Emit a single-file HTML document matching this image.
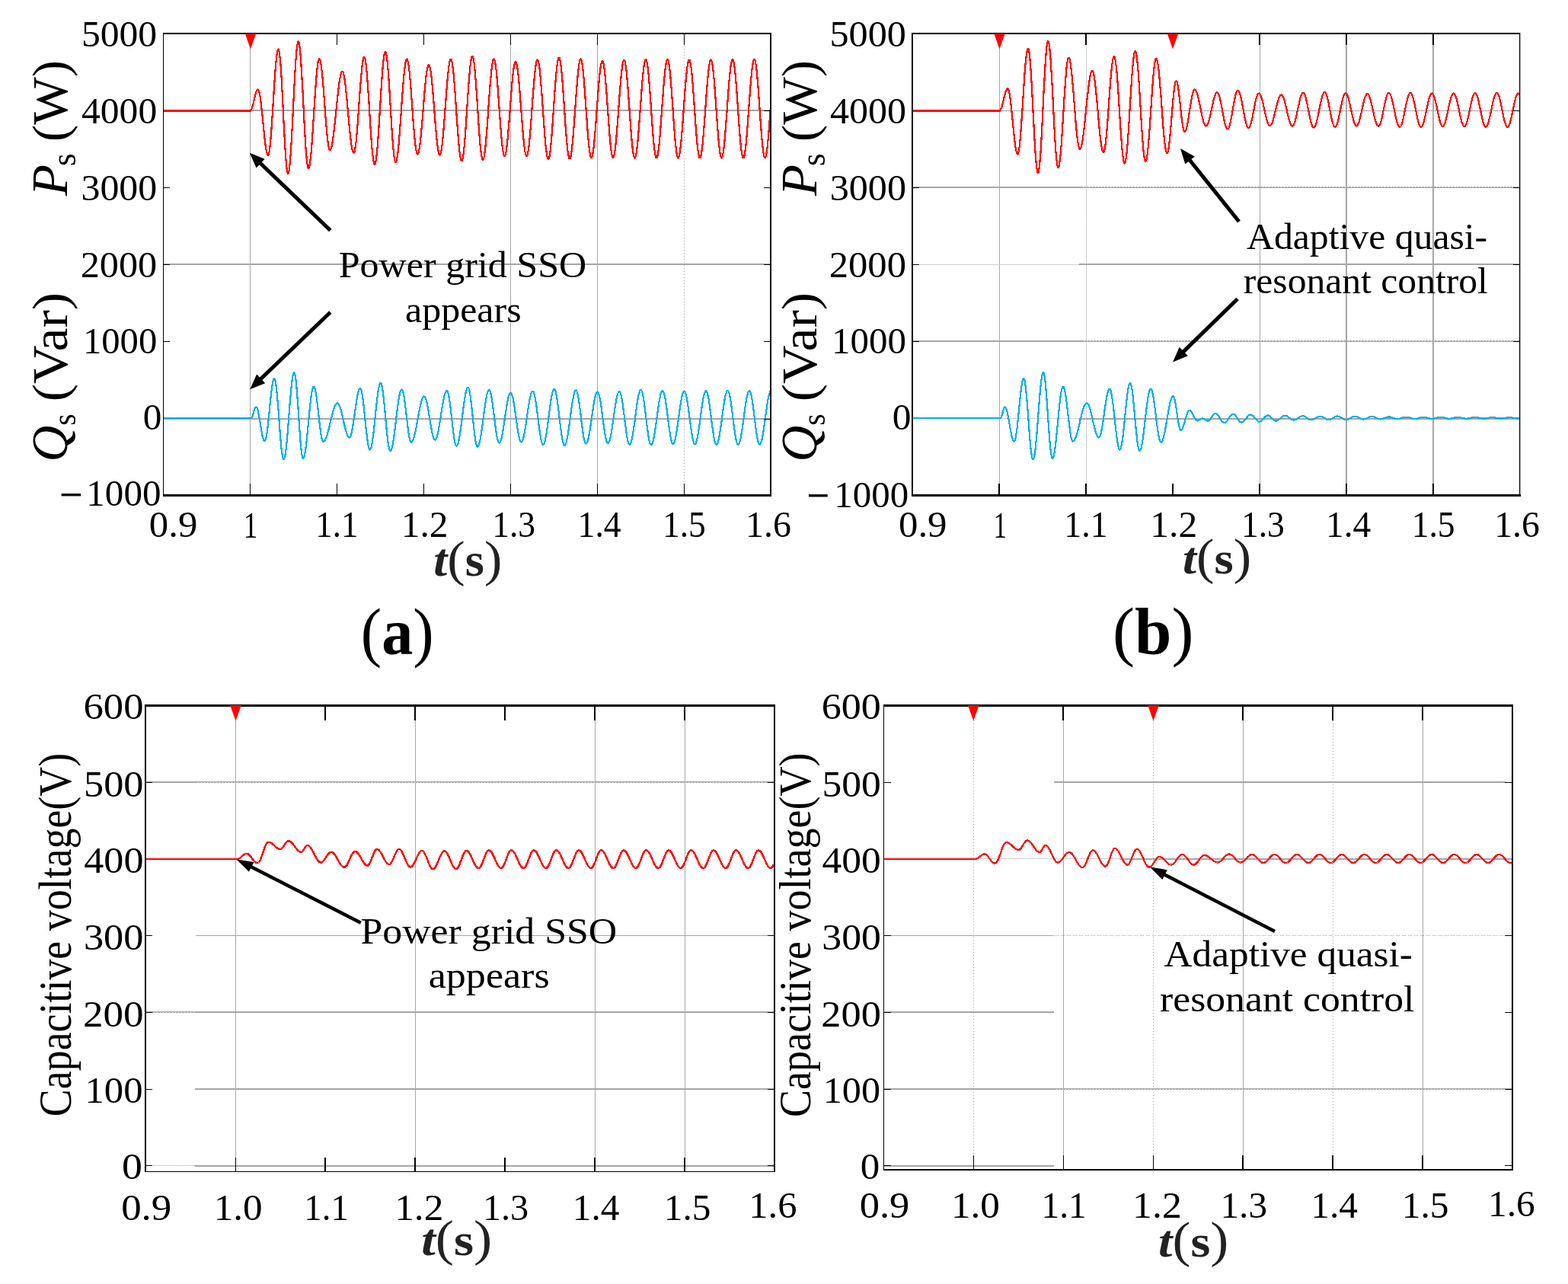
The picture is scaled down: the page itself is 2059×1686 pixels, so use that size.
<!DOCTYPE html>
<html lang="en"><head><meta charset="utf-8"><title>Simulation results</title>
<style>html,body{margin:0;padding:0;background:#fff}svg{display:block}text{font-family:"Liberation Serif","DejaVu Serif",serif;white-space:pre}</style>
</head><body>
<svg width="2059" height="1686" viewBox="0 0 2059 1686">
<rect width="2059" height="1686" fill="#fff"/>
<g id="plot-a">
<rect x="215" y="144" width="797" height="2" fill="#a6a6a6"/>
<rect x="215" y="346" width="797" height="2" fill="#a6a6a6"/>
<rect x="215" y="549" width="797" height="2" fill="#a6a6a6"/>
<rect x="328" y="44" width="1" height="606" fill="#a6a6a6"/>
<rect x="670" y="44" width="1" height="606" fill="#a6a6a6"/>
<rect x="784" y="44" width="1" height="606" fill="#a6a6a6"/>
<line x1="898.5" y1="44" x2="898.5" y2="650" stroke="#a0a0a0" stroke-width="1" stroke-dasharray="1 3"/>
<g shape-rendering="crispEdges">
<rect x="215" y="144" width="115" height="3" fill="#ff0000"/>
<polyline points="328.5,145.5 329.0,145.3 329.5,144.8 330.0,144.0 330.6,142.8 331.1,141.4 331.6,139.7 332.1,137.9 332.6,135.8 333.1,133.7 333.6,131.5 334.1,129.3 334.6,127.2 335.2,125.1 335.7,123.3 336.2,121.6 336.7,120.2 337.2,119.0 337.7,118.2 338.2,117.7 338.8,117.5 339.3,117.8 339.8,118.8 340.3,120.3 340.8,122.4 341.3,125.1 341.8,128.3 342.3,132.0 342.8,136.1 343.3,140.6 343.8,145.3 344.4,150.3 344.9,155.4 345.4,160.6 345.9,165.8 346.4,170.9 346.9,175.9 347.4,180.7 347.9,185.1 348.4,189.2 348.9,192.9 349.5,196.1 350.0,198.8 350.5,200.9 351.0,202.5 351.5,203.4 352.0,203.8 352.5,203.3 353.0,201.9 353.5,199.6 354.0,196.3 354.5,192.3 355.0,187.5 355.5,181.9 356.0,175.7 356.5,168.9 357.0,161.7 357.5,154.1 358.0,146.2 358.5,138.2 359.0,130.1 359.5,122.0 360.0,114.2 360.5,106.5 361.0,99.3 361.5,92.5 362.0,86.3 362.5,80.8 363.0,76.0 363.5,71.9 364.0,68.7 364.5,66.4 365.0,65.0 365.5,64.5 366.0,65.1 366.5,67.1 367.0,70.2 367.5,74.6 368.1,80.1 368.6,86.7 369.1,94.1 369.6,102.4 370.1,111.4 370.6,121.0 371.1,130.9 371.6,141.1 372.1,151.4 372.6,161.6 373.1,171.5 373.7,181.1 374.2,190.1 374.7,198.4 375.2,205.8 375.7,212.4 376.2,217.9 376.7,222.3 377.2,225.4 377.7,227.4 378.2,228.0 378.8,227.4 379.2,225.7 379.8,222.8 380.2,218.8 380.8,213.7 381.2,207.7 381.8,200.8 382.2,193.1 382.8,184.6 383.2,175.6 383.8,166.1 384.2,156.3 384.8,146.3 385.2,136.2 385.8,126.2 386.2,116.4 386.8,106.9 387.2,97.9 387.8,89.4 388.2,81.7 388.8,74.8 389.2,68.8 389.8,63.7 390.2,59.7 390.8,56.8 391.2,55.1 391.8,54.5 392.3,55.1 392.8,56.9 393.3,59.9 393.8,64.0 394.3,69.2 394.8,75.4 395.3,82.5 395.8,90.5 396.3,99.1 396.8,108.2 397.4,117.8 397.9,127.7 398.4,137.8 398.9,147.8 399.4,157.7 399.9,167.3 400.4,176.4 400.9,185.0 401.4,193.0 401.9,200.1 402.5,206.3 403.0,211.5 403.5,215.6 404.0,218.6 404.5,220.4 405.0,221.0 405.5,220.5 406.0,219.2 406.5,217.0 407.0,213.9 407.5,210.0 408.1,205.3 408.6,199.9 409.1,193.9 409.6,187.3 410.1,180.2 410.6,172.8 411.1,165.0 411.6,157.1 412.1,149.0 412.6,140.9 413.1,133.0 413.7,125.2 414.2,117.8 414.7,110.7 415.2,104.1 415.7,98.1 416.2,92.7 416.7,88.0 417.2,84.1 417.7,81.0 418.2,78.8 418.7,77.5 419.2,77.0 419.8,77.4 420.2,78.5 420.8,80.4 421.2,82.9 421.8,86.2 422.2,90.1 422.8,94.6 423.2,99.6 423.8,105.1 424.2,111.0 424.8,117.2 425.2,123.6 425.8,130.3 426.2,137.0 426.8,143.7 427.2,150.4 427.8,156.8 428.2,163.0 428.8,168.9 429.2,174.4 429.8,179.4 430.2,183.9 430.8,187.8 431.2,191.1 431.8,193.6 432.2,195.5 432.8,196.6 433.2,197.0 433.8,196.8 434.3,196.0 434.8,194.8 435.3,193.1 435.8,190.9 436.3,188.3 436.8,185.3 437.3,181.9 437.8,178.1 438.3,174.1 438.8,169.7 439.3,165.1 439.9,160.4 440.4,155.4 440.9,150.4 441.4,145.4 441.9,140.3 442.4,135.3 442.9,130.4 443.4,125.6 443.9,121.0 444.4,116.7 444.9,112.6 445.4,108.9 445.9,105.5 446.5,102.5 447.0,99.8 447.5,97.7 448.0,96.0 448.5,94.7 449.0,94.0 449.5,93.8 450.0,94.0 450.5,94.9 451.0,96.4 451.5,98.4 452.0,100.9 452.5,104.0 453.0,107.5 453.5,111.5 454.0,115.8 454.5,120.5 455.0,125.5 455.5,130.7 456.0,136.1 456.5,141.7 457.0,147.2 457.5,152.8 458.0,158.4 458.5,163.8 459.0,169.0 459.5,174.0 460.0,178.7 460.5,183.0 461.0,187.0 461.5,190.5 462.0,193.6 462.5,196.1 463.0,198.1 463.5,199.6 464.0,200.5 464.5,200.8 465.0,200.3 465.5,199.1 466.0,197.0 466.5,194.1 467.0,190.4 467.6,186.0 468.1,181.0 468.6,175.4 469.1,169.3 469.6,162.8 470.1,155.9 470.6,148.8 471.1,141.5 471.6,134.2 472.1,127.0 472.6,119.8 473.2,113.0 473.7,106.4 474.2,100.3 474.7,94.7 475.2,89.7 475.7,85.3 476.2,81.7 476.7,78.8 477.2,76.7 477.7,75.4 478.2,75.0 478.8,75.5 479.3,76.9 479.8,79.2 480.3,82.5 480.8,86.6 481.3,91.5 481.8,97.1 482.3,103.3 482.8,110.2 483.3,117.5 483.9,125.2 484.4,133.2 484.9,141.3 485.4,149.5 485.9,157.6 486.4,165.6 486.9,173.2 487.4,180.6 487.9,187.4 488.4,193.7 488.9,199.3 489.5,204.2 490.0,208.3 490.5,211.5 491.0,213.9 491.5,215.3 492.0,215.8 492.5,215.3 493.0,213.9 493.5,211.6 494.0,208.4 494.5,204.4 495.0,199.6 495.5,194.1 496.0,187.9 496.5,181.2 497.0,173.9 497.5,166.3 498.0,158.3 498.5,150.1 499.0,141.9 499.5,133.6 500.0,125.4 500.5,117.5 501.0,109.8 501.5,102.6 502.0,95.8 502.5,89.6 503.0,84.1 503.5,79.3 504.0,75.3 504.5,72.1 505.0,69.9 505.5,68.5 506.0,68.0 506.5,68.5 507.0,70.0 507.5,72.4 508.0,75.7 508.5,79.9 509.0,85.0 509.5,90.7 510.0,97.2 510.5,104.2 511.0,111.8 511.5,119.7 512.0,127.9 512.5,136.3 513.0,144.7 513.5,153.1 514.0,161.3 514.5,169.2 515.0,176.8 515.5,183.8 516.0,190.3 516.5,196.0 517.0,201.1 517.5,205.3 518.0,208.6 518.5,211.0 519.0,212.5 519.5,213.0 520.0,212.6 520.5,211.4 521.0,209.5 521.5,206.7 522.0,203.3 522.6,199.2 523.1,194.4 523.6,189.1 524.1,183.3 524.6,177.0 525.1,170.3 525.6,163.4 526.1,156.2 526.6,148.9 527.1,141.6 527.6,134.3 528.1,127.1 528.7,120.2 529.2,113.5 529.7,107.2 530.2,101.4 530.7,96.1 531.2,91.3 531.7,87.2 532.2,83.8 532.7,81.0 533.2,79.1 533.7,77.9 534.2,77.5 534.8,77.9 535.2,79.1 535.8,81.0 536.2,83.7 536.8,87.1 537.2,91.1 537.8,95.8 538.2,101.0 538.8,106.7 539.2,112.9 539.8,119.4 540.2,126.1 540.8,133.0 541.2,140.0 541.8,147.0 542.2,153.9 542.8,160.6 543.2,167.1 543.8,173.3 544.2,179.0 544.8,184.2 545.2,188.9 545.8,192.9 546.2,196.3 546.8,199.0 547.2,200.9 547.8,202.1 548.2,202.5 548.8,202.2 549.3,201.1 549.8,199.4 550.3,197.1 550.8,194.1 551.3,190.5 551.8,186.4 552.3,181.8 552.8,176.7 553.3,171.3 553.8,165.5 554.4,159.5 554.9,153.3 555.4,146.9 555.9,140.6 556.4,134.2 556.9,128.0 557.4,122.0 557.9,116.2 558.4,110.8 558.9,105.7 559.4,101.1 559.9,97.0 560.5,93.4 561.0,90.4 561.5,88.1 562.0,86.4 562.5,85.3 563.0,85.0 563.5,85.3 564.0,86.4 564.5,88.1 565.0,90.5 565.5,93.5 566.0,97.1 566.5,101.2 567.0,105.9 567.5,111.0 568.0,116.5 568.5,122.3 569.0,128.4 569.5,134.7 570.0,141.0 570.5,147.5 571.0,153.8 571.5,160.1 572.0,166.2 572.5,172.0 573.0,177.5 573.5,182.6 574.0,187.3 574.5,191.4 575.0,195.0 575.5,198.0 576.0,200.4 576.5,202.1 577.0,203.2 577.5,203.5 578.0,203.1 578.5,202.0 579.0,200.2 579.5,197.7 580.0,194.5 580.5,190.7 581.0,186.2 581.5,181.3 582.0,175.9 582.5,170.0 583.0,163.8 583.5,157.4 584.0,150.7 584.5,143.9 585.0,137.1 585.5,130.3 586.0,123.6 586.5,117.2 587.0,111.0 587.5,105.1 588.0,99.7 588.5,94.8 589.0,90.3 589.5,86.5 590.0,83.3 590.5,80.8 591.0,79.0 591.5,77.9 592.0,77.5 592.5,77.9 593.0,79.2 593.5,81.3 594.0,84.1 594.5,87.8 595.1,92.1 595.6,97.1 596.1,102.7 596.6,108.8 597.1,115.4 597.6,122.3 598.1,129.5 598.6,136.9 599.1,144.4 599.6,151.9 600.1,159.3 600.7,166.5 601.2,173.4 601.7,180.0 602.2,186.1 602.7,191.7 603.2,196.7 603.7,201.0 604.2,204.6 604.7,207.5 605.2,209.6 605.7,210.8 606.2,211.2 606.8,210.8 607.2,209.5 607.8,207.4 608.2,204.4 608.8,200.7 609.2,196.3 609.8,191.1 610.2,185.4 610.8,179.1 611.2,172.3 611.8,165.2 612.2,157.8 612.8,150.2 613.2,142.5 613.8,134.8 614.2,127.2 614.8,119.8 615.2,112.7 615.8,105.9 616.2,99.6 616.8,93.9 617.2,88.7 617.8,84.3 618.2,80.6 618.8,77.6 619.2,75.5 619.8,74.2 620.2,73.8 620.8,74.2 621.3,75.6 621.8,77.9 622.3,81.0 622.8,85.0 623.3,89.7 623.8,95.1 624.3,101.2 624.8,107.8 625.3,114.9 625.9,122.3 626.4,130.0 626.9,137.9 627.4,145.8 627.9,153.7 628.4,161.4 628.9,168.9 629.4,175.9 629.9,182.6 630.4,188.6 630.9,194.1 631.5,198.8 632.0,202.8 632.5,205.9 633.0,208.2 633.5,209.5 634.0,210.0 634.5,209.6 635.0,208.5 635.5,206.5 636.0,203.9 636.5,200.5 637.0,196.5 637.5,191.8 638.0,186.6 638.5,180.9 639.0,174.8 639.5,168.3 640.0,161.5 640.5,154.5 641.0,147.3 641.5,140.2 642.0,133.0 642.5,126.0 643.0,119.2 643.5,112.7 644.0,106.6 644.5,100.9 645.0,95.7 645.5,91.0 646.0,87.0 646.5,83.6 647.0,81.0 647.5,79.0 648.0,77.9 648.5,77.5 649.0,77.9 649.5,79.1 650.0,81.1 650.5,83.8 651.0,87.3 651.5,91.4 652.0,96.2 652.5,101.5 653.0,107.3 653.5,113.6 654.0,120.2 654.5,127.1 655.0,134.1 655.5,141.2 656.0,148.4 656.5,155.4 657.0,162.3 657.5,168.9 658.0,175.2 658.5,181.0 659.0,186.3 659.5,191.1 660.0,195.2 660.5,198.7 661.0,201.4 661.5,203.4 662.0,204.6 662.5,205.0 663.0,204.6 663.5,203.6 664.0,201.8 664.5,199.3 665.0,196.1 665.5,192.4 666.0,188.0 666.5,183.2 667.0,177.8 667.5,172.1 668.0,166.0 668.5,159.7 669.0,153.1 669.5,146.5 670.0,139.8 670.5,133.1 671.0,126.6 671.5,120.2 672.0,114.1 672.5,108.4 673.0,103.1 673.5,98.2 674.0,93.9 674.5,90.1 675.0,87.0 675.5,84.5 676.0,82.7 676.5,81.6 677.0,81.2 677.5,81.6 678.0,82.7 678.5,84.5 679.0,87.0 679.5,90.1 680.0,93.9 680.5,98.2 681.0,103.1 681.5,108.4 682.0,114.1 682.5,120.2 683.0,126.6 683.5,133.1 684.0,139.8 684.5,146.5 685.0,153.1 685.5,159.7 686.0,166.0 686.5,172.1 687.0,177.8 687.5,183.2 688.0,188.0 688.5,192.4 689.0,196.1 689.5,199.3 690.0,201.8 690.5,203.6 691.0,204.6 691.5,205.0 692.0,204.6 692.5,203.4 693.0,201.5 693.5,198.7 694.0,195.3 694.6,191.2 695.1,186.5 695.6,181.2 696.1,175.4 696.6,169.2 697.1,162.6 697.6,155.8 698.1,148.8 698.6,141.8 699.1,134.7 699.6,127.7 700.2,120.9 700.7,114.3 701.2,108.1 701.7,102.3 702.2,97.0 702.7,92.3 703.2,88.2 703.7,84.8 704.2,82.0 704.7,80.1 705.2,78.9 705.8,78.5 706.3,78.9 706.8,80.1 707.3,82.2 707.8,85.0 708.3,88.5 708.8,92.7 709.3,97.6 709.8,103.1 710.3,109.0 710.8,115.4 711.3,122.2 711.9,129.2 712.4,136.4 712.9,143.8 713.4,151.1 713.9,158.3 714.4,165.3 714.9,172.1 715.4,178.5 715.9,184.4 716.4,189.9 716.9,194.8 717.5,199.0 718.0,202.5 718.5,205.3 719.0,207.4 719.5,208.6 720.0,209.0 720.5,208.6 721.0,207.3 721.5,205.3 722.0,202.4 722.5,198.8 723.0,194.4 723.5,189.4 724.0,183.9 724.5,177.8 725.0,171.2 725.5,164.3 726.0,157.1 726.5,149.7 727.0,142.2 727.5,134.8 728.0,127.4 728.5,120.2 729.0,113.3 729.5,106.7 730.0,100.6 730.5,95.1 731.0,90.1 731.5,85.7 732.0,82.1 732.5,79.2 733.0,77.2 733.5,75.9 734.0,75.5 734.5,75.9 735.0,77.2 735.5,79.2 736.0,82.1 736.5,85.7 737.0,90.0 737.5,95.0 738.0,100.5 738.5,106.6 739.0,113.1 739.5,120.0 740.0,127.2 740.5,134.6 741.0,142.0 741.5,149.4 742.0,156.8 742.5,164.0 743.0,170.9 743.5,177.4 744.0,183.5 744.5,189.0 745.0,194.0 745.5,198.3 746.0,201.9 746.5,204.8 747.0,206.8 747.5,208.1 748.0,208.5 748.5,208.1 749.0,207.0 749.5,205.1 750.0,202.4 750.5,199.1 751.0,195.1 751.5,190.6 752.0,185.4 752.5,179.8 753.0,173.7 753.5,167.2 754.0,160.5 754.5,153.6 755.0,146.5 755.5,139.5 756.0,132.4 756.5,125.5 757.0,118.8 757.5,112.3 758.0,106.2 758.5,100.6 759.0,95.4 759.5,90.9 760.0,86.9 760.5,83.6 761.0,80.9 761.5,79.0 762.0,77.9 762.5,77.5 763.0,77.9 763.5,79.1 764.0,81.1 764.5,83.9 765.0,87.4 765.5,91.6 766.0,96.5 766.5,101.9 767.0,107.8 767.5,114.2 768.0,120.9 768.5,127.8 769.0,135.0 769.5,142.2 770.0,149.5 770.5,156.7 771.0,163.6 771.5,170.3 772.0,176.7 772.5,182.6 773.0,188.0 773.5,192.9 774.0,197.1 774.5,200.6 775.0,203.4 775.5,205.4 776.0,206.6 776.5,207.0 777.0,206.6 777.5,205.5 778.0,203.7 778.5,201.1 779.0,197.9 779.5,194.1 780.0,189.6 780.5,184.6 781.0,179.1 781.5,173.2 782.0,167.0 782.5,160.5 783.0,153.8 783.5,146.9 784.0,140.1 784.5,133.2 785.0,126.5 785.5,120.0 786.0,113.8 786.5,107.9 787.0,102.4 787.5,97.4 788.0,92.9 788.5,89.1 789.0,85.9 789.5,83.3 790.0,81.5 790.5,80.4 791.0,80.0 791.5,80.4 792.0,81.6 792.5,83.6 793.0,86.3 793.5,89.7 794.0,93.9 794.5,98.6 795.0,103.9 795.5,109.7 796.0,115.9 796.5,122.5 797.0,129.4 797.5,136.4 798.0,143.5 798.5,150.6 799.0,157.6 799.5,164.5 800.0,171.1 800.5,177.3 801.0,183.1 801.5,188.4 802.0,193.1 802.5,197.3 803.0,200.7 803.5,203.4 804.0,205.4 804.5,206.6 805.0,207.0 805.5,206.6 806.0,205.5 806.5,203.6 807.0,201.1 807.5,197.8 808.0,193.9 808.5,189.5 809.0,184.4 809.5,178.9 810.0,173.0 810.5,166.7 811.0,160.1 811.5,153.4 812.0,146.5 812.5,139.5 813.0,132.6 813.5,125.9 814.0,119.3 814.5,113.0 815.0,107.1 815.5,101.6 816.0,96.5 816.5,92.1 817.0,88.2 817.5,84.9 818.0,82.4 818.5,80.5 819.0,79.4 819.5,79.0 820.0,79.4 820.5,80.6 821.0,82.6 821.5,85.4 822.0,88.8 822.5,93.0 823.0,97.8 823.5,103.2 824.0,109.1 824.5,115.4 825.0,122.0 825.5,129.0 826.0,136.1 826.5,143.2 827.0,150.4 827.5,157.5 828.0,164.5 828.5,171.1 829.0,177.4 829.5,183.3 830.0,188.7 830.5,193.5 831.0,197.7 831.5,201.1 832.0,203.9 832.5,205.9 833.0,207.1 833.5,207.5 834.0,207.1 834.5,206.0 835.0,204.1 835.5,201.5 836.0,198.2 836.5,194.3 837.0,189.8 837.5,184.7 838.0,179.1 838.5,173.1 839.0,166.7 839.5,160.1 840.0,153.2 840.5,146.3 841.0,139.2 841.5,132.3 842.0,125.4 842.5,118.8 843.0,112.4 843.5,106.4 844.0,100.8 844.5,95.7 845.0,91.2 845.5,87.3 846.0,84.0 846.5,81.4 847.0,79.5 847.5,78.4 848.0,78.0 848.5,78.4 849.0,79.6 849.5,81.6 850.0,84.4 850.5,87.9 851.0,92.1 851.5,97.0 852.0,102.4 852.5,108.3 853.0,114.7 853.5,121.4 854.0,128.3 854.5,135.5 855.0,142.8 855.5,150.0 856.0,157.2 856.5,164.1 857.0,170.8 857.5,177.2 858.0,183.1 858.5,188.5 859.0,193.4 859.5,197.6 860.0,201.1 860.5,203.9 861.0,205.9 861.5,207.1 862.0,207.5 862.5,207.1 863.0,206.0 863.5,204.1 864.0,201.5 864.5,198.2 865.0,194.3 865.5,189.8 866.0,184.7 866.5,179.1 867.0,173.1 867.5,166.7 868.0,160.1 868.5,153.2 869.0,146.3 869.5,139.2 870.0,132.3 870.5,125.4 871.0,118.8 871.5,112.4 872.0,106.4 872.5,100.8 873.0,95.7 873.5,91.2 874.0,87.3 874.5,84.0 875.0,81.4 875.5,79.5 876.0,78.4 876.5,78.0 877.0,78.4 877.5,79.6 878.0,81.6 878.5,84.4 879.0,87.9 879.5,92.1 880.0,97.0 880.5,102.4 881.0,108.3 881.5,114.7 882.0,121.4 882.5,128.3 883.0,135.5 883.5,142.8 884.0,150.0 884.5,157.2 885.0,164.1 885.5,170.8 886.0,177.2 886.5,183.1 887.0,188.5 887.5,193.4 888.0,197.6 888.5,201.1 889.0,203.9 889.5,205.9 890.0,207.1 890.5,207.5 891.0,207.1 891.5,206.0 892.0,204.1 892.5,201.5 893.0,198.3 893.5,194.3 894.0,189.8 894.5,184.8 895.0,179.2 895.5,173.2 896.0,166.9 896.5,160.3 897.0,153.4 897.5,146.5 898.0,139.5 898.5,132.6 899.0,125.7 899.5,119.1 900.0,112.8 900.5,106.8 901.0,101.2 901.5,96.2 902.0,91.7 902.5,87.7 903.0,84.5 903.5,81.9 904.0,80.0 904.5,78.9 905.0,78.5 905.5,78.9 906.0,80.1 906.5,82.1 907.0,84.9 907.5,88.4 908.0,92.6 908.5,97.4 909.0,102.8 909.5,108.7 910.0,115.0 910.5,121.7 911.0,128.6 911.5,135.8 912.0,143.0 912.5,150.2 913.0,157.4 913.5,164.3 914.0,171.0 914.5,177.3 915.0,183.2 915.5,188.6 916.0,193.4 916.5,197.6 917.0,201.1 917.5,203.9 918.0,205.9 918.5,207.1 919.0,207.5 919.5,207.1 920.0,206.0 920.5,204.1 921.0,201.5 921.5,198.3 922.0,194.3 922.5,189.8 923.0,184.8 923.5,179.2 924.0,173.2 924.5,166.9 925.0,160.3 925.5,153.4 926.0,146.5 926.5,139.5 927.0,132.6 927.5,125.7 928.0,119.1 928.5,112.8 929.0,106.8 929.5,101.2 930.0,96.2 930.5,91.7 931.0,87.7 931.5,84.5 932.0,81.9 932.5,80.0 933.0,78.9 933.5,78.5 934.0,78.9 934.5,80.1 935.0,82.1 935.5,84.9 936.0,88.4 936.5,92.6 937.0,97.4 937.5,102.8 938.0,108.7 938.5,115.0 939.0,121.7 939.5,128.6 940.0,135.8 940.5,143.0 941.0,150.2 941.5,157.4 942.0,164.3 942.5,171.0 943.0,177.3 943.5,183.2 944.0,188.6 944.5,193.4 945.0,197.6 945.5,201.1 946.0,203.9 946.5,205.9 947.0,207.1 947.5,207.5 948.0,207.1 948.5,206.0 949.0,204.1 949.5,201.5 950.0,198.2 950.5,194.3 951.0,189.8 951.5,184.7 952.0,179.1 952.5,173.1 953.0,166.7 953.5,160.1 954.0,153.2 954.5,146.3 955.0,139.2 955.5,132.3 956.0,125.4 956.5,118.8 957.0,112.4 957.5,106.4 958.0,100.8 958.5,95.7 959.0,91.2 959.5,87.3 960.0,84.0 960.5,81.4 961.0,79.5 961.5,78.4 962.0,78.0 962.5,78.4 963.0,79.6 963.5,81.6 964.0,84.4 964.5,87.9 965.0,92.1 965.5,97.0 966.0,102.4 966.5,108.3 967.0,114.7 967.5,121.4 968.0,128.3 968.5,135.5 969.0,142.8 969.5,150.0 970.0,157.2 970.5,164.1 971.0,170.8 971.5,177.2 972.0,183.1 972.5,188.5 973.0,193.4 973.5,197.6 974.0,201.1 974.5,203.9 975.0,205.9 975.5,207.1 976.0,207.5 976.5,207.1 977.0,206.0 977.5,204.1 978.0,201.5 978.5,198.2 979.0,194.3 979.5,189.8 980.0,184.7 980.5,179.1 981.0,173.1 981.5,166.7 982.0,160.1 982.5,153.2 983.0,146.3 983.5,139.2 984.0,132.3 984.5,125.4 985.0,118.8 985.5,112.4 986.0,106.4 986.5,100.8 987.0,95.7 987.5,91.2 988.0,87.3 988.5,84.0 989.0,81.4 989.5,79.5 990.0,78.4 990.5,78.0 991.0,78.4 991.5,79.6 992.0,81.6 992.5,84.4 993.0,87.9 993.5,92.1 994.0,96.9 994.5,102.3 995.0,108.2 995.5,114.5 996.0,121.2 996.5,128.1 997.0,135.3 997.5,142.5 998.0,149.7 998.5,156.9 999.0,163.8 999.5,170.5 1000.0,176.8 1000.5,182.7 1001.0,188.1 1001.5,192.9 1002.0,197.1 1002.5,200.6 1003.0,203.4 1003.5,205.4 1004.0,206.6 1004.5,207.0 1005.0,206.6 1005.5,205.5 1006.0,203.6 1006.5,201.0 1007.0,197.8 1007.5,193.8 1008.0,189.3 1008.5,184.3 1009.0,178.7 1009.5,172.7 1010.0,166.4 1010.5,159.8 1011.0,152.9 1011.5,146.0 1012.0,139.0" fill="none" stroke="#ff0000" stroke-width="2.2" stroke-linejoin="round"/>
<rect x="215" y="548" width="115" height="2" fill="#00aeef"/>
<polyline points="329.5,549.5 330.0,549.3 330.5,548.6 331.1,547.6 331.6,546.3 332.1,544.7 332.6,542.9 333.1,541.1 333.7,539.3 334.2,537.7 334.7,536.4 335.2,535.4 335.7,534.7 336.2,534.5 336.8,534.7 337.3,535.4 337.8,536.5 338.3,538.1 338.8,540.0 339.3,542.2 339.8,544.8 340.3,547.6 340.9,550.6 341.4,553.7 341.9,556.9 342.4,560.1 342.9,563.2 343.4,566.2 343.9,569.0 344.4,571.5 344.9,573.8 345.5,575.7 346.0,577.2 346.5,578.3 347.0,579.0 347.5,579.2 348.0,578.9 348.5,578.0 349.0,576.4 349.5,574.2 350.1,571.4 350.6,568.1 351.1,564.3 351.6,560.2 352.1,555.6 352.6,550.8 353.1,545.8 353.6,540.7 354.1,535.5 354.6,530.4 355.1,525.4 355.7,520.6 356.2,516.1 356.7,511.9 357.2,508.1 357.7,504.9 358.2,502.1 358.7,499.9 359.2,498.3 359.7,497.3 360.2,497.0 360.8,497.5 361.3,498.8 361.8,501.0 362.3,504.1 362.8,508.0 363.3,512.6 363.8,517.8 364.3,523.6 364.8,529.8 365.4,536.4 365.9,543.2 366.4,550.1 366.9,557.1 367.4,563.9 367.9,570.5 368.4,576.7 368.9,582.5 369.4,587.7 369.9,592.3 370.5,596.1 371.0,599.2 371.5,601.4 372.0,602.8 372.5,603.2 373.0,602.9 373.5,601.7 374.0,599.8 374.5,597.2 375.0,593.9 375.6,589.9 376.1,585.4 376.6,580.3 377.1,574.8 377.6,568.8 378.1,562.6 378.6,556.1 379.1,549.6 379.6,542.9 380.1,536.4 380.6,529.9 381.2,523.7 381.7,517.8 382.2,512.2 382.7,507.1 383.2,502.6 383.7,498.6 384.2,495.3 384.7,492.7 385.2,490.8 385.7,489.6 386.2,489.2 386.8,489.8 387.3,491.3 387.8,493.9 388.3,497.5 388.8,501.9 389.3,507.1 389.8,513.1 390.3,519.7 390.8,526.7 391.4,534.2 391.9,541.8 392.4,549.5 392.9,557.1 393.4,564.5 393.9,571.6 394.4,578.1 394.9,584.1 395.4,589.4 396.0,593.8 396.5,597.3 397.0,599.9 397.5,601.5 398.0,602.0 398.5,601.7 399.0,600.8 399.5,599.3 400.0,597.3 400.5,594.8 401.0,591.7 401.5,588.2 402.0,584.2 402.5,579.9 403.0,575.3 403.5,570.4 404.0,565.3 404.5,560.0 405.0,554.8 405.5,549.5 406.0,544.2 406.5,539.1 407.0,534.2 407.5,529.6 408.0,525.3 408.5,521.3 409.0,517.8 409.5,514.7 410.0,512.2 410.5,510.2 411.0,508.7 411.5,507.8 412.0,507.5 412.5,507.8 413.0,508.6 413.5,510.0 414.0,512.0 414.5,514.4 415.0,517.3 415.5,520.6 416.0,524.3 416.5,528.3 417.0,532.5 417.5,537.0 418.0,541.5 418.5,546.0 419.0,550.5 419.5,555.0 420.0,559.2 420.5,563.2 421.0,566.9 421.5,570.2 422.0,573.1 422.5,575.5 423.0,577.5 423.5,578.9 424.0,579.7 424.5,580.0 425.0,579.9 425.5,579.6 426.0,579.2 426.5,578.6 427.0,577.7 427.5,576.8 428.0,575.6 428.5,574.4 429.0,572.9 429.5,571.4 430.0,569.7 430.5,567.9 431.0,566.0 431.5,564.1 432.0,562.1 432.5,560.0 433.0,557.8 433.5,555.7 434.0,553.5 434.5,551.4 435.0,549.3 435.5,547.2 436.0,545.2 436.5,543.2 437.0,541.3 437.5,539.5 438.0,537.9 438.5,536.3 439.0,534.9 439.5,533.6 440.0,532.5 440.5,531.5 441.0,530.7 441.5,530.1 442.0,529.6 442.5,529.3 443.0,529.2 443.5,529.4 444.0,529.7 444.5,530.3 445.0,531.1 445.5,532.1 446.0,533.3 446.6,534.7 447.1,536.3 447.6,538.0 448.1,539.9 448.6,541.9 449.1,544.0 449.6,546.2 450.1,548.4 450.6,550.7 451.1,553.0 451.6,555.3 452.1,557.5 452.7,559.7 453.2,561.8 453.7,563.8 454.2,565.7 454.7,567.5 455.2,569.0 455.7,570.4 456.2,571.7 456.7,572.7 457.2,573.5 457.7,574.0 458.2,574.4 458.8,574.5 459.3,574.3 459.8,573.7 460.3,572.7 460.8,571.3 461.3,569.6 461.8,567.5 462.3,565.1 462.8,562.4 463.3,559.4 463.8,556.2 464.3,552.9 464.9,549.4 465.4,545.9 465.9,542.2 466.4,538.6 466.9,535.1 467.4,531.6 467.9,528.3 468.4,525.1 468.9,522.1 469.4,519.4 469.9,517.0 470.5,514.9 471.0,513.2 471.5,511.8 472.0,510.8 472.5,510.2 473.0,510.0 473.5,510.3 474.0,511.3 474.5,512.8 475.0,515.0 475.6,517.7 476.1,520.9 476.6,524.6 477.1,528.7 477.6,533.1 478.1,537.8 478.6,542.7 479.1,547.7 479.6,552.8 480.1,557.8 480.6,562.7 481.2,567.4 481.7,571.8 482.2,575.9 482.7,579.6 483.2,582.8 483.7,585.5 484.2,587.7 484.7,589.2 485.2,590.2 485.8,590.5 486.2,590.2 486.8,589.4 487.2,588.0 487.8,586.2 488.2,583.8 488.8,581.0 489.2,577.7 489.8,574.0 490.2,570.0 490.8,565.7 491.2,561.2 491.8,556.5 492.2,551.6 492.8,546.8 493.2,541.9 493.8,537.0 494.2,532.3 494.8,527.8 495.2,523.5 495.8,519.5 496.2,515.8 496.8,512.5 497.2,509.7 497.8,507.3 498.2,505.5 498.8,504.1 499.2,503.3 499.8,503.0 500.3,503.4 500.8,504.4 501.3,506.1 501.8,508.5 502.3,511.5 502.8,515.1 503.3,519.1 503.8,523.7 504.3,528.6 504.9,533.7 505.4,539.2 505.9,544.7 506.4,550.3 506.9,555.8 507.4,561.3 507.9,566.4 508.4,571.3 508.9,575.9 509.4,579.9 509.9,583.5 510.5,586.5 511.0,588.9 511.5,590.6 512.0,591.6 512.5,592.0 513.0,591.8 513.5,591.1 514.0,590.0 514.5,588.5 515.0,586.6 515.5,584.3 516.0,581.6 516.5,578.6 517.0,575.4 517.5,571.8 518.0,568.0 518.5,564.1 519.0,560.0 519.5,555.8 520.0,551.6 520.5,547.4 521.0,543.2 521.5,539.1 522.0,535.2 522.5,531.4 523.0,527.9 523.5,524.6 524.0,521.6 524.5,519.0 525.0,516.7 525.5,514.7 526.0,513.2 526.5,512.1 527.0,511.5 527.5,511.2 528.0,511.5 528.5,512.3 529.0,513.7 529.5,515.5 530.0,517.9 530.5,520.7 531.0,523.8 531.5,527.4 532.0,531.2 532.5,535.3 533.0,539.5 533.5,543.8 534.0,548.2 534.5,552.5 535.0,556.7 535.5,560.8 536.0,564.6 536.5,568.2 537.0,571.3 537.5,574.1 538.0,576.5 538.5,578.3 539.0,579.7 539.5,580.5 540.0,580.8 540.5,580.6 541.0,580.2 541.5,579.6 542.0,578.7 542.5,577.6 543.0,576.2 543.5,574.7 544.0,572.9 544.5,570.9 545.0,568.8 545.5,566.5 546.0,564.1 546.5,561.5 547.0,558.9 547.5,556.2 548.0,553.4 548.5,550.6 549.0,547.8 549.5,545.1 550.0,542.4 550.5,539.7 551.0,537.2 551.5,534.8 552.0,532.5 552.5,530.3 553.0,528.4 553.5,526.6 554.0,525.0 554.5,523.7 555.0,522.5 555.5,521.7 556.0,521.0 556.5,520.6 557.0,520.5 557.5,520.7 558.0,521.2 558.5,522.1 559.0,523.3 559.5,524.9 560.1,526.7 560.6,528.8 561.1,531.2 561.6,533.8 562.1,536.6 562.6,539.6 563.1,542.7 563.6,545.8 564.1,549.0 564.6,552.2 565.1,555.3 565.7,558.4 566.2,561.4 566.7,564.2 567.2,566.8 567.7,569.2 568.2,571.3 568.7,573.1 569.2,574.7 569.7,575.9 570.2,576.8 570.7,577.3 571.2,577.5 571.8,577.3 572.2,576.8 572.8,576.0 573.2,574.9 573.8,573.4 574.2,571.7 574.8,569.7 575.2,567.5 575.8,565.0 576.2,562.3 576.8,559.5 577.2,556.5 577.8,553.3 578.2,550.1 578.8,546.9 579.2,543.6 579.8,540.4 580.2,537.2 580.8,534.0 581.2,531.0 581.8,528.2 582.2,525.5 582.8,523.0 583.2,520.8 583.8,518.8 584.2,517.1 584.8,515.6 585.2,514.5 585.8,513.7 586.2,513.2 586.8,513.0 587.3,513.3 587.8,514.1 588.3,515.5 588.8,517.5 589.3,519.9 589.8,522.8 590.3,526.1 590.8,529.8 591.3,533.8 591.9,538.0 592.4,542.5 592.9,547.0 593.4,551.5 593.9,556.0 594.4,560.5 594.9,564.7 595.4,568.7 595.9,572.4 596.4,575.7 597.0,578.6 597.5,581.0 598.0,583.0 598.5,584.4 599.0,585.2 599.5,585.5 600.0,585.3 600.5,584.7 601.0,583.6 601.5,582.2 602.0,580.4 602.5,578.2 603.0,575.6 603.5,572.8 604.0,569.7 604.5,566.3 605.0,562.7 605.5,559.0 606.0,555.1 606.5,551.1 607.0,547.1 607.5,543.1 608.0,539.1 608.5,535.3 609.0,531.5 609.5,527.9 610.0,524.6 610.5,521.4 611.0,518.6 611.5,516.1 612.0,513.9 612.5,512.1 613.0,510.6 613.5,509.6 614.0,509.0 614.5,508.8 615.0,509.1 615.5,510.0 616.0,511.5 616.5,513.6 617.0,516.2 617.5,519.3 618.0,522.9 618.5,526.9 619.0,531.1 619.5,535.7 620.0,540.4 620.5,545.3 621.0,550.2 621.5,555.1 622.0,559.8 622.5,564.4 623.0,568.6 623.5,572.6 624.0,576.2 624.5,579.3 625.0,581.9 625.5,584.0 626.0,585.5 626.5,586.4 627.0,586.8 627.5,586.5 628.0,585.9 628.5,584.9 629.0,583.5 629.5,581.7 630.0,579.6 630.6,577.2 631.1,574.4 631.6,571.3 632.1,568.1 632.6,564.6 633.1,560.9 633.6,557.1 634.1,553.3 634.6,549.4 635.1,545.5 635.6,541.6 636.1,537.8 636.7,534.2 637.2,530.7 637.7,527.4 638.2,524.4 638.7,521.6 639.2,519.1 639.7,517.0 640.2,515.2 640.7,513.8 641.2,512.8 641.7,512.2 642.2,512.0 642.8,512.3 643.3,513.0 643.8,514.3 644.3,516.0 644.8,518.2 645.3,520.7 645.8,523.7 646.3,527.0 646.8,530.6 647.3,534.4 647.9,538.4 648.4,542.6 648.9,546.8 649.4,550.9 649.9,555.1 650.4,559.1 650.9,562.9 651.4,566.5 651.9,569.8 652.4,572.8 653.0,575.3 653.5,577.5 654.0,579.2 654.5,580.5 655.0,581.2 655.5,581.5 656.0,581.3 656.5,580.8 657.0,579.9 657.5,578.7 658.0,577.1 658.5,575.2 659.0,573.1 659.5,570.6 660.0,567.9 660.5,565.1 661.0,562.0 661.5,558.8 662.0,555.5 662.5,552.1 663.0,548.6 663.5,545.2 664.0,541.8 664.5,538.5 665.0,535.3 665.5,532.2 666.0,529.3 666.5,526.6 667.0,524.2 667.5,522.0 668.0,520.2 668.5,518.6 669.0,517.4 669.5,516.5 670.0,515.9 670.5,515.8 671.0,516.0 671.5,516.6 672.0,517.6 672.5,519.0 673.0,520.7 673.5,522.8 674.0,525.2 674.5,527.9 675.0,530.9 675.5,534.1 676.0,537.4 676.5,540.9 677.0,544.5 677.5,548.1 678.0,551.7 678.5,555.3 679.0,558.8 679.5,562.2 680.0,565.3 680.5,568.3 681.0,571.0 681.5,573.4 682.0,575.5 682.5,577.3 683.0,578.7 683.5,579.7 684.0,580.3 684.5,580.5 685.0,580.3 685.5,579.8 686.0,578.9 686.5,577.6 687.0,576.0 687.5,574.1 688.0,571.9 688.5,569.5 689.0,566.7 689.5,563.8 690.0,560.7 690.5,557.4 691.0,554.1 691.5,550.6 692.0,547.1 692.5,543.6 693.0,540.2 693.5,536.8 694.0,533.6 694.5,530.4 695.0,527.5 695.5,524.8 696.0,522.3 696.5,520.1 697.0,518.2 697.5,516.6 698.0,515.4 698.5,514.5 699.0,513.9 699.5,513.8 700.0,514.0 700.5,514.7 701.0,515.9 701.5,517.5 702.0,519.5 702.6,521.9 703.1,524.7 703.6,527.8 704.1,531.2 704.6,534.9 705.1,538.7 705.6,542.7 706.1,546.7 706.6,550.8 707.1,554.8 707.6,558.8 708.2,562.6 708.7,566.2 709.2,569.7 709.7,572.8 710.2,575.6 710.7,578.0 711.2,580.0 711.7,581.6 712.2,582.8 712.7,583.5 713.2,583.8 713.8,583.5 714.2,582.9 714.8,581.8 715.2,580.4 715.8,578.5 716.2,576.3 716.8,573.7 717.2,570.9 717.8,567.7 718.2,564.3 718.8,560.8 719.2,557.0 719.8,553.2 720.2,549.2 720.8,545.3 721.2,541.3 721.8,537.5 722.2,533.7 722.8,530.2 723.2,526.8 723.8,523.6 724.2,520.8 724.8,518.2 725.2,516.0 725.8,514.1 726.2,512.7 726.8,511.6 727.2,511.0 727.8,510.8 728.2,511.0 728.8,511.8 729.2,513.0 729.8,514.7 730.2,516.9 730.8,519.4 731.2,522.4 731.8,525.7 732.2,529.3 732.8,533.2 733.2,537.2 733.8,541.4 734.2,545.7 734.8,550.0 735.2,554.3 735.8,558.5 736.2,562.6 736.8,566.4 737.2,570.0 737.8,573.4 738.2,576.3 738.8,578.9 739.2,581.1 739.8,582.8 740.2,584.0 740.8,584.7 741.2,585.0 741.8,584.8 742.2,584.2 742.8,583.2 743.2,581.9 743.8,580.1 744.2,578.1 744.8,575.7 745.2,573.0 745.8,570.1 746.2,566.9 746.8,563.5 747.2,560.0 747.8,556.3 748.2,552.5 748.8,548.8 749.2,545.0 749.8,541.2 750.2,537.5 750.8,534.0 751.2,530.6 751.8,527.4 752.2,524.5 752.8,521.8 753.2,519.4 753.8,517.4 754.2,515.6 754.8,514.3 755.2,513.3 755.8,512.7 756.2,512.5 756.8,512.8 757.3,513.5 757.8,514.8 758.3,516.5 758.8,518.7 759.3,521.3 759.8,524.3 760.3,527.6 760.8,531.2 761.3,535.1 761.9,539.1 762.4,543.3 762.9,547.5 763.4,551.7 763.9,555.9 764.4,559.9 764.9,563.8 765.4,567.4 765.9,570.7 766.4,573.7 767.0,576.3 767.5,578.5 768.0,580.2 768.5,581.5 769.0,582.2 769.5,582.5 770.0,582.3 770.5,581.8 771.0,580.8 771.5,579.6 772.0,577.9 772.5,576.0 773.0,573.8 773.5,571.3 774.0,568.5 774.5,565.5 775.0,562.3 775.5,559.0 776.0,555.6 776.5,552.1 777.0,548.5 777.5,544.9 778.0,541.4 778.5,538.0 779.0,534.7 779.5,531.5 780.0,528.5 780.5,525.7 781.0,523.2 781.5,521.0 782.0,519.1 782.5,517.4 783.0,516.2 783.5,515.2 784.0,514.7 784.5,514.5 785.0,514.7 785.5,515.4 786.0,516.5 786.5,518.1 787.0,520.1 787.6,522.4 788.1,525.1 788.6,528.1 789.1,531.4 789.6,534.9 790.1,538.6 790.6,542.4 791.1,546.3 791.6,550.2 792.1,554.1 792.6,557.9 793.2,561.6 793.7,565.1 794.2,568.4 794.7,571.4 795.2,574.1 795.7,576.4 796.2,578.4 796.7,580.0 797.2,581.1 797.7,581.8 798.2,582.0 798.8,581.8 799.2,581.3 799.8,580.3 800.2,579.0 800.8,577.4 801.2,575.5 801.8,573.2 802.2,570.7 802.8,567.9 803.2,564.9 803.8,561.8 804.2,558.4 804.8,555.0 805.2,551.4 805.8,547.9 806.2,544.3 806.8,540.8 807.2,537.3 807.8,534.0 808.2,530.8 808.8,527.8 809.2,525.0 809.8,522.5 810.2,520.3 810.8,518.3 811.2,516.7 811.8,515.4 812.2,514.5 812.8,513.9 813.2,513.8 813.8,514.0 814.2,514.7 814.8,515.9 815.2,517.5 815.8,519.5 816.2,521.9 816.8,524.7 817.2,527.8 817.8,531.2 818.2,534.9 818.8,538.7 819.2,542.7 819.8,546.7 820.2,550.8 820.8,554.8 821.2,558.8 821.8,562.6 822.2,566.2 822.8,569.7 823.2,572.8 823.8,575.6 824.2,578.0 824.8,580.0 825.2,581.6 825.8,582.8 826.2,583.5 826.8,583.8 827.3,583.5 827.8,582.9 828.3,581.9 828.8,580.4 829.3,578.6 829.8,576.4 830.3,573.9 830.8,571.1 831.3,568.0 831.8,564.7 832.3,561.2 832.9,557.5 833.4,553.7 833.9,549.8 834.4,545.9 834.9,542.1 835.4,538.3 835.9,534.6 836.4,531.1 836.9,527.7 837.4,524.7 837.9,521.8 838.4,519.3 839.0,517.1 839.5,515.3 840.0,513.9 840.5,512.8 841.0,512.2 841.5,512.0 842.0,512.2 842.5,513.0 843.0,514.2 843.5,515.8 844.0,517.9 844.5,520.5 845.0,523.3 845.5,526.6 846.0,530.1 846.5,533.8 847.0,537.8 847.5,541.9 848.0,546.0 848.5,550.2 849.0,554.4 849.5,558.5 850.0,562.4 850.5,566.2 851.0,569.7 851.5,572.9 852.0,575.8 852.5,578.3 853.0,580.4 853.5,582.1 854.0,583.3 854.5,584.0 855.0,584.2 855.5,584.1 856.0,583.5 856.5,582.5 857.0,581.2 857.5,579.5 858.0,577.4 858.5,575.1 859.0,572.5 859.5,569.6 860.0,566.4 860.5,563.1 861.0,559.6 861.5,556.0 862.0,552.3 862.5,548.6 863.0,544.9 863.5,541.2 864.0,537.6 864.5,534.1 865.0,530.8 865.5,527.7 866.0,524.8 866.5,522.2 867.0,519.8 867.5,517.8 868.0,516.1 868.5,514.7 869.0,513.8 869.5,513.2 870.0,513.0 870.5,513.2 871.0,513.9 871.5,515.1 872.0,516.7 872.5,518.8 873.1,521.2 873.6,524.0 874.1,527.1 874.6,530.5 875.1,534.1 875.6,538.0 876.1,541.9 876.6,546.0 877.1,550.0 877.6,554.1 878.1,558.0 878.7,561.9 879.2,565.5 879.7,568.9 880.2,572.0 880.7,574.8 881.2,577.2 881.7,579.3 882.2,580.9 882.7,582.1 883.2,582.8 883.8,583.0 884.3,582.8 884.8,582.2 885.3,581.2 885.8,579.8 886.3,578.0 886.8,575.9 887.3,573.5 887.8,570.8 888.3,567.8 888.8,564.6 889.3,561.2 889.9,557.6 890.4,554.0 890.9,550.2 891.4,546.5 891.9,542.8 892.4,539.1 892.9,535.6 893.4,532.2 893.9,528.9 894.4,526.0 894.9,523.2 895.4,520.8 896.0,518.7 896.5,517.0 897.0,515.6 897.5,514.6 898.0,514.0 898.5,513.8 899.0,514.0 899.5,514.6 900.0,515.7 900.5,517.2 901.0,519.1 901.5,521.3 902.0,523.9 902.5,526.8 903.0,530.0 903.5,533.4 904.0,536.9 904.5,540.7 905.0,544.5 905.5,548.4 906.0,552.3 906.5,556.1 907.0,559.8 907.5,563.4 908.0,566.8 908.5,570.0 909.0,572.9 909.5,575.4 910.0,577.7 910.5,579.6 911.0,581.1 911.5,582.1 912.0,582.8 912.5,583.0 913.0,582.8 913.5,582.2 914.0,581.2 914.5,579.8 915.0,578.0 915.5,575.9 916.0,573.4 916.5,570.7 917.0,567.7 917.5,564.5 918.0,561.0 918.5,557.5 919.0,553.8 919.5,550.0 920.0,546.2 920.5,542.5 921.0,538.8 921.5,535.2 922.0,531.8 922.5,528.6 923.0,525.5 923.5,522.8 924.0,520.4 924.5,518.2 925.0,516.5 925.5,515.1 926.0,514.1 926.5,513.5 927.0,513.2 927.5,513.5 928.0,514.2 928.5,515.4 929.0,517.0 929.5,519.0 930.1,521.5 930.6,524.3 931.1,527.5 931.6,530.9 932.1,534.5 932.6,538.4 933.1,542.4 933.6,546.5 934.1,550.5 934.6,554.6 935.1,558.6 935.7,562.5 936.2,566.1 936.7,569.5 937.2,572.7 937.7,575.5 938.2,578.0 938.7,580.0 939.2,581.6 939.7,582.8 940.2,583.5 940.8,583.8 941.3,583.5 941.8,582.9 942.3,581.9 942.8,580.5 943.3,578.7 943.8,576.5 944.3,574.1 944.8,571.3 945.3,568.2 945.8,564.9 946.3,561.5 946.9,557.8 947.4,554.1 947.9,550.3 948.4,546.5 948.9,542.7 949.4,538.9 949.9,535.3 950.4,531.8 950.9,528.5 951.4,525.5 951.9,522.7 952.4,520.2 953.0,518.1 953.5,516.3 954.0,514.9 954.5,513.8 955.0,513.2 955.5,513.0 956.0,513.2 956.5,514.0 957.0,515.1 957.5,516.8 958.0,518.8 958.6,521.3 959.1,524.1 959.6,527.3 960.1,530.7 960.6,534.4 961.1,538.2 961.6,542.2 962.1,546.3 962.6,550.4 963.1,554.5 963.6,558.5 964.2,562.4 964.7,566.1 965.2,569.5 965.7,572.7 966.2,575.5 966.7,577.9 967.2,580.0 967.7,581.6 968.2,582.8 968.7,583.5 969.2,583.8 969.8,583.5 970.3,582.9 970.8,581.9 971.3,580.5 971.8,578.7 972.3,576.5 972.8,574.1 973.3,571.3 973.8,568.2 974.3,564.9 974.8,561.5 975.4,557.8 975.9,554.1 976.4,550.3 976.9,546.5 977.4,542.7 977.9,538.9 978.4,535.3 978.9,531.8 979.4,528.5 979.9,525.5 980.4,522.7 980.9,520.2 981.5,518.1 982.0,516.3 982.5,514.9 983.0,513.8 983.5,513.2 984.0,513.0 984.5,513.2 985.0,514.0 985.5,515.1 986.0,516.8 986.5,518.8 987.0,521.3 987.5,524.1 988.0,527.3 988.5,530.7 989.0,534.4 989.5,538.2 990.0,542.2 990.5,546.3 991.0,550.4 991.5,554.5 992.0,558.5 992.5,562.4 993.0,566.1 993.5,569.5 994.0,572.7 994.5,575.5 995.0,577.9 995.5,580.0 996.0,581.6 996.5,582.8 997.0,583.5 997.5,583.8 998.0,583.6 998.5,583.0 999.0,582.0 999.5,580.7 1000.0,579.0 1000.5,577.0 1001.0,574.7 1001.5,572.0 1002.0,569.2 1002.5,566.1 1003.0,562.8 1003.5,559.3 1004.0,555.7 1004.5,552.1 1005.0,548.4 1005.5,544.7 1006.0,541.0 1006.5,537.4 1007.0,534.0 1007.5,530.7 1008.0,527.6 1008.5,524.7 1009.0,522.1 1009.5,519.8 1010.0,517.7 1010.5,516.1 1011.0,514.7 1011.5,513.8 1012.0,513.2" fill="none" stroke="#00aeef" stroke-width="2.2" stroke-linejoin="round"/>
</g>
<rect x="442" y="45" width="1" height="14" fill="#000"/>
<rect x="442" y="635" width="1" height="14" fill="#000"/>
<rect x="556" y="45" width="1" height="14" fill="#000"/>
<rect x="556" y="635" width="1" height="14" fill="#000"/>
<rect x="670" y="45" width="1" height="14" fill="#000"/>
<rect x="670" y="635" width="1" height="14" fill="#000"/>
<rect x="784" y="45" width="1" height="14" fill="#000"/>
<rect x="784" y="635" width="1" height="14" fill="#000"/>
<rect x="898" y="45" width="1" height="14" fill="#000"/>
<rect x="898" y="635" width="1" height="14" fill="#000"/>
<rect x="328" y="635" width="1" height="14" fill="#000"/>
<rect x="215" y="246" width="8" height="1" fill="#000"/>
<rect x="215" y="347" width="8" height="1" fill="#000"/>
<rect x="215" y="448" width="8" height="1" fill="#000"/>
<rect x="1003" y="145" width="8" height="1" fill="#000"/>
<rect x="1003" y="246" width="8" height="1" fill="#000"/>
<rect x="1003" y="347" width="8" height="1" fill="#000"/>
<rect x="1003" y="448" width="8" height="1" fill="#000"/>
<rect x="1003" y="550" width="8" height="1" fill="#000"/>
<rect x="214" y="43" width="1" height="609" fill="#000"/>
<rect x="214" y="43" width="799" height="2" fill="#000"/>
<rect x="1011" y="43" width="2" height="609" fill="#000"/>
<rect x="214" y="649" width="799" height="3" fill="#000"/>
<polygon points="321.8,44.0 336.2,44.0 329.0,64.4" fill="#ff0000"/>
<line x1="433.8" y1="302.5" x2="340.7" y2="213.2" stroke="#000" stroke-width="5"/>
<polygon points="327.8,200.8 347.7,208.8 336.6,220.4" fill="#000"/>
<line x1="433.8" y1="410.0" x2="341.2" y2="498.8" stroke="#000" stroke-width="5"/>
<polygon points="328.2,511.2 337.1,491.6 348.2,503.2" fill="#000"/>
<text transform="translate(106.92,60.62) scale(1.0276,1)" font-size="48.30" fill="#000">5000</text>
<text transform="translate(107.01,161.72) scale(1.0267,1)" font-size="48.30" fill="#000">4000</text>
<text transform="translate(106.51,262.82) scale(1.0325,1)" font-size="48.30" fill="#000">3000</text>
<text transform="translate(105.74,364.02) scale(1.0406,1)" font-size="48.30" fill="#000">2000</text>
<text transform="translate(108.97,464.42) scale(1.0070,1)" font-size="48.30" fill="#000">1000</text>
<text transform="translate(187.83,564.32) scale(1.0204,1)" font-size="48.30" fill="#000">0</text>
<text transform="translate(113.33,663.72) scale(1.0159,1)" font-size="48.30"><tspan x="-35.01" dy="1.82" font-weight="bold" textLength="30.73" lengthAdjust="spacingAndGlyphs">−</tspan><tspan x="0" dy="-1.82">1000</tspan></text>
<text transform="translate(195.87,705.08) scale(1.0511,1)" font-size="48.30" fill="#000">0.9</text>
<text transform="translate(319.84,705.80) scale(0.7698,1)" font-size="48.30" fill="#000">1</text>
<text transform="translate(414.28,705.08) scale(0.9312,1)" font-size="48.30" fill="#000">1.1</text>
<text transform="translate(526.70,705.08) scale(1.0240,1)" font-size="48.30" fill="#000">1.2</text>
<text transform="translate(646.13,705.08) scale(0.9432,1)" font-size="48.30" fill="#000">1.3</text>
<text transform="translate(758.62,705.08) scale(0.9452,1)" font-size="48.30" fill="#000">1.4</text>
<text transform="translate(869.88,705.08) scale(0.9432,1)" font-size="48.30" fill="#000">1.5</text>
<text transform="translate(978.92,705.08) scale(0.9942,1)" font-size="48.30" fill="#000">1.6</text>
<text transform="translate(88.10,257.36) rotate(-90) scale(0.9997,1)" font-size="67.48" font-style="italic" fill="#000">P</text>
<text transform="translate(98.84,218.00) rotate(-90) scale(0.9324,1)" font-size="45.62" fill="#000">s</text>
<text transform="translate(87.94,185.88) rotate(-90) scale(1.0201,1)" font-size="64.95" fill="#000">(W)</text>
<text transform="translate(88.20,606.44) rotate(-90) scale(0.9729,1)" font-size="68.00" font-style="italic" fill="#000">Q</text>
<text transform="translate(98.85,558.67) rotate(-90) scale(0.8788,1)" font-size="44.79" fill="#000">s</text>
<text transform="translate(87.98,527.34) rotate(-90) scale(1.0787,1)" font-size="64.73" fill="#000">(Var)</text>
<text transform="translate(444.75,363.75) scale(1.0325,1)" font-size="48.50" fill="#000">Power grid SSO</text>
<text transform="translate(532.00,423.00) scale(1.0309,1)" font-size="48.50" fill="#000">appears</text>
<text transform="translate(569.31,755.82) scale(1.0663,1)" font-size="65.93" fill="#222"><tspan font-style="italic" font-weight="bold" font-size="60.66">t</tspan>(<tspan font-weight="bold" font-size="60.66">s</tspan>)</text>
<text transform="translate(473.80,858.51) scale(0.9574,1)" font-size="85.99" fill="#000">(<tspan font-weight="bold">a</tspan>)</text>
</g>
<g id="plot-b">
<rect x="1198" y="145" width="798" height="1" fill="#a6a6a6"/>
<rect x="1198" y="245" width="221" height="2" fill="#a6a6a6"/>
<rect x="1419" y="246" width="577" height="1" fill="#a6a6a6"/>
<line x1="1419" y1="245.5" x2="1996" y2="245.5" stroke="#a6a6a6" stroke-width="1" stroke-dasharray="3 1"/>
<line x1="1198" y1="347.5" x2="1417" y2="347.5" stroke="#a0a0a0" stroke-width="1" stroke-dasharray="1 1"/>
<rect x="1417" y="346" width="579" height="2" fill="#a6a6a6"/>
<rect x="1198" y="447" width="222" height="2" fill="#a6a6a6"/>
<rect x="1420" y="448" width="576" height="1" fill="#a6a6a6"/>
<line x1="1420" y1="447.5" x2="1996" y2="447.5" stroke="#a6a6a6" stroke-width="1" stroke-dasharray="3 1"/>
<line x1="1198" y1="549.5" x2="1416" y2="549.5" stroke="#a0a0a0" stroke-width="1" stroke-dasharray="1 1"/>
<rect x="1416" y="549" width="580" height="2" fill="#a6a6a6"/>
<rect x="1312" y="44" width="1" height="606" fill="#a6a6a6"/>
<line x1="1426.5" y1="44" x2="1426.5" y2="650" stroke="#a0a0a0" stroke-width="1" stroke-dasharray="1 1"/>
<rect x="1654" y="44" width="1" height="606" fill="#a6a6a6"/>
<rect x="1767" y="44" width="2" height="606" fill="#a6a6a6"/>
<rect x="1881" y="44" width="2" height="606" fill="#a6a6a6"/>
<g shape-rendering="crispEdges">
<rect x="1198" y="144" width="116" height="3" fill="#ff0000"/>
<polyline points="1312.5,145.5 1313.0,145.3 1313.5,144.9 1314.0,144.1 1314.5,143.0 1315.1,141.6 1315.6,140.0 1316.1,138.2 1316.6,136.2 1317.1,134.1 1317.6,132.0 1318.1,129.8 1318.6,127.6 1319.2,125.5 1319.7,123.6 1320.2,121.8 1320.7,120.2 1321.2,118.8 1321.7,117.7 1322.2,116.9 1322.7,116.4 1323.2,116.2 1323.8,116.6 1324.2,117.5 1324.8,119.1 1325.2,121.2 1325.8,123.9 1326.2,127.1 1326.8,130.8 1327.2,134.9 1327.8,139.3 1328.2,144.1 1328.8,149.1 1329.2,154.2 1329.8,159.4 1330.2,164.6 1330.8,169.7 1331.2,174.7 1331.8,179.4 1332.2,183.9 1332.8,188.0 1333.2,191.7 1333.8,194.9 1334.2,197.6 1334.8,199.7 1335.2,201.2 1335.8,202.2 1336.2,202.5 1336.8,202.0 1337.3,200.6 1337.8,198.3 1338.3,195.1 1338.8,191.1 1339.3,186.3 1339.8,180.7 1340.3,174.6 1340.8,167.8 1341.3,160.6 1341.9,153.0 1342.4,145.2 1342.9,137.2 1343.4,129.1 1343.9,121.1 1344.4,113.2 1344.9,105.6 1345.4,98.4 1345.9,91.7 1346.4,85.5 1346.9,80.0 1347.5,75.2 1348.0,71.1 1348.5,67.9 1349.0,65.6 1349.5,64.2 1350.0,63.8 1350.5,64.3 1351.0,66.1 1351.5,69.1 1352.0,73.1 1352.5,78.2 1353.0,84.3 1353.5,91.2 1354.0,99.0 1354.5,107.4 1355.0,116.4 1355.5,125.8 1356.0,135.5 1356.5,145.4 1357.0,155.2 1357.5,164.9 1358.0,174.3 1358.5,183.3 1359.0,191.7 1359.5,199.5 1360.0,206.5 1360.5,212.6 1361.0,217.7 1361.5,221.7 1362.0,224.6 1362.5,226.4 1363.0,227.0 1363.5,226.4 1364.0,224.5 1364.5,221.4 1365.0,217.1 1365.5,211.7 1366.1,205.2 1366.6,197.8 1367.1,189.6 1367.6,180.6 1368.1,171.1 1368.6,161.1 1369.1,150.8 1369.6,140.4 1370.1,129.9 1370.6,119.6 1371.2,109.7 1371.7,100.1 1372.2,91.2 1372.7,82.9 1373.2,75.5 1373.7,69.1 1374.2,63.7 1374.7,59.4 1375.2,56.3 1375.7,54.4 1376.2,53.8 1376.8,54.4 1377.3,56.2 1377.8,59.2 1378.3,63.3 1378.8,68.5 1379.3,74.7 1379.8,81.8 1380.3,89.7 1380.8,98.2 1381.3,107.4 1381.9,117.0 1382.4,126.9 1382.9,136.9 1383.4,146.9 1383.9,156.8 1384.4,166.4 1384.9,175.5 1385.4,184.1 1385.9,192.0 1386.4,199.1 1387.0,205.3 1387.5,210.5 1388.0,214.6 1388.5,217.6 1389.0,219.4 1389.5,220.0 1390.0,219.5 1390.5,218.1 1391.0,215.7 1391.5,212.3 1392.0,208.1 1392.6,203.1 1393.1,197.4 1393.6,190.9 1394.1,183.9 1394.6,176.4 1395.1,168.6 1395.6,160.4 1396.1,152.1 1396.6,143.7 1397.1,135.4 1397.6,127.2 1398.2,119.3 1398.7,111.8 1399.2,104.8 1399.7,98.4 1400.2,92.6 1400.7,87.6 1401.2,83.4 1401.7,80.1 1402.2,77.7 1402.7,76.2 1403.2,75.8 1403.8,76.1 1404.3,77.2 1404.8,78.9 1405.3,81.3 1405.8,84.3 1406.3,88.0 1406.8,92.2 1407.3,96.9 1407.8,102.1 1408.3,107.6 1408.8,113.5 1409.4,119.7 1409.9,126.0 1410.4,132.5 1410.9,139.0 1411.4,145.5 1411.9,151.8 1412.4,158.0 1412.9,163.9 1413.4,169.4 1413.9,174.6 1414.4,179.3 1414.9,183.5 1415.5,187.2 1416.0,190.2 1416.5,192.6 1417.0,194.3 1417.5,195.4 1418.0,195.8 1418.5,195.5 1419.0,194.8 1419.5,193.5 1420.0,191.8 1420.5,189.7 1421.0,187.1 1421.6,184.1 1422.1,180.7 1422.6,177.0 1423.1,172.9 1423.6,168.6 1424.1,164.0 1424.6,159.3 1425.1,154.4 1425.6,149.4 1426.1,144.4 1426.6,139.3 1427.1,134.4 1427.6,129.5 1428.2,124.7 1428.7,120.2 1429.2,115.8 1429.7,111.8 1430.2,108.0 1430.7,104.7 1431.2,101.7 1431.7,99.1 1432.2,96.9 1432.7,95.2 1433.2,94.0 1433.7,93.2 1434.2,93.0 1434.8,93.3 1435.3,94.3 1435.8,95.8 1436.3,97.9 1436.8,100.7 1437.3,103.9 1437.8,107.7 1438.3,111.9 1438.8,116.5 1439.3,121.4 1439.8,126.7 1440.4,132.2 1440.9,137.8 1441.4,143.6 1441.9,149.4 1442.4,155.2 1442.9,160.8 1443.4,166.3 1443.9,171.6 1444.4,176.5 1444.9,181.1 1445.4,185.3 1445.9,189.1 1446.5,192.3 1447.0,195.1 1447.5,197.2 1448.0,198.7 1448.5,199.7 1449.0,200.0 1449.5,199.6 1450.0,198.4 1450.5,196.5 1451.0,193.7 1451.5,190.3 1452.0,186.2 1452.5,181.5 1453.0,176.2 1453.5,170.5 1454.0,164.3 1454.5,157.7 1455.0,150.9 1455.5,143.9 1456.0,136.9 1456.5,129.8 1457.0,122.8 1457.5,116.0 1458.0,109.5 1458.5,103.3 1459.0,97.5 1459.5,92.2 1460.0,87.5 1460.5,83.4 1461.0,80.0 1461.5,77.3 1462.0,75.3 1462.5,74.1 1463.0,73.8 1463.5,74.2 1464.0,75.6 1464.5,78.0 1465.0,81.2 1465.5,85.3 1466.1,90.2 1466.6,95.8 1467.1,102.1 1467.6,108.9 1468.1,116.3 1468.6,123.9 1469.1,131.9 1469.6,140.0 1470.1,148.2 1470.6,156.3 1471.1,164.3 1471.7,172.0 1472.2,179.3 1472.7,186.2 1473.2,192.4 1473.7,198.0 1474.2,202.9 1474.7,207.0 1475.2,210.3 1475.7,212.6 1476.2,214.0 1476.8,214.5 1477.2,214.0 1477.8,212.7 1478.2,210.4 1478.8,207.2 1479.2,203.2 1479.8,198.4 1480.2,192.9 1480.8,186.7 1481.2,180.0 1481.8,172.7 1482.2,165.1 1482.8,157.2 1483.2,149.0 1483.8,140.8 1484.2,132.5 1484.8,124.3 1485.2,116.4 1485.8,108.8 1486.2,101.5 1486.8,94.8 1487.2,88.6 1487.8,83.1 1488.2,78.3 1488.8,74.3 1489.2,71.1 1489.8,68.8 1490.2,67.5 1490.8,67.0 1491.2,67.5 1491.8,69.0 1492.2,71.4 1492.8,74.7 1493.2,78.9 1493.8,84.0 1494.2,89.7 1494.8,96.2 1495.2,103.2 1495.8,110.8 1496.2,118.7 1496.8,126.9 1497.2,135.3 1497.8,143.7 1498.2,152.1 1498.8,160.3 1499.2,168.2 1499.8,175.8 1500.2,182.8 1500.8,189.3 1501.2,195.0 1501.8,200.1 1502.2,204.3 1502.8,207.6 1503.2,210.0 1503.8,211.5 1504.2,212.0 1504.8,211.6 1505.2,210.3 1505.8,208.2 1506.2,205.3 1506.8,201.6 1507.2,197.2 1507.8,192.2 1508.2,186.5 1508.8,180.4 1509.2,173.7 1509.8,166.7 1510.2,159.4 1510.8,151.9 1511.2,144.4 1511.8,136.8 1512.2,129.3 1512.8,122.0 1513.2,115.0 1513.8,108.4 1514.2,102.2 1514.8,96.6 1515.2,91.5 1515.8,87.1 1516.2,83.4 1516.8,80.5 1517.2,78.4 1517.8,77.2 1518.2,76.8 1518.8,77.1 1519.3,78.3 1519.8,80.2 1520.3,82.9 1520.8,86.3 1521.3,90.3 1521.8,95.0 1522.3,100.2 1522.8,105.9 1523.3,112.0 1523.8,118.4 1524.4,125.1 1524.9,132.0 1525.4,139.0 1525.9,146.0 1526.4,152.9 1526.9,159.6 1527.4,166.0 1527.9,172.1 1528.4,177.8 1528.9,183.0 1529.4,187.7 1530.0,191.7 1530.5,195.1 1531.0,197.8 1531.5,199.7 1532.0,200.9 1532.5,201.2 1533.0,200.8 1533.5,199.6 1534.0,197.6 1534.5,194.9 1535.0,191.4 1535.5,187.3 1536.0,182.7 1536.5,177.5 1537.0,171.9 1537.5,166.0 1538.0,159.9 1538.5,153.8 1539.0,147.6 1539.5,141.5 1540.0,135.6 1540.5,130.0 1541.0,124.8 1541.5,120.2 1542.0,116.1 1542.5,112.6 1543.0,109.9 1543.5,107.9 1544.0,106.7 1544.5,106.2 1545.0,106.6 1545.5,107.6 1546.0,109.3 1546.5,111.6 1547.0,114.4 1547.5,117.8 1548.0,121.6 1548.5,125.8 1549.0,130.3 1549.5,135.0 1550.0,139.8 1550.5,144.5 1551.0,149.2 1551.5,153.7 1552.0,157.9 1552.5,161.7 1553.0,165.1 1553.5,167.9 1554.0,170.2 1554.5,171.9 1555.0,172.9 1555.5,173.2 1556.0,173.0 1556.5,172.4 1557.0,171.4 1557.5,170.1 1558.0,168.3 1558.6,166.2 1559.1,163.9 1559.6,161.2 1560.1,158.3 1560.6,155.3 1561.1,152.0 1561.6,148.7 1562.1,145.4 1562.6,142.0 1563.1,138.7 1563.7,135.5 1564.2,132.4 1564.7,129.5 1565.2,126.9 1565.7,124.5 1566.2,122.4 1566.7,120.7 1567.2,119.3 1567.7,118.3 1568.2,117.7 1568.8,117.5 1569.2,117.6 1569.8,118.0 1570.2,118.7 1570.8,119.6 1571.2,120.7 1571.8,122.1 1572.2,123.7 1572.8,125.4 1573.2,127.4 1573.8,129.5 1574.2,131.7 1574.8,134.1 1575.2,136.5 1575.8,139.0 1576.2,141.5 1576.8,144.0 1577.2,146.5 1577.8,148.9 1578.2,151.3 1578.8,153.5 1579.2,155.6 1579.8,157.6 1580.2,159.3 1580.8,160.9 1581.2,162.3 1581.8,163.4 1582.2,164.3 1582.8,165.0 1583.2,165.4 1583.8,165.5 1584.2,165.4 1584.8,165.0 1585.2,164.3 1585.8,163.5 1586.2,162.3 1586.8,161.0 1587.2,159.4 1587.8,157.7 1588.2,155.8 1588.8,153.7 1589.2,151.6 1589.8,149.3 1590.2,147.0 1590.8,144.6 1591.2,142.2 1591.8,139.8 1592.2,137.5 1592.8,135.2 1593.2,133.0 1593.8,131.0 1594.2,129.1 1594.8,127.3 1595.2,125.8 1595.8,124.4 1596.2,123.3 1596.8,122.4 1597.2,121.8 1597.8,121.4 1598.2,121.2 1598.8,121.4 1599.3,121.9 1599.8,122.7 1600.3,123.8 1600.8,125.2 1601.3,126.9 1601.8,128.8 1602.3,131.0 1602.8,133.3 1603.3,135.8 1603.9,138.5 1604.4,141.2 1604.9,144.0 1605.4,146.8 1605.9,149.6 1606.4,152.3 1606.9,154.9 1607.4,157.4 1607.9,159.8 1608.4,161.9 1608.9,163.9 1609.5,165.5 1610.0,166.9 1610.5,168.0 1611.0,168.8 1611.5,169.3 1612.0,169.5 1612.5,169.3 1613.0,168.8 1613.5,168.0 1614.0,166.8 1614.5,165.3 1615.0,163.6 1615.5,161.5 1616.0,159.3 1616.5,156.8 1617.0,154.2 1617.5,151.4 1618.0,148.5 1618.5,145.6 1619.0,142.6 1619.5,139.7 1620.0,136.8 1620.5,134.1 1621.0,131.4 1621.5,129.0 1622.0,126.7 1622.5,124.7 1623.0,122.9 1623.5,121.4 1624.0,120.3 1624.5,119.4 1625.0,118.9 1625.5,118.8 1626.0,118.9 1626.5,119.4 1627.0,120.1 1627.5,121.2 1628.0,122.5 1628.5,124.1 1629.0,126.0 1629.5,128.0 1630.0,130.3 1630.5,132.7 1631.0,135.2 1631.5,137.9 1632.0,140.6 1632.5,143.4 1633.0,146.1 1633.5,148.9 1634.0,151.5 1634.5,154.1 1635.0,156.5 1635.5,158.7 1636.0,160.8 1636.5,162.6 1637.0,164.2 1637.5,165.6 1638.0,166.6 1638.5,167.4 1639.0,167.8 1639.5,168.0 1640.0,167.8 1640.5,167.4 1641.0,166.6 1641.5,165.6 1642.0,164.3 1642.5,162.7 1643.0,160.9 1643.5,158.8 1644.0,156.6 1644.5,154.3 1645.0,151.8 1645.5,149.2 1646.0,146.6 1646.5,143.9 1647.0,141.3 1647.5,138.7 1648.0,136.2 1648.5,133.9 1649.0,131.7 1649.5,129.6 1650.0,127.8 1650.5,126.2 1651.0,124.9 1651.5,123.9 1652.0,123.1 1652.5,122.7 1653.0,122.5 1653.5,122.6 1654.0,123.0 1654.5,123.6 1655.0,124.5 1655.5,125.5 1656.0,126.8 1656.5,128.3 1657.0,130.0 1657.5,131.8 1658.0,133.8 1658.5,135.9 1659.0,138.1 1659.5,140.3 1660.0,142.6 1660.5,144.9 1661.0,147.2 1661.5,149.4 1662.0,151.6 1662.5,153.7 1663.0,155.7 1663.5,157.5 1664.0,159.2 1664.5,160.7 1665.0,162.0 1665.5,163.0 1666.0,163.9 1666.5,164.5 1667.0,164.9 1667.5,165.0 1668.0,164.9 1668.5,164.6 1669.0,164.0 1669.5,163.2 1670.0,162.3 1670.5,161.1 1671.0,159.8 1671.5,158.3 1672.0,156.7 1672.5,154.9 1673.0,153.0 1673.5,151.0 1674.0,149.0 1674.5,146.9 1675.0,144.8 1675.5,142.6 1676.0,140.5 1676.5,138.5 1677.0,136.5 1677.5,134.6 1678.0,132.8 1678.5,131.2 1679.0,129.7 1679.5,128.4 1680.0,127.2 1680.5,126.3 1681.0,125.5 1681.5,124.9 1682.0,124.6 1682.5,124.5 1683.0,124.6 1683.5,125.0 1684.0,125.6 1684.5,126.4 1685.0,127.4 1685.5,128.7 1686.0,130.1 1686.5,131.7 1687.0,133.5 1687.5,135.4 1688.0,137.4 1688.5,139.5 1689.0,141.7 1689.5,143.9 1690.0,146.1 1690.5,148.3 1691.0,150.5 1691.5,152.6 1692.0,154.6 1692.5,156.5 1693.0,158.3 1693.5,159.9 1694.0,161.3 1694.5,162.6 1695.0,163.6 1695.5,164.4 1696.0,165.0 1696.5,165.4 1697.0,165.5 1697.5,165.4 1698.0,165.0 1698.5,164.3 1699.0,163.3 1699.5,162.1 1700.1,160.7 1700.6,159.1 1701.1,157.3 1701.6,155.3 1702.1,153.1 1702.6,150.8 1703.1,148.5 1703.6,146.1 1704.1,143.6 1704.6,141.2 1705.1,138.8 1705.7,136.4 1706.2,134.1 1706.7,132.0 1707.2,130.0 1707.7,128.2 1708.2,126.5 1708.7,125.1 1709.2,123.9 1709.7,123.0 1710.2,122.3 1710.7,121.9 1711.2,121.8 1711.8,121.9 1712.3,122.4 1712.8,123.1 1713.3,124.2 1713.8,125.5 1714.3,127.1 1714.8,128.9 1715.3,131.0 1715.8,133.2 1716.3,135.6 1716.9,138.1 1717.4,140.7 1717.9,143.3 1718.4,146.0 1718.9,148.6 1719.4,151.2 1719.9,153.7 1720.4,156.1 1720.9,158.3 1721.4,160.3 1721.9,162.1 1722.5,163.7 1723.0,165.1 1723.5,166.1 1724.0,166.9 1724.5,167.3 1725.0,167.5 1725.5,167.4 1726.0,167.0 1726.5,166.3 1727.0,165.4 1727.5,164.2 1728.0,162.8 1728.5,161.1 1729.0,159.3 1729.5,157.3 1730.0,155.1 1730.5,152.9 1731.0,150.5 1731.5,148.0 1732.0,145.5 1732.5,143.0 1733.0,140.5 1733.5,138.0 1734.0,135.6 1734.5,133.4 1735.0,131.2 1735.5,129.2 1736.0,127.4 1736.5,125.7 1737.0,124.3 1737.5,123.1 1738.0,122.2 1738.5,121.5 1739.0,121.1 1739.5,121.0 1740.0,121.2 1740.5,121.6 1741.0,122.4 1741.5,123.4 1742.0,124.8 1742.5,126.4 1743.0,128.2 1743.5,130.2 1744.0,132.4 1744.5,134.8 1745.0,137.3 1745.5,139.9 1746.0,142.5 1746.5,145.2 1747.0,147.8 1747.5,150.4 1748.0,152.9 1748.5,155.3 1749.0,157.5 1749.5,159.6 1750.0,161.4 1750.5,163.0 1751.0,164.3 1751.5,165.4 1752.0,166.1 1752.5,166.6 1753.0,166.8 1753.5,166.6 1754.0,166.2 1754.5,165.5 1755.0,164.6 1755.5,163.4 1756.0,161.9 1756.5,160.3 1757.0,158.4 1757.5,156.4 1758.0,154.2 1758.5,151.9 1759.0,149.5 1759.5,147.1 1760.0,144.6 1760.5,142.1 1761.0,139.7 1761.5,137.3 1762.0,135.0 1762.5,132.9 1763.0,130.8 1763.5,129.0 1764.0,127.3 1764.5,125.9 1765.0,124.7 1765.5,123.7 1766.0,123.1 1766.5,122.6 1767.0,122.5 1767.5,122.6 1768.0,123.0 1768.5,123.7 1769.0,124.6 1769.5,125.8 1770.1,127.2 1770.6,128.8 1771.1,130.6 1771.6,132.6 1772.1,134.7 1772.6,136.9 1773.1,139.2 1773.6,141.6 1774.1,144.0 1774.6,146.4 1775.1,148.8 1775.7,151.1 1776.2,153.3 1776.7,155.4 1777.2,157.4 1777.7,159.2 1778.2,160.8 1778.7,162.2 1779.2,163.4 1779.7,164.3 1780.2,165.0 1780.7,165.4 1781.2,165.5 1781.8,165.4 1782.3,165.0 1782.8,164.3 1783.3,163.4 1783.8,162.2 1784.3,160.9 1784.8,159.3 1785.3,157.5 1785.8,155.6 1786.3,153.5 1786.8,151.3 1787.4,149.0 1787.9,146.6 1788.4,144.2 1788.9,141.9 1789.4,139.5 1789.9,137.2 1790.4,135.0 1790.9,132.9 1791.4,131.0 1791.9,129.2 1792.4,127.6 1793.0,126.3 1793.5,125.1 1794.0,124.2 1794.5,123.5 1795.0,123.1 1795.5,123.0 1796.0,123.1 1796.5,123.5 1797.0,124.1 1797.5,125.0 1798.0,126.1 1798.5,127.4 1799.0,128.9 1799.5,130.5 1800.0,132.4 1800.5,134.4 1801.0,136.5 1801.5,138.7 1802.0,140.9 1802.5,143.2 1803.0,145.5 1803.5,147.8 1804.0,150.1 1804.5,152.3 1805.0,154.4 1805.5,156.4 1806.0,158.2 1806.5,159.9 1807.0,161.4 1807.5,162.7 1808.0,163.8 1808.5,164.6 1809.0,165.3 1809.5,165.6 1810.0,165.8 1810.5,165.6 1811.0,165.2 1811.5,164.4 1812.0,163.4 1812.5,162.2 1813.1,160.6 1813.6,158.9 1814.1,156.9 1814.6,154.8 1815.1,152.5 1815.6,150.1 1816.1,147.7 1816.6,145.1 1817.1,142.6 1817.6,140.1 1818.1,137.6 1818.7,135.2 1819.2,132.9 1819.7,130.8 1820.2,128.9 1820.7,127.1 1821.2,125.6 1821.7,124.3 1822.2,123.3 1822.7,122.6 1823.2,122.1 1823.8,122.0 1824.3,122.1 1824.8,122.6 1825.3,123.3 1825.8,124.2 1826.3,125.4 1826.8,126.9 1827.3,128.6 1827.8,130.4 1828.3,132.5 1828.8,134.7 1829.3,137.0 1829.9,139.4 1830.4,141.9 1830.9,144.4 1831.4,146.9 1831.9,149.4 1832.4,151.8 1832.9,154.1 1833.4,156.3 1833.9,158.3 1834.4,160.2 1834.9,161.9 1835.5,163.3 1836.0,164.5 1836.5,165.5 1837.0,166.2 1837.5,166.6 1838.0,166.8 1838.5,166.6 1839.0,166.2 1839.5,165.5 1840.0,164.5 1840.5,163.3 1841.0,161.8 1841.5,160.2 1842.0,158.3 1842.5,156.2 1843.0,154.0 1843.5,151.7 1844.0,149.3 1844.5,146.8 1845.0,144.2 1845.5,141.7 1846.0,139.2 1846.5,136.8 1847.0,134.5 1847.5,132.3 1848.0,130.2 1848.5,128.3 1849.0,126.7 1849.5,125.2 1850.0,124.0 1850.5,123.0 1851.0,122.3 1851.5,121.9 1852.0,121.8 1852.5,121.9 1853.0,122.3 1853.5,123.0 1854.0,124.0 1854.5,125.2 1855.0,126.7 1855.5,128.3 1856.0,130.2 1856.5,132.3 1857.0,134.5 1857.5,136.8 1858.0,139.2 1858.5,141.7 1859.0,144.2 1859.5,146.8 1860.0,149.3 1860.5,151.7 1861.0,154.0 1861.5,156.2 1862.0,158.3 1862.5,160.2 1863.0,161.8 1863.5,163.3 1864.0,164.5 1864.5,165.5 1865.0,166.2 1865.5,166.6 1866.0,166.8 1866.5,166.6 1867.0,166.2 1867.5,165.5 1868.0,164.6 1868.5,163.4 1869.1,161.9 1869.6,160.3 1870.1,158.4 1870.6,156.4 1871.1,154.2 1871.6,151.9 1872.1,149.5 1872.6,147.1 1873.1,144.6 1873.6,142.1 1874.1,139.7 1874.7,137.3 1875.2,135.0 1875.7,132.9 1876.2,130.8 1876.7,129.0 1877.2,127.3 1877.7,125.9 1878.2,124.7 1878.7,123.7 1879.2,123.1 1879.7,122.6 1880.2,122.5 1880.8,122.6 1881.3,123.0 1881.8,123.7 1882.3,124.6 1882.8,125.8 1883.3,127.2 1883.8,128.8 1884.3,130.6 1884.8,132.6 1885.3,134.7 1885.8,137.0 1886.4,139.3 1886.9,141.7 1887.4,144.1 1887.9,146.5 1888.4,148.9 1888.9,151.3 1889.4,153.5 1889.9,155.6 1890.4,157.6 1890.9,159.4 1891.4,161.0 1892.0,162.4 1892.5,163.6 1893.0,164.5 1893.5,165.2 1894.0,165.6 1894.5,165.8 1895.0,165.6 1895.5,165.2 1896.0,164.5 1896.5,163.6 1897.0,162.4 1897.6,161.0 1898.1,159.4 1898.6,157.6 1899.1,155.6 1899.6,153.5 1900.1,151.3 1900.6,148.9 1901.1,146.5 1901.6,144.1 1902.1,141.7 1902.6,139.3 1903.2,137.0 1903.7,134.7 1904.2,132.6 1904.7,130.6 1905.2,128.8 1905.7,127.2 1906.2,125.8 1906.7,124.6 1907.2,123.7 1907.7,123.0 1908.2,122.6 1908.8,122.5 1909.3,122.6 1909.8,123.0 1910.3,123.7 1910.8,124.7 1911.3,125.9 1911.8,127.3 1912.3,128.9 1912.8,130.7 1913.3,132.7 1913.8,134.9 1914.3,137.2 1914.9,139.5 1915.4,141.9 1915.9,144.4 1916.4,146.8 1916.9,149.2 1917.4,151.6 1917.9,153.9 1918.4,156.0 1918.9,158.0 1919.4,159.8 1919.9,161.5 1920.5,162.9 1921.0,164.1 1921.5,165.0 1922.0,165.7 1922.5,166.1 1923.0,166.2 1923.5,166.1 1924.0,165.7 1924.5,165.0 1925.0,164.1 1925.5,162.9 1926.0,161.4 1926.5,159.8 1927.0,157.9 1927.5,155.9 1928.0,153.7 1928.5,151.4 1929.0,149.0 1929.5,146.6 1930.0,144.1 1930.5,141.6 1931.0,139.2 1931.5,136.8 1932.0,134.5 1932.5,132.4 1933.0,130.3 1933.5,128.5 1934.0,126.8 1934.5,125.4 1935.0,124.2 1935.5,123.2 1936.0,122.6 1936.5,122.1 1937.0,122.0 1937.5,122.1 1938.0,122.6 1938.5,123.3 1939.0,124.2 1939.5,125.4 1940.0,126.9 1940.5,128.6 1941.0,130.4 1941.5,132.5 1942.0,134.7 1942.5,137.0 1943.0,139.4 1943.5,141.9 1944.0,144.4 1944.5,146.9 1945.0,149.4 1945.5,151.8 1946.0,154.1 1946.5,156.3 1947.0,158.3 1947.5,160.2 1948.0,161.9 1948.5,163.3 1949.0,164.5 1949.5,165.5 1950.0,166.2 1950.5,166.6 1951.0,166.8 1951.5,166.6 1952.0,166.2 1952.5,165.6 1953.0,164.7 1953.5,163.5 1954.0,162.2 1954.5,160.6 1955.0,158.9 1955.5,156.9 1956.0,154.9 1956.5,152.7 1957.0,150.4 1957.5,148.0 1958.0,145.6 1958.5,143.2 1959.0,140.8 1959.5,138.4 1960.0,136.1 1960.5,133.9 1961.0,131.8 1961.5,129.9 1962.0,128.1 1962.5,126.6 1963.0,125.2 1963.5,124.1 1964.0,123.2 1964.5,122.5 1965.0,122.1 1965.5,122.0 1966.0,122.1 1966.5,122.6 1967.0,123.3 1967.5,124.2 1968.0,125.4 1968.5,126.9 1969.0,128.6 1969.5,130.4 1970.0,132.5 1970.5,134.7 1971.0,137.0 1971.5,139.4 1972.0,141.9 1972.5,144.4 1973.0,146.9 1973.5,149.4 1974.0,151.8 1974.5,154.1 1975.0,156.3 1975.5,158.3 1976.0,160.2 1976.5,161.9 1977.0,163.3 1977.5,164.5 1978.0,165.5 1978.5,166.2 1979.0,166.6 1979.5,166.8 1980.0,166.6 1980.5,166.2 1981.0,165.5 1981.5,164.6 1982.0,163.4 1982.6,161.9 1983.1,160.3 1983.6,158.4 1984.1,156.4 1984.6,154.2 1985.1,151.9 1985.6,149.5 1986.1,147.1 1986.6,144.6 1987.1,142.1 1987.6,139.7 1988.2,137.3 1988.7,135.0 1989.2,132.9 1989.7,130.8 1990.2,129.0 1990.7,127.3 1991.2,125.9 1991.7,124.7 1992.2,123.7 1992.7,123.1 1993.2,122.6 1993.8,122.5 1994.3,122.6 1994.8,123.1 1995.3,123.7 1995.8,124.7" fill="none" stroke="#ff0000" stroke-width="2.2" stroke-linejoin="round"/>
<rect x="1198" y="548" width="116" height="2" fill="#00aeef"/>
<polyline points="1313.5,549.5 1314.0,549.2 1314.5,548.5 1315.0,547.3 1315.5,545.8 1316.0,543.9 1316.5,542.0 1317.0,540.1 1317.5,538.2 1318.0,536.7 1318.5,535.5 1319.0,534.8 1319.5,534.5 1320.0,534.7 1320.5,535.3 1321.0,536.2 1321.5,537.5 1322.1,539.1 1322.6,541.1 1323.1,543.3 1323.6,545.8 1324.1,548.4 1324.6,551.2 1325.1,554.1 1325.6,557.0 1326.1,559.9 1326.6,562.8 1327.2,565.6 1327.7,568.2 1328.2,570.7 1328.7,572.9 1329.2,574.9 1329.7,576.5 1330.2,577.8 1330.7,578.7 1331.2,579.3 1331.8,579.5 1332.2,579.2 1332.8,578.2 1333.2,576.6 1333.8,574.4 1334.2,571.6 1334.8,568.3 1335.2,564.5 1335.8,560.4 1336.2,555.8 1336.8,551.0 1337.2,546.0 1337.8,540.8 1338.2,535.7 1338.8,530.5 1339.2,525.5 1339.8,520.7 1340.2,516.1 1340.8,512.0 1341.2,508.2 1341.8,504.9 1342.2,502.1 1342.8,499.9 1343.2,498.3 1343.8,497.3 1344.2,497.0 1344.8,497.5 1345.3,498.8 1345.8,501.0 1346.3,504.1 1346.8,508.0 1347.3,512.6 1347.8,517.8 1348.3,523.6 1348.8,529.8 1349.4,536.4 1349.9,543.2 1350.4,550.1 1350.9,557.1 1351.4,563.9 1351.9,570.5 1352.4,576.7 1352.9,582.5 1353.4,587.7 1353.9,592.3 1354.5,596.1 1355.0,599.2 1355.5,601.4 1356.0,602.8 1356.5,603.2 1357.0,602.9 1357.5,601.7 1358.0,599.8 1358.5,597.2 1359.0,593.9 1359.5,589.9 1360.0,585.4 1360.5,580.3 1361.0,574.8 1361.5,568.8 1362.0,562.6 1362.5,556.1 1363.0,549.6 1363.5,542.9 1364.0,536.4 1364.5,529.9 1365.0,523.7 1365.5,517.8 1366.0,512.2 1366.5,507.1 1367.0,502.6 1367.5,498.6 1368.0,495.3 1368.5,492.7 1369.0,490.8 1369.5,489.6 1370.0,489.2 1370.5,489.7 1371.0,491.2 1371.5,493.5 1372.0,496.8 1372.5,500.9 1373.0,505.8 1373.5,511.3 1374.0,517.4 1374.5,524.1 1375.0,531.0 1375.5,538.3 1376.0,545.6 1376.5,553.0 1377.0,560.2 1377.5,567.2 1378.0,573.8 1378.5,579.9 1379.0,585.5 1379.5,590.4 1380.0,594.4 1380.5,597.7 1381.0,600.1 1381.5,601.5 1382.0,602.0 1382.5,601.7 1383.0,600.8 1383.5,599.3 1384.0,597.3 1384.5,594.8 1385.0,591.7 1385.5,588.2 1386.0,584.2 1386.5,579.9 1387.0,575.3 1387.5,570.4 1388.0,565.3 1388.5,560.0 1389.0,554.8 1389.5,549.5 1390.0,544.2 1390.5,539.1 1391.0,534.2 1391.5,529.6 1392.0,525.3 1392.5,521.3 1393.0,517.8 1393.5,514.7 1394.0,512.2 1394.5,510.2 1395.0,508.7 1395.5,507.8 1396.0,507.5 1396.5,507.8 1397.0,508.6 1397.5,510.0 1398.0,512.0 1398.5,514.4 1399.1,517.3 1399.6,520.6 1400.1,524.2 1400.6,528.2 1401.1,532.4 1401.6,536.8 1402.1,541.2 1402.6,545.8 1403.1,550.2 1403.7,554.6 1404.2,558.8 1404.7,562.8 1405.2,566.4 1405.7,569.7 1406.2,572.6 1406.7,575.0 1407.2,577.0 1407.7,578.4 1408.2,579.2 1408.8,579.5 1409.3,579.4 1409.8,579.1 1410.3,578.6 1410.8,578.0 1411.3,577.1 1411.8,576.1 1412.3,575.0 1412.8,573.6 1413.3,572.1 1413.8,570.5 1414.3,568.8 1414.8,566.9 1415.3,565.0 1415.8,563.0 1416.4,560.9 1416.9,558.7 1417.4,556.6 1417.9,554.4 1418.4,552.2 1418.9,550.0 1419.4,547.9 1419.9,545.8 1420.4,543.8 1420.9,541.8 1421.4,540.0 1421.9,538.2 1422.4,536.6 1422.9,535.1 1423.5,533.8 1424.0,532.6 1424.5,531.6 1425.0,530.8 1425.5,530.1 1426.0,529.6 1426.5,529.3 1427.0,529.2 1427.5,529.4 1428.0,529.7 1428.5,530.2 1429.0,531.0 1429.5,531.9 1430.0,533.1 1430.5,534.4 1431.0,535.9 1431.5,537.5 1432.0,539.3 1432.5,541.2 1433.0,543.2 1433.5,545.3 1434.0,547.5 1434.5,549.7 1435.0,551.9 1435.5,554.1 1436.0,556.3 1436.5,558.4 1437.0,560.5 1437.5,562.5 1438.0,564.4 1438.5,566.2 1439.0,567.9 1439.5,569.4 1440.0,570.7 1440.5,571.8 1441.0,572.8 1441.5,573.5 1442.0,574.1 1442.5,574.4 1443.0,574.5 1443.5,574.3 1444.0,573.7 1444.5,572.7 1445.0,571.3 1445.5,569.6 1446.0,567.5 1446.5,565.1 1447.0,562.5 1447.5,559.5 1448.0,556.4 1448.5,553.1 1449.0,549.6 1449.5,546.1 1450.0,542.5 1450.5,538.9 1451.0,535.4 1451.5,531.9 1452.0,528.6 1452.5,525.5 1453.0,522.5 1453.5,519.9 1454.0,517.5 1454.5,515.4 1455.0,513.7 1455.5,512.3 1456.0,511.3 1456.5,510.7 1457.0,510.5 1457.5,510.8 1458.0,511.6 1458.5,512.9 1459.0,514.8 1459.5,517.1 1460.0,519.9 1460.5,523.1 1461.0,526.6 1461.5,530.5 1462.0,534.7 1462.5,539.0 1463.0,543.6 1463.5,548.2 1464.0,552.8 1464.5,557.4 1465.0,562.0 1465.5,566.3 1466.0,570.5 1466.5,574.4 1467.0,577.9 1467.5,581.1 1468.0,583.9 1468.5,586.2 1469.0,588.1 1469.5,589.4 1470.0,590.2 1470.5,590.5 1471.0,590.2 1471.5,589.3 1472.0,587.9 1472.5,585.8 1473.0,583.3 1473.5,580.3 1474.0,576.8 1474.5,572.9 1475.0,568.6 1475.5,564.1 1476.0,559.3 1476.5,554.3 1477.0,549.3 1477.5,544.2 1478.0,539.2 1478.5,534.2 1479.0,529.4 1479.5,524.9 1480.0,520.6 1480.5,516.7 1481.0,513.2 1481.5,510.2 1482.0,507.7 1482.5,505.6 1483.0,504.2 1483.5,503.3 1484.0,503.0 1484.5,503.4 1485.0,504.4 1485.5,506.1 1486.0,508.5 1486.5,511.5 1487.0,515.1 1487.5,519.1 1488.0,523.7 1488.5,528.6 1489.0,533.7 1489.5,539.2 1490.0,544.7 1490.5,550.3 1491.0,555.8 1491.5,561.3 1492.0,566.4 1492.5,571.3 1493.0,575.9 1493.5,579.9 1494.0,583.5 1494.5,586.5 1495.0,588.9 1495.5,590.6 1496.0,591.6 1496.5,592.0 1497.0,591.8 1497.5,591.0 1498.0,589.9 1498.5,588.2 1499.0,586.2 1499.5,583.7 1500.0,580.8 1500.5,577.6 1501.0,574.1 1501.5,570.3 1502.0,566.3 1502.5,562.2 1503.0,557.8 1503.5,553.5 1504.0,549.0 1504.5,544.7 1505.0,540.3 1505.5,536.2 1506.0,532.2 1506.5,528.4 1507.0,524.9 1507.5,521.7 1508.0,518.8 1508.5,516.3 1509.0,514.3 1509.5,512.6 1510.0,511.5 1510.5,510.7 1511.0,510.5 1511.5,510.7 1512.0,511.4 1512.5,512.6 1513.0,514.2 1513.5,516.3 1514.0,518.7 1514.5,521.5 1515.0,524.6 1515.5,528.1 1516.0,531.7 1516.5,535.6 1517.0,539.5 1517.5,543.6 1518.0,547.7 1518.5,551.7 1519.0,555.7 1519.5,559.5 1520.0,563.2 1520.5,566.6 1521.0,569.7 1521.5,572.5 1522.0,575.0 1522.5,577.0 1523.0,578.6 1523.5,579.8 1524.0,580.5 1524.5,580.8 1525.0,580.6 1525.5,580.2 1526.0,579.4 1526.5,578.4 1527.0,577.2 1527.5,575.6 1528.0,573.9 1528.5,571.9 1529.0,569.6 1529.5,567.3 1530.0,564.7 1530.5,562.0 1531.0,559.2 1531.5,556.3 1532.0,553.4 1532.5,550.4 1533.0,547.4 1533.5,544.4 1534.0,541.6 1534.5,538.8 1535.0,536.1 1535.5,533.5 1536.0,531.1 1536.5,528.9 1537.0,526.9 1537.5,525.1 1538.0,523.6 1538.5,522.3 1539.0,521.3 1539.5,520.6 1540.0,520.1 1540.5,520.0 1541.0,520.3 1541.5,521.1 1542.0,522.5 1542.5,524.3 1543.0,526.6 1543.5,529.3 1544.0,532.3 1544.5,535.5 1545.0,539.0 1545.5,542.5 1546.0,546.0 1546.5,549.5 1547.0,552.7 1547.5,555.7 1548.0,558.4 1548.5,560.7 1549.0,562.5 1549.5,563.9 1550.0,564.7 1550.5,565.0 1551.0,564.9 1551.5,564.5 1552.0,563.9 1552.5,563.1 1553.0,562.1 1553.5,560.8 1554.0,559.4 1554.5,557.9 1555.0,556.3 1555.5,554.5 1556.0,552.8 1556.5,551.0 1557.0,549.2 1557.5,547.5 1558.0,545.8 1558.5,544.3 1559.0,542.9 1559.5,541.7 1560.0,540.7 1560.5,539.8 1561.0,539.2 1561.5,538.9 1562.0,538.8 1562.5,538.8 1563.0,539.1 1563.5,539.4 1564.0,539.9 1564.5,540.6 1565.0,541.3 1565.5,542.2 1566.0,543.1 1566.5,544.1 1567.0,545.1 1567.5,546.1 1568.0,547.2 1568.5,548.1 1569.0,549.1 1569.5,549.9 1570.0,550.7 1570.5,551.3 1571.0,551.8 1571.5,552.2 1572.0,552.4 1572.5,552.5 1573.0,552.4 1573.5,552.3 1574.1,552.1 1574.6,551.8 1575.1,551.4 1575.6,551.0 1576.1,550.6 1576.7,550.2 1577.2,549.9 1577.7,549.7 1578.2,549.6 1578.8,549.5 1579.2,549.5 1579.8,549.6 1580.2,549.8 1580.8,550.0 1581.2,550.2 1581.8,550.5 1582.2,550.8 1582.8,551.2 1583.2,551.5 1583.8,551.8 1584.2,552.0 1584.8,552.2 1585.2,552.4 1585.8,552.5 1586.2,552.5 1586.8,552.4 1587.2,552.3 1587.8,552.0 1588.2,551.6 1588.8,551.1 1589.2,550.5 1589.8,549.9 1590.2,549.2 1590.8,548.5 1591.2,547.8 1591.8,547.0 1592.2,546.3 1592.8,545.6 1593.2,545.0 1593.8,544.4 1594.2,543.9 1594.8,543.5 1595.2,543.2 1595.8,543.1 1596.2,543.0 1596.8,543.1 1597.3,543.2 1597.8,543.5 1598.3,544.0 1598.8,544.5 1599.3,545.1 1599.8,545.8 1600.3,546.5 1600.9,547.3 1601.4,548.1 1601.9,549.0 1602.4,549.9 1602.9,550.7 1603.4,551.5 1603.9,552.2 1604.4,552.9 1604.9,553.5 1605.5,554.0 1606.0,554.5 1606.5,554.8 1607.0,554.9 1607.5,555.0 1608.0,555.0 1608.5,554.8 1609.0,554.6 1609.5,554.2 1610.0,553.8 1610.5,553.4 1611.0,552.8 1611.5,552.2 1612.0,551.5 1612.5,550.8 1613.0,550.1 1613.5,549.4 1614.0,548.6 1614.5,547.9 1615.0,547.2 1615.5,546.6 1616.0,546.0 1616.5,545.4 1617.0,544.9 1617.5,544.5 1618.0,544.2 1618.5,543.9 1619.0,543.8 1619.5,543.8 1620.0,543.8 1620.5,544.0 1621.0,544.3 1621.5,544.7 1622.0,545.2 1622.5,545.8 1623.0,546.4 1623.5,547.2 1624.0,547.9 1624.5,548.7 1625.0,549.5 1625.5,550.3 1626.0,551.1 1626.5,551.8 1627.0,552.5 1627.5,553.1 1628.0,553.6 1628.5,554.0 1629.0,554.3 1629.5,554.4 1630.0,554.5 1630.5,554.5 1631.0,554.3 1631.5,554.1 1632.0,553.9 1632.5,553.5 1633.0,553.1 1633.5,552.7 1634.0,552.2 1634.5,551.6 1635.0,551.0 1635.5,550.4 1636.0,549.8 1636.5,549.2 1637.0,548.6 1637.5,548.0 1638.0,547.4 1638.5,546.8 1639.0,546.3 1639.5,545.9 1640.0,545.5 1640.5,545.1 1641.0,544.9 1641.5,544.7 1642.0,544.5 1642.5,544.5 1643.0,544.5 1643.5,544.7 1644.0,544.9 1644.5,545.2 1645.1,545.6 1645.6,546.1 1646.1,546.6 1646.6,547.2 1647.1,547.8 1647.6,548.5 1648.1,549.1 1648.6,549.8 1649.1,550.4 1649.7,551.0 1650.2,551.6 1650.7,552.2 1651.2,552.6 1651.7,553.0 1652.2,553.3 1652.7,553.6 1653.2,553.7 1653.8,553.8 1654.3,553.7 1654.8,553.6 1655.3,553.3 1655.8,553.0 1656.3,552.6 1656.8,552.2 1657.3,551.7 1657.8,551.1 1658.4,550.5 1658.9,549.9 1659.4,549.3 1659.9,548.7 1660.4,548.1 1660.9,547.6 1661.4,547.1 1661.9,546.6 1662.5,546.2 1663.0,545.9 1663.5,545.7 1664.0,545.5 1664.5,545.5 1665.0,545.5 1665.5,545.6 1666.0,545.8 1666.5,546.1 1667.0,546.4 1667.5,546.7 1668.0,547.1 1668.5,547.5 1669.0,548.0 1669.5,548.5 1670.0,549.0 1670.5,549.5 1671.0,550.0 1671.5,550.5 1672.0,550.9 1672.5,551.3 1673.0,551.6 1673.5,551.9 1674.0,552.2 1674.5,552.4 1675.0,552.5 1675.5,552.5 1676.0,552.5 1676.5,552.4 1677.0,552.2 1677.5,552.0 1678.0,551.8 1678.5,551.5 1679.0,551.2 1679.5,550.8 1680.0,550.4 1680.5,550.0 1681.0,549.6 1681.5,549.1 1682.0,548.7 1682.5,548.3 1683.0,547.8 1683.5,547.4 1684.0,547.1 1684.5,546.7 1685.0,546.4 1685.5,546.2 1686.0,546.0 1686.5,545.9 1687.0,545.8 1687.5,545.8 1688.0,545.8 1688.5,545.9 1689.0,546.0 1689.5,546.2 1690.1,546.5 1690.6,546.7 1691.1,547.1 1691.6,547.4 1692.1,547.8 1692.6,548.2 1693.1,548.6 1693.6,549.0 1694.1,549.4 1694.7,549.8 1695.2,550.2 1695.7,550.5 1696.2,550.8 1696.7,551.0 1697.2,551.2 1697.7,551.4 1698.2,551.5 1698.8,551.5 1699.2,551.5 1699.8,551.4 1700.2,551.3 1700.8,551.1 1701.2,551.0 1701.8,550.7 1702.2,550.5 1702.8,550.2 1703.2,549.9 1703.8,549.6 1704.2,549.2 1704.8,548.9 1705.2,548.5 1705.8,548.2 1706.2,547.9 1706.8,547.6 1707.2,547.3 1707.8,547.0 1708.2,546.8 1708.8,546.6 1709.2,546.4 1709.8,546.3 1710.2,546.3 1710.8,546.2 1711.2,546.3 1711.8,546.4 1712.2,546.5 1712.8,546.7 1713.2,546.9 1713.8,547.2 1714.2,547.5 1714.8,547.8 1715.2,548.2 1715.8,548.6 1716.2,548.9 1716.8,549.3 1717.2,549.7 1717.8,550.0 1718.2,550.3 1718.8,550.6 1719.2,550.8 1719.8,551.0 1720.2,551.1 1720.8,551.2 1721.2,551.2 1721.8,551.2 1722.2,551.2 1722.8,551.1 1723.2,551.0 1723.8,550.8 1724.2,550.6 1724.8,550.4 1725.2,550.2 1725.8,550.0 1726.2,549.7 1726.8,549.4 1727.2,549.1 1727.8,548.9 1728.2,548.6 1728.8,548.3 1729.2,548.0 1729.8,547.8 1730.2,547.6 1730.8,547.4 1731.2,547.2 1731.8,547.0 1732.2,546.9 1732.8,546.8 1733.2,546.8 1733.8,546.8 1734.3,546.8 1734.8,546.8 1735.3,547.0 1735.8,547.1 1736.3,547.3 1736.8,547.5 1737.3,547.8 1737.8,548.1 1738.4,548.4 1738.9,548.7 1739.4,549.0 1739.9,549.3 1740.4,549.6 1740.9,549.9 1741.4,550.2 1741.9,550.5 1742.4,550.7 1743.0,550.9 1743.5,551.0 1744.0,551.2 1744.5,551.2 1745.0,551.2 1745.5,551.2 1746.0,551.2 1746.5,551.0 1747.0,550.9 1747.6,550.7 1748.1,550.4 1748.6,550.2 1749.1,549.9 1749.6,549.5 1750.1,549.2 1750.6,548.9 1751.1,548.5 1751.6,548.2 1752.2,547.9 1752.7,547.6 1753.2,547.3 1753.7,547.1 1754.2,546.9 1754.7,546.7 1755.2,546.6 1755.7,546.5 1756.2,546.5 1756.8,546.5 1757.3,546.6 1757.8,546.7 1758.3,546.8 1758.8,547.0 1759.3,547.3 1759.8,547.5 1760.3,547.8 1760.8,548.1 1761.4,548.4 1761.9,548.7 1762.4,549.0 1762.9,549.4 1763.4,549.7 1763.9,550.0 1764.4,550.2 1764.9,550.5 1765.4,550.7 1766.0,550.9 1766.5,551.1 1767.0,551.2 1767.5,551.2 1768.0,551.2 1768.5,551.2 1769.0,551.2 1769.5,551.0 1770.0,550.9 1770.6,550.6 1771.1,550.4 1771.6,550.1 1772.1,549.8 1772.6,549.5 1773.1,549.2 1773.6,548.8 1774.1,548.5 1774.7,548.2 1775.2,547.9 1775.7,547.6 1776.2,547.4 1776.7,547.1 1777.2,547.0 1777.7,546.8 1778.2,546.8 1778.8,546.8 1779.3,546.8 1779.8,546.8 1780.3,546.9 1780.8,547.0 1781.3,547.2 1781.8,547.4 1782.3,547.6 1782.8,547.8 1783.4,548.1 1783.9,548.4 1784.4,548.6 1784.9,548.9 1785.4,549.2 1785.9,549.4 1786.4,549.6 1786.9,549.9 1787.4,550.0 1788.0,550.2 1788.5,550.3 1789.0,550.4 1789.5,550.5 1790.0,550.5 1790.5,550.5 1791.0,550.4 1791.5,550.3 1792.0,550.2 1792.6,550.1 1793.1,549.9 1793.6,549.7 1794.1,549.5 1794.6,549.2 1795.1,549.0 1795.6,548.8 1796.1,548.5 1796.6,548.3 1797.2,548.0 1797.7,547.8 1798.2,547.6 1798.7,547.4 1799.2,547.3 1799.7,547.2 1800.2,547.1 1800.7,547.0 1801.2,547.0 1801.8,547.0 1802.3,547.1 1802.8,547.2 1803.3,547.3 1803.8,547.4 1804.3,547.6 1804.8,547.8 1805.4,548.0 1805.9,548.2 1806.4,548.5 1806.9,548.7 1807.4,548.9 1807.9,549.2 1808.4,549.4 1809.0,549.6 1809.5,549.8 1810.0,550.0 1810.5,550.1 1811.0,550.2 1811.5,550.3 1812.0,550.4 1812.5,550.4 1813.1,550.4 1813.6,550.3 1814.1,550.3 1814.6,550.2 1815.1,550.0 1815.6,549.9 1816.1,549.7 1816.7,549.5 1817.2,549.3 1817.7,549.1 1818.2,548.9 1818.7,548.7 1819.2,548.5 1819.7,548.3 1820.3,548.1 1820.8,547.9 1821.3,547.8 1821.8,547.6 1822.3,547.5 1822.8,547.5 1823.3,547.4 1823.8,547.4 1824.4,547.4 1824.9,547.4 1825.4,547.5 1825.9,547.6 1826.4,547.7 1826.9,547.9 1827.4,548.0 1828.0,548.2 1828.5,548.4 1829.0,548.6 1829.5,548.8 1830.0,549.0 1830.5,549.2 1831.0,549.4 1831.6,549.6 1832.1,549.7 1832.6,549.9 1833.1,550.0 1833.6,550.1 1834.1,550.2 1834.6,550.2 1835.1,550.2 1835.7,550.2 1836.2,550.2 1836.7,550.1 1837.2,550.0 1837.7,549.9 1838.2,549.8 1838.7,549.6 1839.3,549.4 1839.8,549.3 1840.3,549.1 1840.8,548.9 1841.3,548.7 1841.8,548.5 1842.3,548.3 1842.9,548.2 1843.4,548.0 1843.9,547.9 1844.4,547.8 1844.9,547.7 1845.4,547.6 1845.9,547.6 1846.4,547.6 1847.0,547.6 1847.5,547.6 1848.0,547.7 1848.5,547.8 1849.0,547.9 1849.5,548.0 1850.0,548.1 1850.6,548.3 1851.1,548.5 1851.6,548.6 1852.1,548.8 1852.6,549.0 1853.1,549.1 1853.6,549.3 1854.2,549.5 1854.7,549.6 1855.2,549.7 1855.7,549.8 1856.2,549.9 1856.7,550.0 1857.2,550.0 1857.7,550.0 1858.3,550.0 1858.8,550.0 1859.3,549.9 1859.8,549.9 1860.3,549.8 1860.8,549.6 1861.3,549.5 1861.9,549.4 1862.4,549.2 1862.9,549.0 1863.4,548.9 1863.9,548.7 1864.4,548.5 1864.9,548.4 1865.5,548.2 1866.0,548.1 1866.5,548.0 1867.0,547.9 1867.5,547.8 1868.0,547.8 1868.5,547.7 1869.0,547.7 1869.6,547.7 1870.1,547.8 1870.6,547.8 1871.1,547.9 1871.6,548.0 1872.1,548.1 1872.6,548.2 1873.2,548.3 1873.7,548.5 1874.2,548.6 1874.7,548.8 1875.2,549.0 1875.7,549.1 1876.2,549.3 1876.8,549.4 1877.3,549.5 1877.8,549.6 1878.3,549.7 1878.8,549.8 1879.3,549.8 1879.8,549.9 1880.3,549.9 1880.9,549.9 1881.4,549.8 1881.9,549.8 1882.4,549.7 1882.9,549.6 1883.4,549.5 1883.9,549.4 1884.5,549.3 1885.0,549.2 1885.5,549.0 1886.0,548.9 1886.5,548.7 1887.0,548.6 1887.5,548.4 1888.1,548.3 1888.6,548.2 1889.1,548.1 1889.6,548.0 1890.1,547.9 1890.6,547.9 1891.1,547.9 1891.6,547.8 1892.2,547.9 1892.7,547.9 1893.2,547.9 1893.7,548.0 1894.2,548.1 1894.7,548.2 1895.2,548.3 1895.8,548.4 1896.3,548.5 1896.8,548.7 1897.3,548.8 1897.8,548.9 1898.3,549.1 1898.8,549.2 1899.4,549.3 1899.9,549.4 1900.4,549.5 1900.9,549.6 1901.4,549.7 1901.9,549.7 1902.4,549.7 1902.9,549.8 1903.5,549.8 1904.0,549.7 1904.5,549.7 1905.0,549.6 1905.5,549.5 1906.0,549.4 1906.5,549.3 1907.1,549.2 1907.6,549.1 1908.1,549.0 1908.6,548.9 1909.1,548.7 1909.6,548.6 1910.1,548.5 1910.7,548.4 1911.2,548.3 1911.7,548.2 1912.2,548.1 1912.7,548.0 1913.2,548.0 1913.7,548.0 1914.2,548.0 1914.8,548.0 1915.3,548.0 1915.8,548.0 1916.3,548.1 1916.8,548.2 1917.3,548.2 1917.8,548.3 1918.4,548.4 1918.9,548.6 1919.4,548.7 1919.9,548.8 1920.4,548.9 1920.9,549.0 1921.4,549.2 1922.0,549.3 1922.5,549.4 1923.0,549.4 1923.5,549.5 1924.0,549.6 1924.5,549.6 1925.0,549.6 1925.5,549.6 1926.1,549.6 1926.6,549.6 1927.1,549.6 1927.6,549.5 1928.1,549.5 1928.6,549.4 1929.1,549.3 1929.7,549.2 1930.2,549.1 1930.7,549.0 1931.2,548.9 1931.7,548.7 1932.2,548.6 1932.7,548.5 1933.3,548.4 1933.8,548.3 1934.3,548.3 1934.8,548.2 1935.3,548.1 1935.8,548.1 1936.3,548.1 1936.8,548.1 1937.4,548.1 1937.9,548.1 1938.4,548.1 1938.9,548.2 1939.4,548.2 1939.9,548.3 1940.4,548.4 1941.0,548.5 1941.5,548.6 1942.0,548.7 1942.5,548.8 1943.0,548.9 1943.5,549.0 1944.0,549.1 1944.6,549.2 1945.1,549.3 1945.6,549.4 1946.1,549.4 1946.6,549.5 1947.1,549.5 1947.6,549.5 1948.1,549.5 1948.7,549.5 1949.2,549.5 1949.7,549.5 1950.2,549.4 1950.7,549.4 1951.2,549.3 1951.7,549.2 1952.3,549.1 1952.8,549.0 1953.3,548.9 1953.8,548.8 1954.3,548.7 1954.8,548.6 1955.3,548.6 1955.9,548.5 1956.4,548.4 1956.9,548.3 1957.4,548.3 1957.9,548.2 1958.4,548.2 1958.9,548.2 1959.4,548.1 1960.0,548.2 1960.5,548.2 1961.0,548.2 1961.5,548.2 1962.0,548.3 1962.5,548.4 1963.0,548.4 1963.6,548.5 1964.1,548.6 1964.6,548.7 1965.1,548.8 1965.6,548.9 1966.1,549.0 1966.6,549.1 1967.2,549.2 1967.7,549.2 1968.2,549.3 1968.7,549.4 1969.2,549.4 1969.7,549.4 1970.2,549.4 1970.7,549.5 1971.3,549.4 1971.8,549.4 1972.3,549.4 1972.8,549.4 1973.3,549.3 1973.8,549.2 1974.3,549.2 1974.9,549.1 1975.4,549.0 1975.9,548.9 1976.4,548.8 1976.9,548.8 1977.4,548.7 1977.9,548.6 1978.5,548.5 1979.0,548.4 1979.5,548.4 1980.0,548.3 1980.5,548.3 1981.0,548.2 1981.5,548.2 1982.0,548.2 1982.6,548.2 1983.1,548.2 1983.6,548.3 1984.1,548.3 1984.6,548.4 1985.1,548.4 1985.6,548.5 1986.2,548.6 1986.7,548.6 1987.2,548.7 1987.7,548.8 1988.2,548.9 1988.7,549.0 1989.2,549.0 1989.8,549.1 1990.3,549.2 1990.8,549.2 1991.3,549.3 1991.8,549.3 1992.3,549.4 1992.8,549.4 1993.3,549.4 1993.9,549.4 1994.4,549.4 1994.9,549.3 1995.4,549.3 1995.9,549.2" fill="none" stroke="#00aeef" stroke-width="2.2" stroke-linejoin="round"/>
</g>
<rect x="1425" y="45" width="2" height="14" fill="#000"/>
<rect x="1425" y="635" width="2" height="14" fill="#000"/>
<rect x="1653" y="45" width="2" height="14" fill="#000"/>
<rect x="1653" y="635" width="2" height="14" fill="#000"/>
<rect x="1767" y="45" width="2" height="14" fill="#000"/>
<rect x="1767" y="635" width="2" height="14" fill="#000"/>
<rect x="1881" y="45" width="2" height="14" fill="#000"/>
<rect x="1881" y="635" width="2" height="14" fill="#000"/>
<rect x="1311" y="635" width="2" height="14" fill="#000"/>
<rect x="1539" y="635" width="2" height="14" fill="#000"/>
<rect x="1199" y="246" width="8" height="1" fill="#000"/>
<rect x="1199" y="347" width="8" height="1" fill="#000"/>
<rect x="1199" y="448" width="8" height="1" fill="#000"/>
<rect x="1987" y="145" width="8" height="1" fill="#000"/>
<rect x="1987" y="246" width="8" height="1" fill="#000"/>
<rect x="1987" y="347" width="8" height="1" fill="#000"/>
<rect x="1987" y="448" width="8" height="1" fill="#000"/>
<rect x="1197" y="43" width="2" height="609" fill="#000"/>
<rect x="1197" y="43" width="800" height="2" fill="#000"/>
<rect x="1995" y="43" width="1" height="609" fill="#000"/>
<rect x="1996" y="43" width="1" height="609" fill="#b0b0b0"/>
<rect x="1197" y="649" width="800" height="3" fill="#000"/>
<polygon points="1305.3,44.0 1319.7,44.0 1312.5,64.4" fill="#ff0000"/>
<polygon points="1532.8,44.0 1547.2,44.0 1540.0,64.4" fill="#ff0000"/>
<line x1="1627.0" y1="291.0" x2="1561.3" y2="209.0" stroke="#000" stroke-width="5"/>
<polygon points="1550.0,195.0 1568.8,205.6 1556.3,215.6" fill="#000"/>
<line x1="1625.0" y1="392.5" x2="1552.9" y2="462.9" stroke="#000" stroke-width="5"/>
<polygon points="1540.0,475.5 1548.7,455.8 1559.9,467.3" fill="#000"/>
<text transform="translate(1089.48,60.62) scale(1.0406,1)" font-size="48.30" fill="#000">5000</text>
<text transform="translate(1090.00,161.72) scale(1.0352,1)" font-size="48.30" fill="#000">4000</text>
<text transform="translate(1089.74,262.82) scale(1.0379,1)" font-size="48.30" fill="#000">3000</text>
<text transform="translate(1088.72,364.02) scale(1.0487,1)" font-size="48.30" fill="#000">2000</text>
<text transform="translate(1092.09,464.42) scale(1.0131,1)" font-size="48.30" fill="#000">1000</text>
<text transform="translate(1171.77,564.32) scale(1.0229,1)" font-size="48.30" fill="#000">0</text>
<text transform="translate(1095.34,665.52) scale(1.0131,1)" font-size="48.30"><tspan x="-35.53" dy="1.42" font-weight="bold" textLength="29.92" lengthAdjust="spacingAndGlyphs">−</tspan><tspan x="0" dy="-1.42">1000</tspan></text>
<text transform="translate(1179.97,705.08) scale(1.0529,1)" font-size="48.30" fill="#000">0.9</text>
<text transform="translate(1304.51,705.80) scale(0.7290,1)" font-size="48.30" fill="#000">1</text>
<text transform="translate(1397.35,705.08) scale(0.9509,1)" font-size="48.30" fill="#000">1.1</text>
<text transform="translate(1510.29,705.08) scale(1.0259,1)" font-size="48.30" fill="#000">1.2</text>
<text transform="translate(1629.88,705.08) scale(0.9432,1)" font-size="48.30" fill="#000">1.3</text>
<text transform="translate(1740.97,705.08) scale(0.9812,1)" font-size="48.30" fill="#000">1.4</text>
<text transform="translate(1853.63,705.08) scale(0.9432,1)" font-size="48.30" fill="#000">1.5</text>
<text transform="translate(1962.19,705.08) scale(0.9896,1)" font-size="48.30" fill="#000">1.6</text>
<text transform="translate(1072.30,257.36) rotate(-90) scale(0.9997,1)" font-size="67.48" font-style="italic" fill="#000">P</text>
<text transform="translate(1083.04,218.00) rotate(-90) scale(0.9324,1)" font-size="45.62" fill="#000">s</text>
<text transform="translate(1072.14,185.88) rotate(-90) scale(1.0201,1)" font-size="64.95" fill="#000">(W)</text>
<text transform="translate(1072.40,606.44) rotate(-90) scale(0.9729,1)" font-size="68.00" font-style="italic" fill="#000">Q</text>
<text transform="translate(1083.05,558.67) rotate(-90) scale(0.8788,1)" font-size="44.79" fill="#000">s</text>
<text transform="translate(1072.18,527.34) rotate(-90) scale(1.0787,1)" font-size="64.73" fill="#000">(Var)</text>
<text transform="translate(1637.00,327.00) scale(1.0252,1)" font-size="48.50" fill="#000">Adaptive quasi-</text>
<text transform="translate(1632.76,385.00) scale(1.0237,1)" font-size="48.50" fill="#000">resonant control</text>
<text transform="translate(1553.06,753.06) scale(1.0843,1)" font-size="64.84" fill="#222"><tspan font-style="italic" font-weight="bold" font-size="59.65">t</tspan>(<tspan font-weight="bold" font-size="59.65">s</tspan>)</text>
<text transform="translate(1461.08,857.64) scale(1.0061,1)" font-size="86.54" fill="#000">(<tspan font-weight="bold">b</tspan>)</text>
</g>
<g id="plot-c">
<rect x="191" y="1026" width="66" height="2" fill="#a6a6a6"/>
<rect x="257" y="1026" width="760" height="1" fill="#a6a6a6"/>
<line x1="257" y1="1027.5" x2="1017" y2="1027.5" stroke="#a6a6a6" stroke-width="1" stroke-dasharray="3 1"/>
<rect x="257" y="1228" width="760" height="1" fill="#a6a6a6"/>
<rect x="191" y="1328" width="65" height="1" fill="#a6a6a6"/>
<line x1="191" y1="1329.5" x2="256" y2="1329.5" stroke="#a6a6a6" stroke-width="1" stroke-dasharray="3 1"/>
<rect x="256" y="1328" width="761" height="2" fill="#a6a6a6"/>
<rect x="256" y="1429" width="761" height="2" fill="#a6a6a6"/>
<line x1="191" y1="1530.5" x2="256" y2="1530.5" stroke="#a0a0a0" stroke-width="1" stroke-dasharray="1 1"/>
<rect x="256" y="1530" width="761" height="2" fill="#a6a6a6"/>
<rect x="309" y="926" width="1" height="612" fill="#a6a6a6"/>
<rect x="545" y="926" width="1" height="612" fill="#a6a6a6"/>
<rect x="781" y="926" width="1" height="612" fill="#a6a6a6"/>
<rect x="899" y="926" width="1" height="612" fill="#a6a6a6"/>
<g shape-rendering="crispEdges">
<rect x="191" y="1127" width="122" height="2" fill="#ff0000"/>
<polyline points="312.5,1127.5 313.0,1127.5 313.5,1127.4 314.0,1127.2 314.5,1127.0 315.1,1126.7 315.6,1126.3 316.1,1125.9 316.6,1125.5 317.1,1125.1 317.6,1124.6 318.1,1124.1 318.6,1123.6 319.1,1123.2 319.7,1122.7 320.2,1122.3 320.7,1121.9 321.2,1121.6 321.7,1121.3 322.2,1121.1 322.7,1120.9 323.2,1120.8 323.8,1120.8 324.3,1120.8 324.8,1120.9 325.3,1121.1 325.8,1121.4 326.3,1121.7 326.8,1122.1 327.3,1122.6 327.8,1123.1 328.3,1123.7 328.8,1124.3 329.3,1124.9 329.9,1125.6 330.4,1126.3 330.9,1127.0 331.4,1127.7 331.9,1128.4 332.4,1129.1 332.9,1129.7 333.4,1130.3 333.9,1130.9 334.4,1131.4 334.9,1131.9 335.5,1132.3 336.0,1132.6 336.5,1132.9 337.0,1133.1 337.5,1133.2 338.0,1133.2 338.5,1133.2 339.0,1132.9 339.5,1132.5 340.0,1132.0 340.5,1131.3 341.0,1130.4 341.5,1129.5 342.0,1128.4 342.5,1127.2 343.0,1125.9 343.5,1124.6 344.0,1123.2 344.5,1121.7 345.0,1120.2 345.5,1118.8 346.0,1117.3 346.5,1115.8 347.0,1114.4 347.5,1113.1 348.0,1111.8 348.5,1110.6 349.0,1109.5 349.5,1108.6 350.0,1107.7 350.5,1107.0 351.0,1106.5 351.5,1106.1 352.0,1105.8 352.5,1105.8 353.0,1105.8 353.5,1105.8 354.0,1106.0 354.5,1106.1 355.0,1106.3 355.5,1106.6 356.0,1106.9 356.5,1107.2 357.0,1107.5 357.5,1107.9 358.0,1108.3 358.5,1108.8 359.0,1109.2 359.5,1109.7 360.0,1110.1 360.5,1110.6 361.0,1111.1 361.5,1111.5 362.0,1112.0 362.5,1112.4 363.0,1112.8 363.5,1113.2 364.0,1113.6 364.5,1113.9 365.0,1114.2 365.5,1114.4 366.0,1114.6 366.5,1114.8 367.0,1114.9 367.5,1115.0 368.0,1115.0 368.5,1114.9 369.0,1114.8 369.5,1114.5 370.0,1114.1 370.6,1113.6 371.1,1113.0 371.6,1112.3 372.1,1111.6 372.6,1110.8 373.1,1110.0 373.6,1109.2 374.1,1108.4 374.7,1107.7 375.2,1106.9 375.7,1106.3 376.2,1105.7 376.7,1105.2 377.2,1104.8 377.7,1104.5 378.2,1104.3 378.8,1104.2 379.3,1104.3 379.8,1104.4 380.3,1104.5 380.8,1104.8 381.3,1105.1 381.8,1105.4 382.3,1105.8 382.8,1106.3 383.3,1106.8 383.8,1107.3 384.3,1107.9 384.8,1108.5 385.3,1109.1 385.9,1109.8 386.4,1110.5 386.9,1111.2 387.4,1111.8 387.9,1112.5 388.4,1113.2 388.9,1113.9 389.4,1114.5 389.9,1115.1 390.4,1115.7 390.9,1116.2 391.4,1116.7 391.9,1117.2 392.5,1117.6 393.0,1117.9 393.5,1118.2 394.0,1118.5 394.5,1118.6 395.0,1118.7 395.5,1118.8 396.0,1118.7 396.5,1118.4 397.0,1118.0 397.6,1117.5 398.1,1116.8 398.6,1116.0 399.1,1115.2 399.6,1114.4 400.1,1113.5 400.7,1112.7 401.2,1111.9 401.7,1111.3 402.2,1110.7 402.7,1110.3 403.2,1110.1 403.8,1110.0 404.2,1110.0 404.8,1110.2 405.2,1110.4 405.8,1110.7 406.2,1111.1 406.8,1111.6 407.2,1112.1 407.8,1112.8 408.2,1113.5 408.8,1114.2 409.2,1115.1 409.8,1115.9 410.2,1116.8 410.8,1117.8 411.2,1118.7 411.8,1119.7 412.2,1120.7 412.8,1121.8 413.2,1122.8 413.8,1123.8 414.2,1124.7 414.8,1125.7 415.2,1126.6 415.8,1127.4 416.2,1128.3 416.8,1129.0 417.2,1129.7 417.8,1130.4 418.2,1130.9 418.8,1131.4 419.2,1131.8 419.8,1132.1 420.2,1132.3 420.8,1132.5 421.2,1132.5 421.8,1132.5 422.3,1132.3 422.8,1132.1 423.3,1131.8 423.8,1131.4 424.3,1130.9 424.8,1130.3 425.3,1129.7 425.8,1129.1 426.3,1128.3 426.9,1127.6 427.4,1126.8 427.9,1126.0 428.4,1125.2 428.9,1124.4 429.4,1123.7 429.9,1122.9 430.4,1122.2 430.9,1121.5 431.4,1120.9 431.9,1120.4 432.5,1119.9 433.0,1119.5 433.5,1119.2 434.0,1118.9 434.5,1118.8 435.0,1118.8 435.5,1118.8 436.0,1118.9 436.5,1119.1 437.0,1119.4 437.5,1119.8 438.0,1120.2 438.5,1120.8 439.0,1121.4 439.5,1122.0 440.0,1122.7 440.5,1123.5 441.0,1124.3 441.5,1125.1 442.0,1126.0 442.5,1126.9 443.0,1127.8 443.5,1128.8 444.0,1129.7 444.5,1130.6 445.0,1131.5 445.5,1132.4 446.0,1133.2 446.5,1134.0 447.0,1134.8 447.5,1135.5 448.0,1136.1 448.5,1136.7 449.0,1137.3 449.5,1137.7 450.0,1138.1 450.5,1138.4 451.0,1138.6 451.5,1138.7 452.0,1138.8 452.5,1138.7 453.0,1138.5 453.5,1138.2 454.0,1137.7 454.5,1137.2 455.1,1136.5 455.6,1135.7 456.1,1134.8 456.6,1133.9 457.1,1132.9 457.6,1131.8 458.1,1130.7 458.6,1129.5 459.1,1128.4 459.6,1127.2 460.1,1126.1 460.7,1124.9 461.2,1123.9 461.7,1122.9 462.2,1121.9 462.7,1121.0 463.2,1120.3 463.7,1119.6 464.2,1119.0 464.7,1118.6 465.2,1118.3 465.7,1118.1 466.2,1118.0 466.8,1118.0 467.3,1118.2 467.8,1118.4 468.3,1118.7 468.8,1119.1 469.3,1119.6 469.8,1120.1 470.3,1120.7 470.8,1121.4 471.3,1122.1 471.8,1122.9 472.3,1123.7 472.9,1124.6 473.4,1125.4 473.9,1126.3 474.4,1127.2 474.9,1128.2 475.4,1129.1 475.9,1129.9 476.4,1130.8 476.9,1131.6 477.4,1132.4 477.9,1133.1 478.4,1133.8 478.9,1134.4 479.5,1134.9 480.0,1135.4 480.5,1135.8 481.0,1136.1 481.5,1136.3 482.0,1136.5 482.5,1136.5 483.0,1136.4 483.5,1136.2 484.0,1135.7 484.5,1135.2 485.0,1134.4 485.5,1133.6 486.0,1132.6 486.5,1131.5 487.0,1130.3 487.5,1129.1 488.0,1127.8 488.5,1126.4 489.0,1125.1 489.5,1123.7 490.0,1122.4 490.5,1121.2 491.0,1120.0 491.5,1118.9 492.0,1117.9 492.5,1117.1 493.0,1116.3 493.5,1115.8 494.0,1115.3 494.5,1115.1 495.0,1115.0 495.5,1115.0 496.0,1115.2 496.5,1115.4 497.0,1115.8 497.5,1116.2 498.0,1116.7 498.5,1117.3 499.0,1117.9 499.5,1118.7 500.0,1119.4 500.5,1120.3 501.0,1121.2 501.5,1122.1 502.0,1123.0 502.5,1124.0 503.0,1125.0 503.5,1126.0 504.0,1127.0 504.5,1127.9 505.0,1128.8 505.5,1129.7 506.0,1130.6 506.5,1131.3 507.0,1132.1 507.5,1132.7 508.0,1133.3 508.5,1133.8 509.0,1134.2 509.5,1134.6 510.0,1134.8 510.5,1135.0 511.0,1135.0 511.5,1134.9 512.0,1134.7 512.5,1134.4 513.0,1133.9 513.5,1133.2 514.0,1132.5 514.5,1131.6 515.0,1130.7 515.5,1129.6 516.0,1128.5 516.5,1127.4 517.0,1126.2 517.5,1125.0 518.0,1123.8 518.5,1122.6 519.0,1121.5 519.5,1120.4 520.0,1119.3 520.5,1118.4 521.0,1117.5 521.5,1116.8 522.0,1116.1 522.5,1115.6 523.0,1115.3 523.5,1115.1 524.0,1115.0 524.5,1115.1 525.0,1115.3 525.5,1115.6 526.0,1116.0 526.5,1116.6 527.0,1117.2 527.5,1118.0 528.0,1118.9 528.5,1119.8 529.0,1120.9 529.5,1122.0 530.0,1123.1 530.5,1124.3 531.0,1125.5 531.5,1126.8 532.0,1128.0 532.5,1129.2 533.0,1130.4 533.5,1131.5 534.0,1132.6 534.5,1133.7 535.0,1134.6 535.5,1135.5 536.0,1136.3 536.5,1136.9 537.0,1137.5 537.5,1137.9 538.0,1138.2 538.5,1138.4 539.0,1138.5 539.5,1138.4 540.0,1138.3 540.5,1138.0 541.0,1137.6 541.5,1137.1 542.0,1136.4 542.5,1135.7 543.0,1134.9 543.5,1134.1 544.0,1133.1 544.5,1132.1 545.0,1131.1 545.5,1130.0 546.0,1128.9 546.5,1127.8 547.0,1126.6 547.5,1125.5 548.0,1124.4 548.5,1123.4 549.0,1122.4 549.5,1121.4 550.0,1120.6 550.5,1119.8 551.0,1119.1 551.5,1118.4 552.0,1117.9 552.5,1117.5 553.0,1117.2 553.5,1117.1 554.0,1117.0 554.5,1117.1 555.0,1117.3 555.5,1117.6 556.0,1118.1 556.5,1118.7 557.0,1119.4 557.5,1120.3 558.0,1121.2 558.5,1122.3 559.0,1123.4 559.5,1124.6 560.0,1125.8 560.5,1127.1 561.0,1128.4 561.5,1129.6 562.0,1130.9 562.5,1132.2 563.0,1133.4 563.5,1134.6 564.0,1135.7 564.5,1136.8 565.0,1137.7 565.5,1138.6 566.0,1139.3 566.5,1139.9 567.0,1140.4 567.5,1140.7 568.0,1140.9 568.5,1141.0 569.0,1140.9 569.5,1140.7 570.0,1140.4 570.5,1140.0 571.0,1139.4 571.5,1138.8 572.0,1138.0 572.5,1137.1 573.0,1136.2 573.5,1135.1 574.0,1134.0 574.5,1132.9 575.0,1131.7 575.5,1130.5 576.0,1129.2 576.5,1128.0 577.0,1126.8 577.5,1125.6 578.0,1124.5 578.5,1123.4 579.0,1122.3 579.5,1121.4 580.0,1120.5 580.5,1119.7 581.0,1119.1 581.5,1118.5 582.0,1118.1 582.5,1117.8 583.0,1117.6 583.5,1117.5 584.0,1117.6 584.5,1117.7 585.0,1118.0 585.5,1118.5 586.0,1119.0 586.5,1119.6 587.0,1120.3 587.5,1121.2 588.0,1122.1 588.5,1123.0 589.0,1124.1 589.5,1125.2 590.0,1126.3 590.5,1127.5 591.0,1128.7 591.5,1129.8 592.0,1131.0 592.5,1132.2 593.0,1133.3 593.5,1134.4 594.0,1135.5 594.5,1136.4 595.0,1137.3 595.5,1138.2 596.0,1138.9 596.5,1139.5 597.0,1140.0 597.5,1140.5 598.0,1140.8 598.5,1140.9 599.0,1141.0 599.5,1140.9 600.0,1140.7 600.5,1140.3 601.0,1139.7 601.5,1139.0 602.0,1138.2 602.5,1137.2 603.0,1136.2 603.5,1135.0 604.0,1133.8 604.5,1132.4 605.0,1131.1 605.5,1129.7 606.0,1128.3 606.5,1126.9 607.0,1125.6 607.5,1124.2 608.0,1123.0 608.5,1121.8 609.0,1120.8 609.5,1119.8 610.0,1119.0 610.5,1118.3 611.0,1117.7 611.5,1117.3 612.0,1117.1 612.5,1117.0 613.0,1117.1 613.5,1117.2 614.0,1117.5 614.5,1117.9 615.0,1118.4 615.5,1118.9 616.0,1119.6 616.5,1120.4 617.0,1121.2 617.5,1122.1 618.0,1123.1 618.5,1124.1 619.0,1125.2 619.5,1126.3 620.0,1127.4 620.5,1128.5 621.0,1129.6 621.5,1130.7 622.0,1131.8 622.5,1132.9 623.0,1133.9 623.5,1134.9 624.0,1135.8 624.5,1136.6 625.0,1137.4 625.5,1138.1 626.0,1138.6 626.5,1139.1 627.0,1139.5 627.5,1139.8 628.0,1139.9 628.5,1140.0 629.0,1139.9 629.5,1139.7 630.0,1139.3 630.5,1138.8 631.0,1138.1 631.5,1137.3 632.0,1136.3 632.5,1135.3 633.0,1134.1 633.5,1132.9 634.0,1131.6 634.5,1130.3 635.0,1128.9 635.5,1127.6 636.0,1126.2 636.5,1124.9 637.0,1123.6 637.5,1122.4 638.0,1121.2 638.5,1120.2 639.0,1119.2 639.5,1118.4 640.0,1117.7 640.5,1117.2 641.0,1116.8 641.5,1116.6 642.0,1116.5 642.5,1116.6 643.0,1116.7 643.5,1117.0 644.0,1117.4 644.5,1117.9 645.0,1118.5 645.5,1119.2 646.0,1119.9 646.5,1120.8 647.0,1121.7 647.5,1122.7 648.0,1123.8 648.5,1124.8 649.0,1126.0 649.5,1127.1 650.0,1128.2 650.5,1129.4 651.0,1130.5 651.5,1131.7 652.0,1132.7 652.5,1133.8 653.0,1134.8 653.5,1135.7 654.0,1136.6 654.5,1137.3 655.0,1138.0 655.5,1138.6 656.0,1139.1 656.5,1139.5 657.0,1139.8 657.5,1139.9 658.0,1140.0 658.5,1139.9 659.0,1139.7 659.5,1139.3 660.0,1138.8 660.5,1138.1 661.0,1137.3 661.5,1136.3 662.0,1135.3 662.5,1134.1 663.0,1132.9 663.5,1131.6 664.0,1130.3 664.5,1128.9 665.0,1127.6 665.5,1126.2 666.0,1124.9 666.5,1123.6 667.0,1122.4 667.5,1121.2 668.0,1120.2 668.5,1119.2 669.0,1118.4 669.5,1117.7 670.0,1117.2 670.5,1116.8 671.0,1116.6 671.5,1116.5 672.0,1116.6 672.5,1116.7 673.0,1117.0 673.5,1117.4 674.0,1117.9 674.5,1118.5 675.0,1119.2 675.5,1119.9 676.0,1120.8 676.5,1121.7 677.0,1122.7 677.5,1123.8 678.0,1124.8 678.5,1126.0 679.0,1127.1 679.5,1128.2 680.0,1129.4 680.5,1130.5 681.0,1131.7 681.5,1132.7 682.0,1133.8 682.5,1134.8 683.0,1135.7 683.5,1136.6 684.0,1137.3 684.5,1138.0 685.0,1138.6 685.5,1139.1 686.0,1139.5 686.5,1139.8 687.0,1139.9 687.5,1140.0 688.0,1139.9 688.5,1139.7 689.0,1139.3 689.5,1138.8 690.0,1138.1 690.5,1137.3 691.0,1136.3 691.5,1135.3 692.0,1134.1 692.5,1132.9 693.0,1131.6 693.5,1130.3 694.0,1128.9 694.5,1127.6 695.0,1126.2 695.5,1124.9 696.0,1123.6 696.5,1122.4 697.0,1121.2 697.5,1120.2 698.0,1119.2 698.5,1118.4 699.0,1117.7 699.5,1117.2 700.0,1116.8 700.5,1116.6 701.0,1116.5 701.5,1116.6 702.0,1116.7 702.5,1117.0 703.0,1117.4 703.5,1117.9 704.0,1118.5 704.5,1119.2 705.0,1119.9 705.5,1120.8 706.0,1121.7 706.5,1122.7 707.0,1123.8 707.5,1124.8 708.0,1126.0 708.5,1127.1 709.0,1128.2 709.5,1129.4 710.0,1130.5 710.5,1131.7 711.0,1132.7 711.5,1133.8 712.0,1134.8 712.5,1135.7 713.0,1136.6 713.5,1137.3 714.0,1138.0 714.5,1138.6 715.0,1139.1 715.5,1139.5 716.0,1139.8 716.5,1139.9 717.0,1140.0 717.5,1139.9 718.0,1139.7 718.5,1139.3 719.0,1138.8 719.5,1138.1 720.0,1137.3 720.5,1136.3 721.0,1135.3 721.5,1134.1 722.0,1132.9 722.5,1131.6 723.0,1130.3 723.5,1128.9 724.0,1127.6 724.5,1126.2 725.0,1124.9 725.5,1123.6 726.0,1122.4 726.5,1121.2 727.0,1120.2 727.5,1119.2 728.0,1118.4 728.5,1117.7 729.0,1117.2 729.5,1116.8 730.0,1116.6 730.5,1116.5 731.0,1116.6 731.5,1116.7 732.0,1117.0 732.5,1117.4 733.0,1117.9 733.5,1118.5 734.0,1119.2 734.5,1119.9 735.0,1120.8 735.5,1121.7 736.0,1122.7 736.5,1123.8 737.0,1124.8 737.5,1126.0 738.0,1127.1 738.5,1128.2 739.0,1129.4 739.5,1130.5 740.0,1131.7 740.5,1132.7 741.0,1133.8 741.5,1134.8 742.0,1135.7 742.5,1136.6 743.0,1137.3 743.5,1138.0 744.0,1138.6 744.5,1139.1 745.0,1139.5 745.5,1139.8 746.0,1139.9 746.5,1140.0 747.0,1139.9 747.5,1139.7 748.0,1139.3 748.5,1138.8 749.0,1138.1 749.5,1137.3 750.0,1136.3 750.5,1135.3 751.0,1134.1 751.5,1132.9 752.0,1131.6 752.5,1130.3 753.0,1128.9 753.5,1127.6 754.0,1126.2 754.5,1124.9 755.0,1123.6 755.5,1122.4 756.0,1121.2 756.5,1120.2 757.0,1119.2 757.5,1118.4 758.0,1117.7 758.5,1117.2 759.0,1116.8 759.5,1116.6 760.0,1116.5 760.5,1116.6 761.0,1116.7 761.5,1117.0 762.0,1117.4 762.5,1117.9 763.0,1118.5 763.5,1119.2 764.0,1119.9 764.5,1120.8 765.0,1121.7 765.5,1122.7 766.0,1123.8 766.5,1124.8 767.0,1126.0 767.5,1127.1 768.0,1128.2 768.5,1129.4 769.0,1130.5 769.5,1131.7 770.0,1132.7 770.5,1133.8 771.0,1134.8 771.5,1135.7 772.0,1136.6 772.5,1137.3 773.0,1138.0 773.5,1138.6 774.0,1139.1 774.5,1139.5 775.0,1139.8 775.5,1139.9 776.0,1140.0 776.5,1139.9 777.0,1139.7 777.5,1139.3 778.0,1138.8 778.5,1138.1 779.0,1137.3 779.5,1136.3 780.0,1135.3 780.5,1134.1 781.0,1132.9 781.5,1131.6 782.0,1130.3 782.5,1128.9 783.0,1127.6 783.5,1126.2 784.0,1124.9 784.5,1123.6 785.0,1122.4 785.5,1121.2 786.0,1120.2 786.5,1119.2 787.0,1118.4 787.5,1117.7 788.0,1117.2 788.5,1116.8 789.0,1116.6 789.5,1116.5 790.0,1116.6 790.5,1116.7 791.0,1117.0 791.5,1117.4 792.0,1117.9 792.5,1118.5 793.0,1119.2 793.5,1119.9 794.0,1120.8 794.5,1121.7 795.0,1122.7 795.5,1123.8 796.0,1124.8 796.5,1126.0 797.0,1127.1 797.5,1128.2 798.0,1129.4 798.5,1130.5 799.0,1131.7 799.5,1132.7 800.0,1133.8 800.5,1134.8 801.0,1135.7 801.5,1136.6 802.0,1137.3 802.5,1138.0 803.0,1138.6 803.5,1139.1 804.0,1139.5 804.5,1139.8 805.0,1139.9 805.5,1140.0 806.0,1139.9 806.5,1139.7 807.0,1139.3 807.5,1138.8 808.0,1138.1 808.5,1137.3 809.0,1136.3 809.5,1135.3 810.0,1134.1 810.5,1132.9 811.0,1131.6 811.5,1130.3 812.0,1128.9 812.5,1127.6 813.0,1126.2 813.5,1124.9 814.0,1123.6 814.5,1122.4 815.0,1121.2 815.5,1120.2 816.0,1119.2 816.5,1118.4 817.0,1117.7 817.5,1117.2 818.0,1116.8 818.5,1116.6 819.0,1116.5 819.5,1116.6 820.0,1116.7 820.5,1117.0 821.0,1117.4 821.5,1117.9 822.0,1118.5 822.5,1119.2 823.0,1119.9 823.5,1120.8 824.0,1121.7 824.5,1122.7 825.0,1123.8 825.5,1124.8 826.0,1126.0 826.5,1127.1 827.0,1128.2 827.5,1129.4 828.0,1130.5 828.5,1131.7 829.0,1132.7 829.5,1133.8 830.0,1134.8 830.5,1135.7 831.0,1136.6 831.5,1137.3 832.0,1138.0 832.5,1138.6 833.0,1139.1 833.5,1139.5 834.0,1139.8 834.5,1139.9 835.0,1140.0 835.5,1139.9 836.0,1139.7 836.5,1139.3 837.0,1138.8 837.5,1138.1 838.0,1137.3 838.5,1136.3 839.0,1135.3 839.5,1134.1 840.0,1132.9 840.5,1131.6 841.0,1130.3 841.5,1128.9 842.0,1127.6 842.5,1126.2 843.0,1124.9 843.5,1123.6 844.0,1122.4 844.5,1121.2 845.0,1120.2 845.5,1119.2 846.0,1118.4 846.5,1117.7 847.0,1117.2 847.5,1116.8 848.0,1116.6 848.5,1116.5 849.0,1116.6 849.5,1116.7 850.0,1117.0 850.5,1117.4 851.0,1117.9 851.5,1118.5 852.0,1119.2 852.5,1119.9 853.0,1120.8 853.5,1121.7 854.0,1122.7 854.5,1123.8 855.0,1124.8 855.5,1126.0 856.0,1127.1 856.5,1128.2 857.0,1129.4 857.5,1130.5 858.0,1131.7 858.5,1132.7 859.0,1133.8 859.5,1134.8 860.0,1135.7 860.5,1136.6 861.0,1137.3 861.5,1138.0 862.0,1138.6 862.5,1139.1 863.0,1139.5 863.5,1139.8 864.0,1139.9 864.5,1140.0 865.0,1139.9 865.5,1139.7 866.0,1139.3 866.5,1138.8 867.0,1138.1 867.5,1137.3 868.0,1136.3 868.5,1135.3 869.0,1134.1 869.5,1132.9 870.0,1131.6 870.5,1130.3 871.0,1128.9 871.5,1127.6 872.0,1126.2 872.5,1124.9 873.0,1123.6 873.5,1122.4 874.0,1121.2 874.5,1120.2 875.0,1119.2 875.5,1118.4 876.0,1117.7 876.5,1117.2 877.0,1116.8 877.5,1116.6 878.0,1116.5 878.5,1116.6 879.0,1116.7 879.5,1117.0 880.0,1117.4 880.5,1117.9 881.0,1118.5 881.5,1119.2 882.0,1119.9 882.5,1120.8 883.0,1121.7 883.5,1122.7 884.0,1123.8 884.5,1124.8 885.0,1126.0 885.5,1127.1 886.0,1128.2 886.5,1129.4 887.0,1130.5 887.5,1131.7 888.0,1132.7 888.5,1133.8 889.0,1134.8 889.5,1135.7 890.0,1136.6 890.5,1137.3 891.0,1138.0 891.5,1138.6 892.0,1139.1 892.5,1139.5 893.0,1139.8 893.5,1139.9 894.0,1140.0 894.5,1139.9 895.0,1139.7 895.5,1139.3 896.0,1138.8 896.5,1138.1 897.0,1137.3 897.5,1136.3 898.0,1135.3 898.5,1134.1 899.0,1132.9 899.5,1131.6 900.0,1130.3 900.5,1128.9 901.0,1127.6 901.5,1126.2 902.0,1124.9 902.5,1123.6 903.0,1122.4 903.5,1121.2 904.0,1120.2 904.5,1119.2 905.0,1118.4 905.5,1117.7 906.0,1117.2 906.5,1116.8 907.0,1116.6 907.5,1116.5 908.0,1116.6 908.5,1116.7 909.0,1117.0 909.5,1117.4 910.0,1117.9 910.5,1118.5 911.0,1119.2 911.5,1119.9 912.0,1120.8 912.5,1121.7 913.0,1122.7 913.5,1123.8 914.0,1124.8 914.5,1126.0 915.0,1127.1 915.5,1128.2 916.0,1129.4 916.5,1130.5 917.0,1131.7 917.5,1132.7 918.0,1133.8 918.5,1134.8 919.0,1135.7 919.5,1136.6 920.0,1137.3 920.5,1138.0 921.0,1138.6 921.5,1139.1 922.0,1139.5 922.5,1139.8 923.0,1139.9 923.5,1140.0 924.0,1139.9 924.5,1139.7 925.0,1139.3 925.5,1138.8 926.0,1138.1 926.5,1137.3 927.0,1136.3 927.5,1135.3 928.0,1134.1 928.5,1132.9 929.0,1131.6 929.5,1130.3 930.0,1128.9 930.5,1127.6 931.0,1126.2 931.5,1124.9 932.0,1123.6 932.5,1122.4 933.0,1121.2 933.5,1120.2 934.0,1119.2 934.5,1118.4 935.0,1117.7 935.5,1117.2 936.0,1116.8 936.5,1116.6 937.0,1116.5 937.5,1116.6 938.0,1116.7 938.5,1117.0 939.0,1117.4 939.5,1117.9 940.0,1118.5 940.5,1119.2 941.0,1119.9 941.5,1120.8 942.0,1121.7 942.5,1122.7 943.0,1123.8 943.5,1124.8 944.0,1126.0 944.5,1127.1 945.0,1128.2 945.5,1129.4 946.0,1130.5 946.5,1131.7 947.0,1132.7 947.5,1133.8 948.0,1134.8 948.5,1135.7 949.0,1136.6 949.5,1137.3 950.0,1138.0 950.5,1138.6 951.0,1139.1 951.5,1139.5 952.0,1139.8 952.5,1139.9 953.0,1140.0 953.5,1139.9 954.0,1139.7 954.5,1139.3 955.0,1138.8 955.5,1138.1 956.0,1137.3 956.5,1136.3 957.0,1135.3 957.5,1134.1 958.0,1132.9 958.5,1131.6 959.0,1130.3 959.5,1128.9 960.0,1127.6 960.5,1126.2 961.0,1124.9 961.5,1123.6 962.0,1122.4 962.5,1121.2 963.0,1120.2 963.5,1119.2 964.0,1118.4 964.5,1117.7 965.0,1117.2 965.5,1116.8 966.0,1116.6 966.5,1116.5 967.0,1116.6 967.5,1116.7 968.0,1117.0 968.5,1117.4 969.0,1117.9 969.5,1118.5 970.0,1119.2 970.5,1119.9 971.0,1120.8 971.5,1121.7 972.0,1122.7 972.5,1123.8 973.0,1124.8 973.5,1126.0 974.0,1127.1 974.5,1128.2 975.0,1129.4 975.5,1130.5 976.0,1131.7 976.5,1132.7 977.0,1133.8 977.5,1134.8 978.0,1135.7 978.5,1136.6 979.0,1137.3 979.5,1138.0 980.0,1138.6 980.5,1139.1 981.0,1139.5 981.5,1139.8 982.0,1139.9 982.5,1140.0 983.0,1139.9 983.5,1139.7 984.0,1139.3 984.5,1138.8 985.0,1138.1 985.5,1137.3 986.0,1136.3 986.5,1135.3 987.0,1134.1 987.5,1132.9 988.0,1131.6 988.5,1130.3 989.0,1128.9 989.5,1127.6 990.0,1126.2 990.5,1124.9 991.0,1123.6 991.5,1122.4 992.0,1121.2 992.5,1120.2 993.0,1119.2 993.5,1118.4 994.0,1117.7 994.5,1117.2 995.0,1116.8 995.5,1116.6 996.0,1116.5 996.5,1116.6 997.0,1116.7 997.5,1117.0 998.0,1117.4 998.5,1117.9 999.0,1118.5 999.5,1119.2 1000.0,1119.9 1000.5,1120.8 1001.0,1121.7 1001.5,1122.7 1002.0,1123.8 1002.5,1124.8 1003.0,1126.0 1003.5,1127.1 1004.0,1128.2 1004.5,1129.4 1005.0,1130.5 1005.5,1131.7 1006.0,1132.7 1006.5,1133.8 1007.0,1134.8 1007.5,1135.7 1008.0,1136.6 1008.5,1137.3 1009.0,1138.0 1009.5,1138.6 1010.0,1139.1 1010.5,1139.5 1011.0,1139.8 1011.5,1139.9 1012.0,1140.0 1012.5,1139.9 1013.0,1139.7 1013.5,1139.3 1014.0,1138.8 1014.5,1138.1 1015.0,1137.3 1015.5,1136.3 1016.0,1135.3" fill="none" stroke="#ff0000" stroke-width="2.5" stroke-linejoin="round"/>
</g>
<rect x="426" y="928" width="2" height="18" fill="#000"/>
<rect x="426" y="1520" width="2" height="18" fill="#000"/>
<rect x="544" y="928" width="2" height="18" fill="#000"/>
<rect x="544" y="1520" width="2" height="18" fill="#000"/>
<rect x="662" y="928" width="2" height="18" fill="#000"/>
<rect x="662" y="1520" width="2" height="18" fill="#000"/>
<rect x="780" y="928" width="2" height="18" fill="#000"/>
<rect x="780" y="1520" width="2" height="18" fill="#000"/>
<rect x="898" y="928" width="2" height="18" fill="#000"/>
<rect x="898" y="1520" width="2" height="18" fill="#000"/>
<rect x="309" y="1520" width="1" height="18" fill="#000"/>
<rect x="192" y="1027" width="8" height="1" fill="#000"/>
<rect x="1008" y="1027" width="8" height="1" fill="#000"/>
<rect x="192" y="1228" width="8" height="1" fill="#000"/>
<rect x="1008" y="1228" width="8" height="1" fill="#000"/>
<rect x="192" y="1329" width="8" height="1" fill="#000"/>
<rect x="1008" y="1329" width="8" height="1" fill="#000"/>
<rect x="192" y="1430" width="8" height="1" fill="#000"/>
<rect x="1008" y="1430" width="8" height="1" fill="#000"/>
<rect x="192" y="1530" width="8" height="1" fill="#000"/>
<rect x="1008" y="1530" width="8" height="1" fill="#000"/>
<rect x="190" y="925" width="2" height="614" fill="#000"/>
<rect x="190" y="925" width="828" height="3" fill="#000"/>
<rect x="1016" y="925" width="2" height="614" fill="#000"/>
<rect x="190" y="1538" width="828" height="1" fill="#000"/>
<polygon points="302.2,926.0 316.8,926.0 309.5,946.4" fill="#ff0000"/>
<line x1="473.8" y1="1211.8" x2="328.4" y2="1137.5" stroke="#000" stroke-width="4.5"/>
<polygon points="310.6,1128.4 333.5,1132.0 326.9,1144.8" fill="#000"/>
<text transform="translate(109.49,944.42) scale(1.1020,1)" font-size="47.80" fill="#000">600</text>
<text transform="translate(109.96,1045.52) scale(1.0953,1)" font-size="47.80" fill="#000">500</text>
<text transform="translate(110.26,1146.32) scale(1.0911,1)" font-size="47.80" fill="#000">400</text>
<text transform="translate(109.94,1247.02) scale(1.0956,1)" font-size="47.80" fill="#000">300</text>
<text transform="translate(108.91,1347.82) scale(1.1103,1)" font-size="47.80" fill="#000">200</text>
<text transform="translate(111.49,1447.82) scale(1.0620,1)" font-size="47.80" fill="#000">100</text>
<text transform="translate(160.05,1548.12) scale(1.1257,1)" font-size="47.80" fill="#000">0</text>
<text transform="translate(159.13,1602.28) scale(1.1086,1)" font-size="47.80" fill="#000">0.9</text>
<text transform="translate(280.66,1602.28) scale(1.0693,1)" font-size="47.80" fill="#000">1.0</text>
<text transform="translate(399.27,1602.28) scale(0.9798,1)" font-size="47.80" fill="#000">1.1</text>
<text transform="translate(518.13,1602.28) scale(1.0762,1)" font-size="47.80" fill="#000">1.2</text>
<text transform="translate(633.90,1602.28) scale(1.0098,1)" font-size="47.80" fill="#000">1.3</text>
<text transform="translate(751.81,1602.28) scale(1.0315,1)" font-size="47.80" fill="#000">1.4</text>
<text transform="translate(871.70,1602.28) scale(1.0339,1)" font-size="47.80" fill="#000">1.5</text>
<text transform="translate(983.19,1599.48) scale(1.0598,1)" font-size="47.80" fill="#000">1.6</text>
<text transform="translate(92.77,1466.16) rotate(-90) scale(0.8759,1)" font-size="61.54" fill="#000">Capacitive voltage(V)</text>
<text transform="translate(473.45,1239.25) scale(1.0797,1)" font-size="48.00" fill="#000">Power grid SSO</text>
<text transform="translate(562.68,1297.00) scale(1.0853,1)" font-size="48.00" fill="#000">appears</text>
<text transform="translate(553.20,1647.59) scale(1.1144,1)" font-size="65.16" fill="#222"><tspan font-style="italic" font-weight="bold" font-size="59.95">t</tspan>(<tspan font-weight="bold" font-size="59.95">s</tspan>)</text>
</g>
<g id="plot-d">
<rect x="1384" y="1026" width="593" height="2" fill="#a6a6a6"/>
<line x1="1284" y1="1127.5" x2="1470" y2="1127.5" stroke="#a0a0a0" stroke-width="1" stroke-dasharray="1 1"/>
<rect x="1470" y="1127" width="516" height="2" fill="#a6a6a6"/>
<rect x="1160" y="1228" width="224" height="1" fill="#a6a6a6"/>
<line x1="1385" y1="1228.5" x2="1986" y2="1228.5" stroke="#a0a0a0" stroke-width="1" stroke-dasharray="1 1 1 1 1 3"/>
<rect x="1160" y="1328" width="224" height="2" fill="#a6a6a6"/>
<rect x="1160" y="1429" width="224" height="2" fill="#a6a6a6"/>
<rect x="1384" y="1429" width="602" height="1" fill="#a6a6a6"/>
<line x1="1384" y1="1430.5" x2="1986" y2="1430.5" stroke="#a6a6a6" stroke-width="1" stroke-dasharray="3 1"/>
<rect x="1160" y="1530" width="224" height="2" fill="#a6a6a6"/>
<line x1="1278.5" y1="926" x2="1278.5" y2="1535" stroke="#a0a0a0" stroke-width="1" stroke-dasharray="1 3"/>
<rect x="1396" y="926" width="1" height="609" fill="#a6a6a6"/>
<line x1="1514.5" y1="926" x2="1514.5" y2="1535" stroke="#a0a0a0" stroke-width="1" stroke-dasharray="1 3"/>
<rect x="1632" y="926" width="1" height="609" fill="#a6a6a6"/>
<line x1="1750.5" y1="926" x2="1750.5" y2="1535" stroke="#a0a0a0" stroke-width="1" stroke-dasharray="1 3"/>
<rect x="1868" y="926" width="1" height="609" fill="#a6a6a6"/>
<g shape-rendering="crispEdges">
<rect x="1160" y="1127" width="122" height="2" fill="#ff0000"/>
<polyline points="1281.5,1127.5 1282.0,1127.5 1282.5,1127.4 1283.0,1127.2 1283.5,1127.0 1284.0,1126.8 1284.5,1126.5 1285.0,1126.1 1285.5,1125.7 1286.0,1125.3 1286.5,1124.9 1287.0,1124.5 1287.5,1124.1 1288.0,1123.7 1288.5,1123.3 1289.0,1122.9 1289.5,1122.5 1290.0,1122.2 1290.5,1122.0 1291.0,1121.8 1291.5,1121.6 1292.0,1121.5 1292.5,1121.5 1293.0,1121.5 1293.5,1121.7 1294.0,1121.8 1294.5,1122.1 1295.0,1122.4 1295.5,1122.8 1296.0,1123.3 1296.5,1123.8 1297.0,1124.3 1297.5,1124.9 1298.0,1125.5 1298.5,1126.2 1299.0,1126.8 1299.5,1127.5 1300.0,1128.2 1300.5,1128.8 1301.0,1129.5 1301.5,1130.1 1302.0,1130.7 1302.5,1131.2 1303.0,1131.7 1303.5,1132.2 1304.0,1132.6 1304.5,1132.9 1305.0,1133.2 1305.5,1133.3 1306.0,1133.5 1306.5,1133.5 1307.0,1133.4 1307.5,1133.2 1308.0,1132.8 1308.5,1132.3 1309.0,1131.7 1309.5,1130.9 1310.0,1130.0 1310.5,1129.0 1311.0,1127.8 1311.5,1126.6 1312.0,1125.3 1312.5,1124.0 1313.0,1122.6 1313.5,1121.2 1314.0,1119.8 1314.5,1118.3 1315.0,1116.9 1315.5,1115.5 1316.0,1114.2 1316.5,1112.9 1317.0,1111.7 1317.5,1110.5 1318.0,1109.5 1318.5,1108.6 1319.0,1107.8 1319.5,1107.2 1320.0,1106.7 1320.5,1106.3 1321.0,1106.1 1321.5,1106.0 1322.0,1106.0 1322.5,1106.1 1323.0,1106.2 1323.5,1106.4 1324.0,1106.6 1324.5,1106.8 1325.0,1107.1 1325.5,1107.5 1326.0,1107.8 1326.5,1108.2 1327.0,1108.6 1327.5,1109.1 1328.0,1109.5 1328.5,1110.0 1329.0,1110.5 1329.5,1111.0 1330.0,1111.5 1330.5,1112.0 1331.0,1112.5 1331.5,1112.9 1332.0,1113.4 1332.5,1113.8 1333.0,1114.2 1333.5,1114.5 1334.0,1114.9 1334.5,1115.2 1335.0,1115.4 1335.5,1115.6 1336.0,1115.8 1336.5,1115.9 1337.0,1116.0 1337.5,1116.0 1338.0,1115.9 1338.5,1115.8 1339.0,1115.5 1339.5,1115.1 1340.0,1114.6 1340.5,1114.0 1341.0,1113.4 1341.5,1112.6 1342.0,1111.8 1342.5,1111.0 1343.0,1110.2 1343.5,1109.3 1344.0,1108.5 1344.5,1107.7 1345.0,1106.9 1345.5,1106.1 1346.0,1105.5 1346.5,1104.9 1347.0,1104.4 1347.5,1104.0 1348.0,1103.7 1348.5,1103.6 1349.0,1103.5 1349.5,1103.5 1350.0,1103.6 1350.5,1103.8 1351.0,1104.1 1351.5,1104.4 1352.0,1104.8 1352.5,1105.3 1353.0,1105.8 1353.5,1106.3 1354.0,1106.9 1354.5,1107.6 1355.0,1108.3 1355.5,1109.0 1356.0,1109.7 1356.5,1110.5 1357.0,1111.2 1357.5,1112.0 1358.0,1112.8 1358.5,1113.5 1359.0,1114.2 1359.5,1114.9 1360.0,1115.6 1360.5,1116.2 1361.0,1116.7 1361.5,1117.2 1362.0,1117.7 1362.5,1118.1 1363.0,1118.4 1363.5,1118.7 1364.0,1118.9 1364.5,1119.0 1365.0,1119.0 1365.5,1118.9 1366.0,1118.7 1366.5,1118.2 1367.0,1117.7 1367.5,1117.0 1368.0,1116.2 1368.5,1115.4 1369.0,1114.5 1369.5,1113.6 1370.0,1112.8 1370.5,1112.0 1371.0,1111.3 1371.5,1110.8 1372.0,1110.3 1372.5,1110.1 1373.0,1110.0 1373.5,1110.1 1374.0,1110.2 1374.5,1110.5 1375.0,1110.9 1375.5,1111.3 1376.0,1111.9 1376.5,1112.6 1377.0,1113.3 1377.5,1114.1 1378.0,1115.0 1378.5,1115.9 1379.0,1116.9 1379.5,1118.0 1380.0,1119.1 1380.5,1120.1 1381.0,1121.2 1381.5,1122.4 1382.0,1123.4 1382.5,1124.5 1383.0,1125.6 1383.5,1126.6 1384.0,1127.5 1384.5,1128.4 1385.0,1129.2 1385.5,1129.9 1386.0,1130.6 1386.5,1131.2 1387.0,1131.6 1387.5,1132.0 1388.0,1132.3 1388.5,1132.4 1389.0,1132.5 1389.5,1132.5 1390.0,1132.4 1390.5,1132.2 1391.0,1131.9 1391.5,1131.6 1392.0,1131.2 1392.5,1130.8 1393.0,1130.3 1393.5,1129.7 1394.0,1129.1 1394.5,1128.5 1395.0,1127.8 1395.5,1127.2 1396.0,1126.5 1396.5,1125.8 1397.0,1125.0 1397.5,1124.3 1398.0,1123.7 1398.5,1123.0 1399.0,1122.4 1399.5,1121.8 1400.0,1121.2 1400.5,1120.7 1401.0,1120.3 1401.5,1119.9 1402.0,1119.6 1402.5,1119.3 1403.0,1119.1 1403.5,1119.0 1404.0,1119.0 1404.5,1119.0 1405.0,1119.2 1405.5,1119.4 1406.0,1119.6 1406.5,1120.0 1407.0,1120.4 1407.5,1120.9 1408.0,1121.5 1408.5,1122.1 1409.0,1122.8 1409.5,1123.5 1410.0,1124.3 1410.5,1125.1 1411.0,1125.9 1411.5,1126.8 1412.0,1127.7 1412.5,1128.6 1413.0,1129.4 1413.5,1130.3 1414.0,1131.2 1414.5,1132.1 1415.0,1132.9 1415.5,1133.7 1416.0,1134.5 1416.5,1135.2 1417.0,1135.9 1417.5,1136.5 1418.0,1137.1 1418.5,1137.6 1419.0,1138.0 1419.5,1138.4 1420.0,1138.6 1420.5,1138.8 1421.0,1139.0 1421.5,1139.0 1422.0,1138.9 1422.5,1138.7 1423.0,1138.3 1423.5,1137.8 1424.0,1137.1 1424.5,1136.4 1425.0,1135.5 1425.5,1134.5 1426.0,1133.4 1426.5,1132.2 1427.0,1131.0 1427.5,1129.7 1428.0,1128.4 1428.5,1127.1 1429.0,1125.8 1429.5,1124.5 1430.0,1123.3 1430.5,1122.1 1431.0,1121.0 1431.5,1120.0 1432.0,1119.1 1432.5,1118.4 1433.0,1117.7 1433.5,1117.2 1434.0,1116.8 1434.5,1116.6 1435.0,1116.5 1435.5,1116.5 1436.0,1116.7 1436.5,1116.9 1437.0,1117.3 1437.5,1117.7 1438.0,1118.2 1438.5,1118.7 1439.0,1119.4 1439.5,1120.1 1440.0,1120.9 1440.5,1121.8 1441.0,1122.6 1441.5,1123.6 1442.0,1124.5 1442.5,1125.5 1443.0,1126.5 1443.5,1127.5 1444.0,1128.5 1444.5,1129.5 1445.0,1130.4 1445.5,1131.4 1446.0,1132.2 1446.5,1133.1 1447.0,1133.9 1447.5,1134.6 1448.0,1135.3 1448.5,1135.8 1449.0,1136.3 1449.5,1136.7 1450.0,1137.1 1450.5,1137.3 1451.0,1137.5 1451.5,1137.5 1452.0,1137.4 1452.5,1137.1 1453.0,1136.7 1453.5,1136.0 1454.0,1135.3 1454.5,1134.3 1455.0,1133.2 1455.5,1132.0 1456.0,1130.8 1456.5,1129.4 1457.0,1128.0 1457.5,1126.5 1458.0,1125.0 1458.5,1123.5 1459.0,1122.1 1459.5,1120.7 1460.0,1119.5 1460.5,1118.3 1461.0,1117.2 1461.5,1116.2 1462.0,1115.5 1462.5,1114.8 1463.0,1114.4 1463.5,1114.1 1464.0,1114.0 1464.5,1114.0 1465.0,1114.2 1465.5,1114.4 1466.0,1114.8 1466.5,1115.2 1467.0,1115.7 1467.5,1116.3 1468.0,1117.0 1468.5,1117.7 1469.0,1118.5 1469.5,1119.4 1470.0,1120.3 1470.5,1121.2 1471.0,1122.2 1471.5,1123.2 1472.0,1124.2 1472.5,1125.3 1473.0,1126.3 1473.5,1127.3 1474.0,1128.3 1474.5,1129.2 1475.0,1130.1 1475.5,1131.0 1476.0,1131.8 1476.5,1132.5 1477.0,1133.2 1477.5,1133.8 1478.0,1134.3 1478.5,1134.7 1479.0,1135.1 1479.5,1135.3 1480.0,1135.5 1480.5,1135.5 1481.0,1135.4 1481.5,1135.2 1482.0,1134.8 1482.5,1134.2 1483.0,1133.5 1483.5,1132.7 1484.0,1131.8 1484.5,1130.7 1485.0,1129.6 1485.5,1128.4 1486.0,1127.2 1486.5,1125.9 1487.0,1124.6 1487.5,1123.3 1488.0,1122.1 1488.5,1120.9 1489.0,1119.8 1489.5,1118.7 1490.0,1117.8 1490.5,1117.0 1491.0,1116.3 1491.5,1115.7 1492.0,1115.3 1492.5,1115.1 1493.0,1115.0 1493.5,1115.1 1494.0,1115.2 1494.5,1115.5 1495.0,1115.9 1495.5,1116.4 1496.0,1117.0 1496.5,1117.7 1497.0,1118.4 1497.5,1119.3 1498.0,1120.2 1498.5,1121.2 1499.0,1122.3 1499.5,1123.3 1500.0,1124.5 1500.5,1125.6 1501.0,1126.8 1501.5,1127.9 1502.0,1129.0 1502.5,1130.2 1503.0,1131.2 1503.5,1132.3 1504.0,1133.3 1504.5,1134.2 1505.0,1135.1 1505.5,1135.8 1506.0,1136.5 1506.5,1137.1 1507.0,1137.6 1507.5,1138.0 1508.0,1138.3 1508.5,1138.4 1509.0,1138.5 1509.5,1138.5 1510.0,1138.3 1510.5,1138.1 1511.0,1137.8 1511.5,1137.4 1512.0,1136.9 1512.5,1136.4 1513.0,1135.8 1513.5,1135.1 1514.0,1134.4 1514.5,1133.7 1515.0,1132.9 1515.5,1132.1 1516.0,1131.4 1516.5,1130.6 1517.0,1129.8 1517.5,1129.1 1518.0,1128.4 1518.5,1127.7 1519.0,1127.1 1519.5,1126.6 1520.0,1126.1 1520.5,1125.7 1521.0,1125.4 1521.5,1125.2 1522.0,1125.0 1522.5,1125.0 1523.0,1125.0 1523.5,1125.1 1524.0,1125.2 1524.5,1125.4 1525.0,1125.7 1525.5,1125.9 1526.0,1126.3 1526.5,1126.6 1527.0,1127.0 1527.5,1127.5 1528.0,1127.9 1528.5,1128.4 1529.0,1128.9 1529.5,1129.5 1530.0,1130.0 1530.5,1130.5 1531.0,1131.0 1531.5,1131.6 1532.0,1132.1 1532.5,1132.6 1533.0,1133.0 1533.5,1133.5 1534.0,1133.9 1534.5,1134.2 1535.0,1134.6 1535.5,1134.8 1536.0,1135.1 1536.5,1135.3 1537.0,1135.4 1537.5,1135.5 1538.0,1135.5 1538.5,1135.5 1539.0,1135.3 1539.5,1135.1 1540.0,1134.9 1540.5,1134.5 1541.0,1134.1 1541.5,1133.7 1542.0,1133.1 1542.5,1132.5 1543.0,1131.9 1543.5,1131.2 1544.0,1130.6 1544.5,1129.8 1545.0,1129.1 1545.5,1128.4 1546.0,1127.7 1546.5,1126.9 1547.0,1126.3 1547.5,1125.6 1548.0,1125.0 1548.5,1124.4 1549.0,1123.8 1549.5,1123.4 1550.0,1123.0 1550.5,1122.6 1551.0,1122.4 1551.5,1122.2 1552.0,1122.0 1552.5,1122.0 1553.0,1122.0 1553.5,1122.1 1554.0,1122.3 1554.5,1122.6 1555.0,1122.9 1555.5,1123.3 1556.0,1123.7 1556.5,1124.2 1557.0,1124.8 1557.5,1125.4 1558.0,1126.0 1558.5,1126.7 1559.0,1127.3 1559.5,1128.0 1560.0,1128.8 1560.5,1129.5 1561.0,1130.2 1561.5,1130.8 1562.0,1131.5 1562.5,1132.1 1563.0,1132.7 1563.5,1133.3 1564.0,1133.8 1564.5,1134.2 1565.0,1134.6 1565.5,1134.9 1566.0,1135.2 1566.5,1135.4 1567.0,1135.5 1567.5,1135.5 1568.0,1135.5 1568.5,1135.3 1569.0,1135.1 1569.5,1134.9 1570.0,1134.5 1570.5,1134.1 1571.0,1133.7 1571.5,1133.1 1572.0,1132.6 1572.5,1132.0 1573.0,1131.3 1573.5,1130.6 1574.0,1129.9 1574.5,1129.2 1575.0,1128.6 1575.5,1127.9 1576.0,1127.2 1576.5,1126.5 1577.0,1125.9 1577.5,1125.4 1578.0,1124.8 1578.5,1124.4 1579.0,1124.0 1579.5,1123.6 1580.0,1123.4 1580.5,1123.2 1581.0,1123.0 1581.5,1123.0 1582.0,1123.0 1582.5,1123.1 1583.0,1123.2 1583.5,1123.3 1584.0,1123.5 1584.5,1123.7 1585.0,1123.9 1585.5,1124.2 1586.0,1124.5 1586.5,1124.8 1587.0,1125.1 1587.5,1125.5 1588.0,1125.9 1588.5,1126.3 1589.0,1126.7 1589.5,1127.1 1590.0,1127.5 1590.5,1128.0 1591.0,1128.4 1591.5,1128.8 1592.0,1129.2 1592.5,1129.6 1593.0,1130.0 1593.5,1130.4 1594.0,1130.7 1594.5,1131.0 1595.0,1131.3 1595.5,1131.6 1596.0,1131.8 1596.5,1132.0 1597.0,1132.2 1597.5,1132.3 1598.0,1132.4 1598.5,1132.5 1599.0,1132.5 1599.5,1132.5 1600.0,1132.4 1600.5,1132.2 1601.0,1132.0 1601.5,1131.8 1602.0,1131.4 1602.5,1131.1 1603.0,1130.7 1603.5,1130.2 1604.0,1129.8 1604.5,1129.2 1605.0,1128.7 1605.5,1128.1 1606.0,1127.6 1606.5,1127.0 1607.0,1126.4 1607.5,1125.9 1608.0,1125.3 1608.5,1124.8 1609.0,1124.2 1609.5,1123.8 1610.0,1123.3 1610.5,1122.9 1611.0,1122.6 1611.5,1122.2 1612.0,1122.0 1612.5,1121.8 1613.0,1121.6 1613.5,1121.5 1614.0,1121.5 1614.5,1121.5 1615.0,1121.6 1615.5,1121.8 1616.0,1122.0 1616.5,1122.2 1617.0,1122.6 1617.5,1122.9 1618.0,1123.3 1618.5,1123.8 1619.0,1124.2 1619.5,1124.8 1620.0,1125.3 1620.5,1125.9 1621.0,1126.4 1621.5,1127.0 1622.0,1127.6 1622.5,1128.1 1623.0,1128.7 1623.5,1129.2 1624.0,1129.8 1624.5,1130.2 1625.0,1130.7 1625.5,1131.1 1626.0,1131.4 1626.5,1131.8 1627.0,1132.0 1627.5,1132.2 1628.0,1132.4 1628.5,1132.5 1629.0,1132.5 1629.5,1132.5 1630.0,1132.4 1630.5,1132.2 1631.0,1132.0 1631.5,1131.8 1632.0,1131.5 1632.5,1131.2 1633.0,1130.8 1633.5,1130.3 1634.0,1129.9 1634.5,1129.4 1635.0,1128.9 1635.5,1128.3 1636.0,1127.8 1636.5,1127.2 1637.0,1126.7 1637.5,1126.2 1638.0,1125.6 1638.5,1125.1 1639.0,1124.6 1639.5,1124.2 1640.0,1123.7 1640.5,1123.3 1641.0,1123.0 1641.5,1122.7 1642.0,1122.5 1642.5,1122.3 1643.0,1122.1 1643.5,1122.0 1644.0,1122.0 1644.5,1122.0 1645.0,1122.1 1645.5,1122.3 1646.0,1122.5 1646.5,1122.7 1647.0,1123.1 1647.5,1123.4 1648.0,1123.8 1648.5,1124.3 1649.0,1124.8 1649.5,1125.3 1650.0,1125.8 1650.5,1126.4 1651.0,1126.9 1651.5,1127.5 1652.0,1128.1 1652.5,1128.6 1653.0,1129.2 1653.5,1129.7 1654.0,1130.2 1654.5,1130.7 1655.0,1131.2 1655.5,1131.6 1656.0,1131.9 1656.5,1132.3 1657.0,1132.5 1657.5,1132.7 1658.0,1132.9 1658.5,1133.0 1659.0,1133.0 1659.5,1133.0 1660.0,1132.9 1660.5,1132.7 1661.0,1132.5 1661.5,1132.2 1662.0,1131.9 1662.5,1131.5 1663.0,1131.1 1663.5,1130.6 1664.0,1130.1 1664.5,1129.5 1665.0,1129.0 1665.5,1128.4 1666.0,1127.8 1666.5,1127.2 1667.0,1126.6 1667.5,1126.0 1668.0,1125.5 1668.5,1124.9 1669.0,1124.4 1669.5,1123.9 1670.0,1123.5 1670.5,1123.1 1671.0,1122.8 1671.5,1122.5 1672.0,1122.3 1672.5,1122.1 1673.0,1122.0 1673.5,1122.0 1674.0,1122.0 1674.5,1122.1 1675.0,1122.3 1675.5,1122.5 1676.0,1122.7 1676.5,1123.1 1677.0,1123.4 1677.5,1123.8 1678.0,1124.3 1678.5,1124.8 1679.0,1125.3 1679.5,1125.8 1680.0,1126.4 1680.5,1126.9 1681.0,1127.5 1681.5,1128.1 1682.0,1128.6 1682.5,1129.2 1683.0,1129.7 1683.5,1130.2 1684.0,1130.7 1684.5,1131.2 1685.0,1131.6 1685.5,1131.9 1686.0,1132.3 1686.5,1132.5 1687.0,1132.7 1687.5,1132.9 1688.0,1133.0 1688.5,1133.0 1689.0,1133.0 1689.5,1132.9 1690.0,1132.7 1690.5,1132.5 1691.0,1132.2 1691.5,1131.9 1692.0,1131.5 1692.5,1131.1 1693.0,1130.6 1693.5,1130.1 1694.0,1129.5 1694.5,1129.0 1695.0,1128.4 1695.5,1127.8 1696.0,1127.2 1696.5,1126.6 1697.0,1126.0 1697.5,1125.5 1698.0,1124.9 1698.5,1124.4 1699.0,1123.9 1699.5,1123.5 1700.0,1123.1 1700.5,1122.8 1701.0,1122.5 1701.5,1122.3 1702.0,1122.1 1702.5,1122.0 1703.0,1122.0 1703.5,1122.0 1704.0,1122.1 1704.5,1122.3 1705.0,1122.5 1705.5,1122.7 1706.0,1123.1 1706.5,1123.4 1707.0,1123.8 1707.5,1124.3 1708.0,1124.8 1708.5,1125.3 1709.0,1125.8 1709.5,1126.4 1710.0,1126.9 1710.5,1127.5 1711.0,1128.1 1711.5,1128.6 1712.0,1129.2 1712.5,1129.7 1713.0,1130.2 1713.5,1130.7 1714.0,1131.2 1714.5,1131.6 1715.0,1131.9 1715.5,1132.3 1716.0,1132.5 1716.5,1132.7 1717.0,1132.9 1717.5,1133.0 1718.0,1133.0 1718.5,1133.0 1719.0,1132.9 1719.5,1132.7 1720.0,1132.5 1720.5,1132.2 1721.0,1131.9 1721.5,1131.5 1722.0,1131.1 1722.5,1130.6 1723.0,1130.1 1723.5,1129.5 1724.0,1129.0 1724.5,1128.4 1725.0,1127.8 1725.5,1127.2 1726.0,1126.6 1726.5,1126.0 1727.0,1125.5 1727.5,1124.9 1728.0,1124.4 1728.5,1123.9 1729.0,1123.5 1729.5,1123.1 1730.0,1122.8 1730.5,1122.5 1731.0,1122.3 1731.5,1122.1 1732.0,1122.0 1732.5,1122.0 1733.0,1122.0 1733.5,1122.1 1734.0,1122.3 1734.5,1122.5 1735.0,1122.7 1735.5,1123.1 1736.0,1123.4 1736.5,1123.8 1737.0,1124.3 1737.5,1124.8 1738.0,1125.3 1738.5,1125.8 1739.0,1126.4 1739.5,1126.9 1740.0,1127.5 1740.5,1128.1 1741.0,1128.6 1741.5,1129.2 1742.0,1129.7 1742.5,1130.2 1743.0,1130.7 1743.5,1131.2 1744.0,1131.6 1744.5,1131.9 1745.0,1132.3 1745.5,1132.5 1746.0,1132.7 1746.5,1132.9 1747.0,1133.0 1747.5,1133.0 1748.0,1133.0 1748.5,1132.9 1749.0,1132.7 1749.5,1132.5 1750.0,1132.2 1750.5,1131.9 1751.0,1131.5 1751.5,1131.1 1752.0,1130.6 1752.5,1130.1 1753.0,1129.5 1753.5,1129.0 1754.0,1128.4 1754.5,1127.8 1755.0,1127.2 1755.5,1126.6 1756.0,1126.0 1756.5,1125.5 1757.0,1124.9 1757.5,1124.4 1758.0,1123.9 1758.5,1123.5 1759.0,1123.1 1759.5,1122.8 1760.0,1122.5 1760.5,1122.3 1761.0,1122.1 1761.5,1122.0 1762.0,1122.0 1762.5,1122.0 1763.0,1122.1 1763.5,1122.3 1764.0,1122.5 1764.5,1122.7 1765.0,1123.1 1765.5,1123.4 1766.0,1123.8 1766.5,1124.3 1767.0,1124.8 1767.5,1125.3 1768.0,1125.8 1768.5,1126.4 1769.0,1126.9 1769.5,1127.5 1770.0,1128.1 1770.5,1128.6 1771.0,1129.2 1771.5,1129.7 1772.0,1130.2 1772.5,1130.7 1773.0,1131.2 1773.5,1131.6 1774.0,1131.9 1774.5,1132.3 1775.0,1132.5 1775.5,1132.7 1776.0,1132.9 1776.5,1133.0 1777.0,1133.0 1777.5,1133.0 1778.0,1132.9 1778.5,1132.7 1779.0,1132.5 1779.5,1132.2 1780.0,1131.9 1780.5,1131.5 1781.0,1131.1 1781.5,1130.6 1782.0,1130.1 1782.5,1129.5 1783.0,1129.0 1783.5,1128.4 1784.0,1127.8 1784.5,1127.2 1785.0,1126.6 1785.5,1126.0 1786.0,1125.5 1786.5,1124.9 1787.0,1124.4 1787.5,1123.9 1788.0,1123.5 1788.5,1123.1 1789.0,1122.8 1789.5,1122.5 1790.0,1122.3 1790.5,1122.1 1791.0,1122.0 1791.5,1122.0 1792.0,1122.0 1792.5,1122.1 1793.0,1122.3 1793.5,1122.5 1794.0,1122.7 1794.5,1123.1 1795.0,1123.4 1795.5,1123.8 1796.0,1124.3 1796.5,1124.8 1797.0,1125.3 1797.5,1125.8 1798.0,1126.4 1798.5,1126.9 1799.0,1127.5 1799.5,1128.1 1800.0,1128.6 1800.5,1129.2 1801.0,1129.7 1801.5,1130.2 1802.0,1130.7 1802.5,1131.2 1803.0,1131.6 1803.5,1131.9 1804.0,1132.3 1804.5,1132.5 1805.0,1132.7 1805.5,1132.9 1806.0,1133.0 1806.5,1133.0 1807.0,1133.0 1807.5,1132.9 1808.0,1132.7 1808.5,1132.5 1809.0,1132.2 1809.5,1131.9 1810.0,1131.5 1810.5,1131.1 1811.0,1130.6 1811.5,1130.1 1812.0,1129.5 1812.5,1129.0 1813.0,1128.4 1813.5,1127.8 1814.0,1127.2 1814.5,1126.6 1815.0,1126.0 1815.5,1125.5 1816.0,1124.9 1816.5,1124.4 1817.0,1123.9 1817.5,1123.5 1818.0,1123.1 1818.5,1122.8 1819.0,1122.5 1819.5,1122.3 1820.0,1122.1 1820.5,1122.0 1821.0,1122.0 1821.5,1122.0 1822.0,1122.1 1822.5,1122.3 1823.0,1122.5 1823.5,1122.7 1824.0,1123.1 1824.5,1123.4 1825.0,1123.8 1825.5,1124.3 1826.0,1124.8 1826.5,1125.3 1827.0,1125.8 1827.5,1126.4 1828.0,1126.9 1828.5,1127.5 1829.0,1128.1 1829.5,1128.6 1830.0,1129.2 1830.5,1129.7 1831.0,1130.2 1831.5,1130.7 1832.0,1131.2 1832.5,1131.6 1833.0,1131.9 1833.5,1132.3 1834.0,1132.5 1834.5,1132.7 1835.0,1132.9 1835.5,1133.0 1836.0,1133.0 1836.5,1133.0 1837.0,1132.9 1837.5,1132.7 1838.0,1132.5 1838.5,1132.2 1839.0,1131.9 1839.5,1131.5 1840.0,1131.1 1840.5,1130.6 1841.0,1130.1 1841.5,1129.5 1842.0,1129.0 1842.5,1128.4 1843.0,1127.8 1843.5,1127.2 1844.0,1126.6 1844.5,1126.0 1845.0,1125.5 1845.5,1124.9 1846.0,1124.4 1846.5,1123.9 1847.0,1123.5 1847.5,1123.1 1848.0,1122.8 1848.5,1122.5 1849.0,1122.3 1849.5,1122.1 1850.0,1122.0 1850.5,1122.0 1851.0,1122.0 1851.5,1122.1 1852.0,1122.3 1852.5,1122.5 1853.0,1122.7 1853.5,1123.1 1854.0,1123.4 1854.5,1123.8 1855.0,1124.3 1855.5,1124.8 1856.0,1125.3 1856.5,1125.8 1857.0,1126.4 1857.5,1126.9 1858.0,1127.5 1858.5,1128.1 1859.0,1128.6 1859.5,1129.2 1860.0,1129.7 1860.5,1130.2 1861.0,1130.7 1861.5,1131.2 1862.0,1131.6 1862.5,1131.9 1863.0,1132.3 1863.5,1132.5 1864.0,1132.7 1864.5,1132.9 1865.0,1133.0 1865.5,1133.0 1866.0,1133.0 1866.5,1132.9 1867.0,1132.7 1867.5,1132.5 1868.0,1132.2 1868.5,1131.9 1869.0,1131.5 1869.5,1131.1 1870.0,1130.6 1870.5,1130.1 1871.0,1129.5 1871.5,1129.0 1872.0,1128.4 1872.5,1127.8 1873.0,1127.2 1873.5,1126.6 1874.0,1126.0 1874.5,1125.5 1875.0,1124.9 1875.5,1124.4 1876.0,1123.9 1876.5,1123.5 1877.0,1123.1 1877.5,1122.8 1878.0,1122.5 1878.5,1122.3 1879.0,1122.1 1879.5,1122.0 1880.0,1122.0 1880.5,1122.0 1881.0,1122.1 1881.5,1122.3 1882.0,1122.5 1882.5,1122.7 1883.0,1123.1 1883.5,1123.4 1884.0,1123.8 1884.5,1124.3 1885.0,1124.8 1885.5,1125.3 1886.0,1125.8 1886.5,1126.4 1887.0,1126.9 1887.5,1127.5 1888.0,1128.1 1888.5,1128.6 1889.0,1129.2 1889.5,1129.7 1890.0,1130.2 1890.5,1130.7 1891.0,1131.2 1891.5,1131.6 1892.0,1131.9 1892.5,1132.3 1893.0,1132.5 1893.5,1132.7 1894.0,1132.9 1894.5,1133.0 1895.0,1133.0 1895.5,1133.0 1896.0,1132.9 1896.5,1132.7 1897.0,1132.5 1897.5,1132.2 1898.0,1131.9 1898.5,1131.5 1899.0,1131.1 1899.5,1130.6 1900.0,1130.1 1900.5,1129.5 1901.0,1129.0 1901.5,1128.4 1902.0,1127.8 1902.5,1127.2 1903.0,1126.6 1903.5,1126.0 1904.0,1125.5 1904.5,1124.9 1905.0,1124.4 1905.5,1123.9 1906.0,1123.5 1906.5,1123.1 1907.0,1122.8 1907.5,1122.5 1908.0,1122.3 1908.5,1122.1 1909.0,1122.0 1909.5,1122.0 1910.0,1122.0 1910.5,1122.1 1911.0,1122.3 1911.5,1122.5 1912.0,1122.7 1912.5,1123.1 1913.0,1123.4 1913.5,1123.8 1914.0,1124.3 1914.5,1124.8 1915.0,1125.3 1915.5,1125.8 1916.0,1126.4 1916.5,1126.9 1917.0,1127.5 1917.5,1128.1 1918.0,1128.6 1918.5,1129.2 1919.0,1129.7 1919.5,1130.2 1920.0,1130.7 1920.5,1131.2 1921.0,1131.6 1921.5,1131.9 1922.0,1132.3 1922.5,1132.5 1923.0,1132.7 1923.5,1132.9 1924.0,1133.0 1924.5,1133.0 1925.0,1133.0 1925.5,1132.9 1926.0,1132.7 1926.5,1132.5 1927.0,1132.2 1927.5,1131.9 1928.0,1131.5 1928.5,1131.1 1929.0,1130.6 1929.5,1130.1 1930.0,1129.5 1930.5,1129.0 1931.0,1128.4 1931.5,1127.8 1932.0,1127.2 1932.5,1126.6 1933.0,1126.0 1933.5,1125.5 1934.0,1124.9 1934.5,1124.4 1935.0,1123.9 1935.5,1123.5 1936.0,1123.1 1936.5,1122.8 1937.0,1122.5 1937.5,1122.3 1938.0,1122.1 1938.5,1122.0 1939.0,1122.0 1939.5,1122.0 1940.0,1122.1 1940.5,1122.3 1941.0,1122.5 1941.5,1122.7 1942.0,1123.1 1942.5,1123.4 1943.0,1123.8 1943.5,1124.3 1944.0,1124.8 1944.5,1125.3 1945.0,1125.8 1945.5,1126.4 1946.0,1126.9 1946.5,1127.5 1947.0,1128.1 1947.5,1128.6 1948.0,1129.2 1948.5,1129.7 1949.0,1130.2 1949.5,1130.7 1950.0,1131.2 1950.5,1131.6 1951.0,1131.9 1951.5,1132.3 1952.0,1132.5 1952.5,1132.7 1953.0,1132.9 1953.5,1133.0 1954.0,1133.0 1954.5,1133.0 1955.0,1132.9 1955.5,1132.7 1956.0,1132.5 1956.5,1132.2 1957.0,1131.9 1957.5,1131.5 1958.0,1131.1 1958.5,1130.6 1959.0,1130.1 1959.5,1129.5 1960.0,1129.0 1960.5,1128.4 1961.0,1127.8 1961.5,1127.2 1962.0,1126.6 1962.5,1126.0 1963.0,1125.5 1963.5,1124.9 1964.0,1124.4 1964.5,1123.9 1965.0,1123.5 1965.5,1123.1 1966.0,1122.8 1966.5,1122.5 1967.0,1122.3 1967.5,1122.1 1968.0,1122.0 1968.5,1122.0 1969.0,1122.0 1969.5,1122.1 1970.0,1122.3 1970.5,1122.5 1971.0,1122.7 1971.5,1123.1 1972.0,1123.4 1972.5,1123.8 1973.0,1124.3 1973.5,1124.8 1974.0,1125.3 1974.5,1125.8 1975.0,1126.4 1975.5,1126.9 1976.0,1127.5 1976.5,1128.1 1977.0,1128.6 1977.5,1129.2 1978.0,1129.7 1978.5,1130.2 1979.0,1130.7 1979.5,1131.2 1980.0,1131.6 1980.5,1131.9 1981.0,1132.3 1981.5,1132.5 1982.0,1132.7 1982.5,1132.9 1983.0,1133.0 1983.5,1133.0 1984.0,1133.0 1984.5,1132.9 1985.0,1132.7" fill="none" stroke="#ff0000" stroke-width="2.3" stroke-linejoin="round"/>
</g>
<rect x="1395" y="928" width="2" height="18" fill="#000"/>
<rect x="1396" y="1517" width="1" height="18" fill="#000"/>
<rect x="1631" y="928" width="2" height="18" fill="#000"/>
<rect x="1631" y="1517" width="2" height="18" fill="#000"/>
<rect x="1749" y="928" width="2" height="18" fill="#000"/>
<rect x="1749" y="1517" width="2" height="18" fill="#000"/>
<rect x="1867" y="928" width="2" height="18" fill="#000"/>
<rect x="1867" y="1517" width="2" height="18" fill="#000"/>
<rect x="1278" y="1517" width="1" height="18" fill="#000"/>
<rect x="1514" y="1517" width="1" height="18" fill="#000"/>
<rect x="1161" y="1027" width="9" height="1" fill="#000"/>
<rect x="1976" y="1027" width="9" height="1" fill="#000"/>
<rect x="1161" y="1228" width="9" height="1" fill="#000"/>
<rect x="1976" y="1228" width="9" height="1" fill="#000"/>
<rect x="1161" y="1329" width="9" height="1" fill="#000"/>
<rect x="1976" y="1329" width="9" height="1" fill="#000"/>
<rect x="1161" y="1430" width="9" height="1" fill="#000"/>
<rect x="1976" y="1430" width="9" height="1" fill="#000"/>
<rect x="1161" y="1530" width="9" height="1" fill="#000"/>
<rect x="1976" y="1530" width="9" height="1" fill="#000"/>
<rect x="1160" y="925" width="1" height="612" fill="#000"/>
<rect x="1160" y="925" width="827" height="3" fill="#000"/>
<rect x="1985" y="925" width="2" height="612" fill="#000"/>
<rect x="1160" y="1535" width="827" height="2" fill="#000"/>
<polygon points="1271.0,926.0 1285.6,926.0 1278.3,946.4" fill="#ff0000"/>
<polygon points="1507.2,926.0 1521.8,926.0 1514.5,946.4" fill="#ff0000"/>
<line x1="1674.0" y1="1223.0" x2="1527.8" y2="1147.7" stroke="#000" stroke-width="4.5"/>
<polygon points="1510.0,1138.5 1532.9,1142.2 1526.3,1155.0" fill="#000"/>
<text transform="translate(1078.72,944.42) scale(1.0902,1)" font-size="47.80" fill="#000">600</text>
<text transform="translate(1079.51,1045.52) scale(1.0789,1)" font-size="47.80" fill="#000">500</text>
<text transform="translate(1079.57,1146.32) scale(1.0780,1)" font-size="47.80" fill="#000">400</text>
<text transform="translate(1079.27,1247.02) scale(1.0822,1)" font-size="47.80" fill="#000">300</text>
<text transform="translate(1078.24,1347.82) scale(1.0970,1)" font-size="47.80" fill="#000">200</text>
<text transform="translate(1080.73,1447.82) scale(1.0498,1)" font-size="47.80" fill="#000">100</text>
<text transform="translate(1129.76,1548.12) scale(1.0659,1)" font-size="47.80" fill="#000">0</text>
<text transform="translate(1128.70,1599.48) scale(1.0979,1)" font-size="47.80" fill="#000">0.9</text>
<text transform="translate(1248.95,1599.48) scale(1.0711,1)" font-size="47.80" fill="#000">1.0</text>
<text transform="translate(1367.46,1599.48) scale(0.9940,1)" font-size="47.80" fill="#000">1.1</text>
<text transform="translate(1486.99,1599.48) scale(1.0856,1)" font-size="47.80" fill="#000">1.2</text>
<text transform="translate(1602.52,1599.48) scale(1.0284,1)" font-size="47.80" fill="#000">1.3</text>
<text transform="translate(1721.20,1599.48) scale(1.0333,1)" font-size="47.80" fill="#000">1.4</text>
<text transform="translate(1840.80,1599.48) scale(1.0339,1)" font-size="47.80" fill="#000">1.5</text>
<text transform="translate(1954.00,1596.98) scale(1.0340,1)" font-size="47.80" fill="#000">1.6</text>
<text transform="translate(1064.14,1466.96) rotate(-90) scale(0.9171,1)" font-size="58.90" fill="#000">Capacitive voltage(V)</text>
<text transform="translate(1528.49,1269.00) scale(1.0697,1)" font-size="48.00" fill="#000">Adaptive quasi-</text>
<text transform="translate(1522.97,1327.50) scale(1.0773,1)" font-size="48.00" fill="#000">resonant control</text>
<text transform="translate(1521.01,1649.78) scale(1.1143,1)" font-size="64.73" fill="#222"><tspan font-style="italic" font-weight="bold" font-size="59.55">t</tspan>(<tspan font-weight="bold" font-size="59.55">s</tspan>)</text>
</g>
</svg>
</body></html>
